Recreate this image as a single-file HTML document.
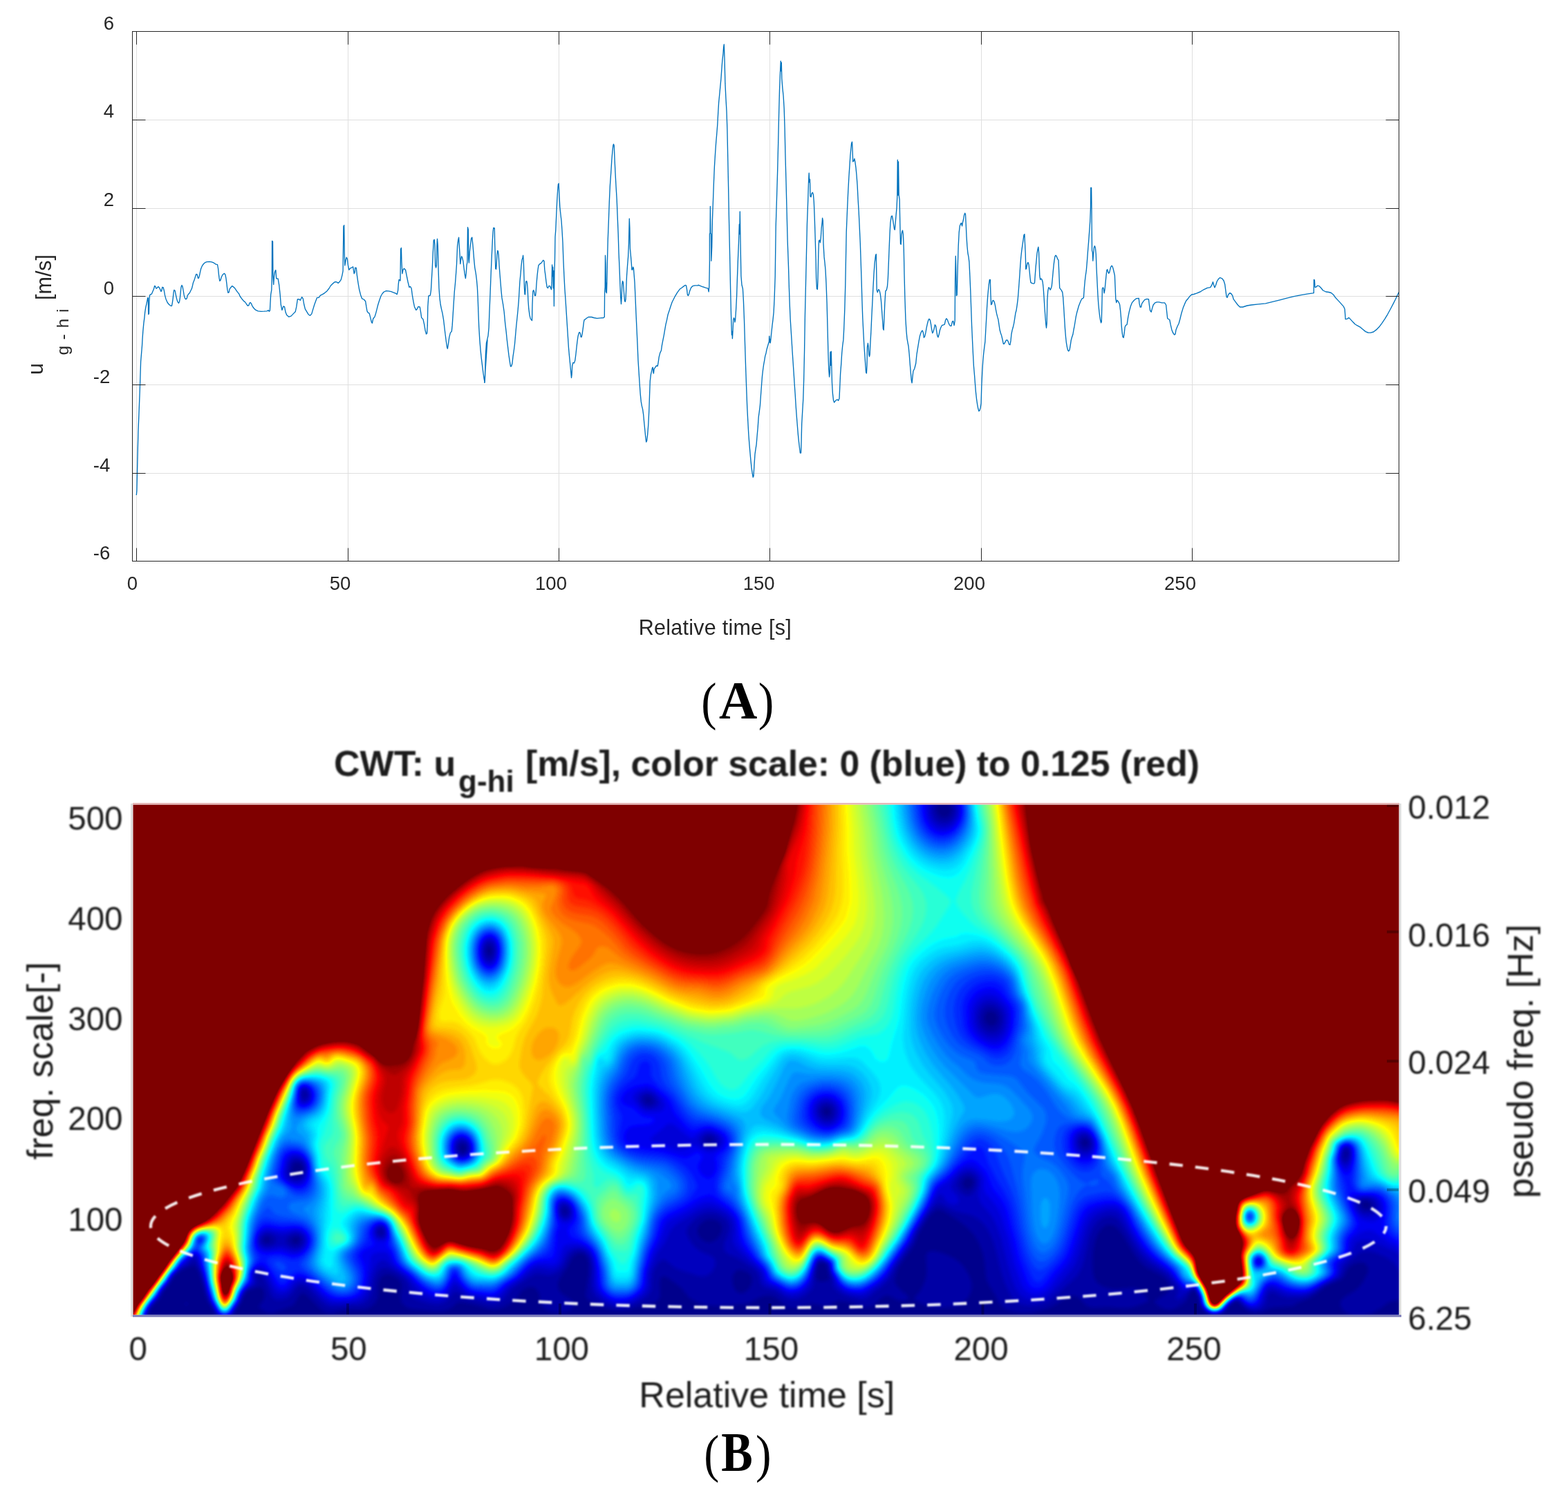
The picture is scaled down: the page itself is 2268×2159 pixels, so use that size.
<!DOCTYPE html>
<html lang="en"><head><meta charset="utf-8"><title>CWT figure</title>
<style>html,body{margin:0;padding:0;background:#fff;}svg{display:block;}</style></head>
<body>
<svg xmlns="http://www.w3.org/2000/svg" width="2268" height="2159" viewBox="0 0 2268 2159">
<g id="chartA">
<path d="M197.5 45.5V811.5M503.5 45.5V811.5M808.5 45.5V811.5M1113.5 45.5V811.5M1419.5 45.5V811.5M1724.5 45.5V811.5M191.5 684.5H2023.5M191.5 556.5H2023.5M191.5 428.5H2023.5M191.5 301.5H2023.5M191.5 173.5H2023.5" stroke="#dfdfdf" stroke-width="1" fill="none"/>
<path d="M197.3,716.0 197.9,709.6 198.9,665.0 199.9,624.4 200.9,600.0 202.3,563.8 203.6,523.0 205.5,500.0 206.0,490.8 206.8,479.1 207.9,467.4 209.0,458.8 209.7,451.4 210.8,444.4 211.9,439.6 212.9,434.8 213.7,430.6 214.3,430.6 214.7,454.6 215.4,453.5 215.8,436.4 216.6,426.9 217.9,425.6 219.3,425.3 220.9,421.5 222.5,417.8 223.6,413.5 224.6,413.8 226.0,417.3 227.3,416.2 228.9,414.6 230.3,415.7 231.8,418.9 232.9,421.5 233.7,420.5 234.8,415.3 236.1,415.7 237.4,420.5 238.5,426.9 239.9,432.2 242.2,437.5 244.4,440.2 247.0,442.3 248.4,442.3 249.2,438.6 250.2,431.6 251.0,423.7 251.8,419.4 253.1,420.2 254.2,425.8 255.6,432.2 256.9,436.4 258.4,438.4 259.5,436.4 260.4,430.6 261.2,422.6 262.0,415.1 263.0,412.5 264.1,414.6 265.2,420.5 266.2,426.9 267.6,431.6 268.9,432.7 270.2,431.6 271.2,427.4 272.6,425.3 274.2,423.7 275.8,420.5 277.4,417.3 278.5,413.0 279.3,409.3 280.6,406.1 281.9,402.3 283.0,398.6 283.8,396.5 285.1,397.0 286.5,402.3 287.5,402.1 288.6,398.1 289.7,392.7 290.7,388.5 292.3,384.7 294.5,381.5 296.6,379.7 299.3,378.7 303.0,378.3 306.2,378.9 309.4,380.2 312.1,382.1 314.5,382.6 315.6,388.5 316.3,395.9 317.1,402.3 317.9,406.4 319.0,405.0 320.3,400.7 322.0,397.2 324.5,395.4 325.9,397.2 327.0,402.9 328.0,410.9 328.8,418.3 329.9,423.4 331.2,422.6 332.0,418.3 333.4,416.2 335.8,413.5 337.6,414.9 339.2,416.2 341.4,419.4 343.5,422.4 345.6,424.7 347.2,428.5 349.9,432.2 352.6,435.4 354.7,437.0 356.8,440.2 358.6,442.3 360.0,441.2 361.1,438.0 362.2,437.5 363.5,439.1 364.8,442.3 367.0,445.5 369.6,448.2 373.3,449.8 377.6,450.3 381.9,450.1 386.1,449.8 388.3,448.7 389.3,450.3 390.4,449.2 390.9,439.6 391.7,425.8 392.8,419.4 393.4,395.9 393.6,348.5 394.5,349.0 394.9,398.1 395.7,411.4 396.6,398.1 397.7,392.7 398.7,390.6 398.9,391.0 399.7,402.8 402.1,402.8 403.7,412.2 405.2,426.4 406.3,440.5 407.9,448.4 409.9,442.9 411.5,443.7 413.1,451.6 414.7,455.5 417.8,458.2 421.0,457.1 424.1,453.9 427.2,450.8 428.8,443.7 430.4,432.7 432.7,432.7 434.3,434.3 436.7,429.5 438.3,431.9 439.8,440.5 441.4,446.8 443.8,450.8 446.1,454.7 448.5,456.3 450.8,453.9 452.4,448.4 454.8,440.5 457.1,434.3 458.7,430.3 461.1,430.3 463.4,427.2 466.6,425.6 469.7,423.6 472.9,420.9 476.0,417.0 478.4,413.0 481.5,409.9 484.7,407.5 487.0,407.8 489.1,409.4 490.9,407.8 493.3,404.4 494.9,398.1 496.1,391.8 496.9,327.3 497.7,325.7 498.2,365.0 498.8,383.9 500.1,376.1 501.2,372.1 502.4,374.5 503.5,383.9 504.8,390.2 506.7,387.9 509.0,386.8 510.6,385.8 512.2,395.7 513.3,393.4 513.7,387.1 515.3,387.4 516.4,398.1 518.0,409.1 519.6,418.5 521.6,426.4 523.7,431.9 526.3,433.0 528.7,435.8 529.9,443.7 531.0,450.0 532.6,452.3 534.2,453.1 535.8,459.4 537.3,465.7 538.4,467.3 539.7,461.0 542.1,457.8 543.6,453.1 545.2,446.8 546.8,440.5 548.8,434.3 551.0,428.0 553.1,424.5 555.4,422.0 558.6,420.6 561.7,420.9 565.7,421.7 568.8,422.9 571.9,424.0 574.3,425.6 575.6,420.1 576.3,410.7 577.1,404.4 579.0,405.9 579.6,360.3 580.4,358.4 580.9,377.6 581.9,395.7 583.0,390.2 584.5,388.2 586.6,390.5 588.1,398.1 590.0,407.5 591.9,415.4 593.5,414.3 595.1,417.0 596.3,426.4 597.9,435.8 599.5,443.7 601.8,448.4 603.4,446.8 605.0,443.4 607.3,444.0 608.6,451.6 609.7,459.4 612.0,461.8 613.6,468.9 615.2,478.3 616.5,483.0 617.6,482.2 618.3,470.4 618.8,443.7 619.9,428.0 622.3,427.2 623.4,420.1 624.3,404.4 625.4,385.5 626.2,366.6 627.3,347.7 628.2,346.5 628.9,354.0 629.7,383.9 630.6,387.1 631.4,383.9 632.0,355.6 632.5,345.4 633.3,355.6 634.1,390.2 635.0,417.0 636.0,431.1 637.2,440.5 638.5,446.8 640.0,453.1 641.6,462.6 642.7,472.0 644.0,483.0 645.4,494.0 646.7,502.7 647.4,504.2 648.5,497.2 649.8,487.7 651.4,481.4 653.3,479.1 654.2,470.4 655.3,453.1 656.4,435.8 657.3,421.7 658.4,410.7 659.5,396.5 660.5,382.3 661.6,355.6 662.9,346.2 663.6,343.3 664.4,357.2 665.2,369.8 665.8,381.6 666.8,374.5 667.6,370.6 668.7,372.9 669.9,377.6 671.0,387.1 672.1,395.7 673.4,402.5 674.3,394.9 675.0,383.9 675.9,379.2 676.5,328.6 677.3,332.0 677.8,374.5 678.4,380.0 679.4,363.5 680.5,354.0 681.7,344.6 682.8,343.3 683.9,354.0 684.7,363.5 685.7,376.1 686.8,387.1 688.3,395.7 689.4,404.4 690.4,415.4 691.2,431.1 691.9,451.6 692.7,472.0 693.8,490.9 695.1,506.6 696.4,519.2 697.8,530.2 699.0,539.6 700.1,547.5 701.2,553.0 701.7,542.8 702.5,512.9 703.6,497.2 705.0,491.7 700.8,553.4 701.6,543.1 702.4,512.5 703.5,495.9 704.7,491.2 706.0,485.7 707.1,473.9 707.9,451.9 709.1,423.1 710.2,394.7 711.3,369.6 712.3,348.4 713.1,335.0 713.8,329.5 715.3,329.9 715.7,352.3 716.2,365.7 716.8,388.5 717.6,389.2 718.2,382.2 718.9,368.8 719.7,362.5 720.4,363.0 721.2,368.8 722.0,383.0 723.0,396.3 723.9,407.3 724.9,419.9 726.0,430.9 727.5,439.3 729.1,450.3 730.7,467.6 732.2,480.2 733.3,491.2 734.6,502.2 735.9,513.2 737.3,522.7 738.5,529.8 739.6,529.8 740.9,525.8 742.0,515.6 743.3,507.0 744.5,497.5 745.6,484.9 746.7,472.3 748.0,459.8 749.1,448.8 750.3,434.6 751.9,407.3 753.0,396.3 753.9,385.3 755.0,375.9 756.0,372.7 756.6,369.3 757.3,377.4 757.9,397.9 758.5,416.8 759.0,425.4 759.6,425.9 760.1,415.2 760.7,407.3 761.7,406.5 762.4,408.9 763.2,418.3 763.9,434.1 764.8,446.7 766.1,456.1 767.3,460.8 769.5,463.6 770.0,440.4 770.8,421.5 771.7,419.6 772.7,422.3 773.6,427.5 774.6,427.5 775.2,422.3 776.0,410.5 777.1,397.9 778.0,390.0 779.0,383.7 780.5,381.9 782.6,380.6 784.1,378.7 785.7,376.3 787.0,377.4 787.8,390.0 788.9,397.9 790.0,407.3 791.2,415.2 792.5,416.5 794.1,413.3 795.6,413.9 796.7,416.8 797.5,418.7 798.1,408.9 798.6,383.0 799.2,399.5 799.7,386.1 800.3,416.8 800.8,391.6 801.4,442.7 801.9,394.7 802.5,375.9 803.0,342.8 803.8,332.6 804.7,312.2 805.7,290.9 806.6,276.0 807.4,266.6 808.2,265.3 808.8,279.9 809.8,298.8 810.9,309.8 812.0,319.3 812.9,331.8 814.0,350.7 814.8,374.3 815.9,398.7 816.9,417.6 818.0,433.3 819.2,451.9 820.3,469.2 821.4,486.5 822.4,502.2 823.5,514.8 824.6,525.8 825.5,535.3 826.5,546.3 827.1,541.6 827.7,529.0 829.0,524.3 830.5,525.0 831.8,521.1 832.9,512.5 834.0,502.2 834.9,494.4 836.0,486.5 837.2,481.8 838.1,480.5 839.2,481.8 840.3,487.3 841.2,487.3 842.3,481.8 843.4,473.9 844.4,466.1 845.0,462.9 847.1,461.3 849.4,459.5 851.0,458.5 855.7,458.5 858.9,459.5 863.6,460.4 868.3,459.8 873.0,459.5 874.3,458.2 874.6,422.0 875.2,415.2 875.5,369.3 876.0,381.4 876.5,422.3 876.9,408.9 877.4,423.8 877.9,408.1 878.5,376.7 879.3,346.0 880.4,317.7 881.3,292.5 882.4,268.1 883.7,250.0 884.8,232.0 885.9,218.6 886.9,209.9 887.5,208.4 888.3,210.7 889.1,231.2 890.0,250.0 891.1,270.5 892.2,288.6 893.1,311.4 894.2,338.1 895.0,364.9 896.1,390.0 896.9,411.3 897.7,429.4 898.5,439.6 899.1,430.9 899.7,412.0 900.5,406.5 901.3,408.1 902.0,416.0 902.7,426.2 903.5,434.9 904.3,436.4 905.1,432.5 905.7,418.3 906.5,399.5 907.6,383.7 908.6,371.2 909.5,351.5 910.3,316.1 910.9,330.3 911.4,359.4 912.3,368.8 913.3,380.6 913.9,390.0 914.8,390.0 915.6,386.1 916.4,387.7 917.0,395.5 918.0,408.1 918.9,427.8 919.9,451.9 921.0,475.5 922.1,499.1 923.0,521.1 924.1,538.4 925.2,555.7 926.2,569.9 927.3,580.9 928.4,587.2 929.6,591.9 930.7,599.7 931.7,610.8 932.8,621.8 933.7,631.2 934.7,639.1 935.6,637.5 936.7,628.1 937.8,613.9 938.8,593.5 939.5,573.0 940.3,551.0 941.4,541.6 942.5,536.8 943.5,532.1 944.3,531.3 944.9,538.4 945.4,540.0 946.1,533.7 947.7,531.3 949.3,529.0 951.2,529.3 952.1,524.3 953.2,516.4 954.8,510.1 956.4,507.0 957.5,499.1 958.7,492.8 960.3,484.9 961.6,477.1 963.0,469.2 964.5,462.9 966.1,455.0 968.2,448.8 970.2,442.5 972.1,437.0 974.5,432.2 976.5,428.3 979.6,423.1 983.1,418.3 986.3,416.0 989.4,413.6 991.3,412.4 992.5,412.8 993.5,418.3 994.4,426.2 995.4,427.5 996.5,425.4 997.7,420.7 999.6,416.0 1002.0,413.6 1005.1,412.8 1010.0,412.8 1010.0,412.2 1015.3,414.3 1020.6,416.1 1024.1,417.1 1025.1,421.9 1025.8,414.0 1026.4,380.6 1026.4,338.5 1027.1,336.7 1027.4,298.4 1027.8,336.7 1028.5,338.5 1028.8,377.2 1029.7,356.9 1030.4,319.1 1031.5,289.2 1032.5,262.0 1033.4,240.9 1034.6,221.5 1035.7,205.7 1036.7,194.2 1037.8,180.2 1038.7,163.5 1039.6,148.5 1040.8,136.2 1041.8,125.6 1042.9,114.2 1043.8,101.0 1044.8,87.8 1045.9,78.1 1046.6,68.5 1047.3,64.1 1048.0,84.3 1048.9,120.4 1049.9,141.5 1051.0,160.8 1051.9,187.2 1052.7,225.9 1053.6,269.9 1054.5,318.2 1055.6,368.4 1056.6,417.5 1057.5,455.3 1058.4,484.3 1058.9,479.1 1059.4,489.6 1060.0,479.1 1060.7,462.3 1061.5,459.7 1062.4,461.5 1062.9,465.9 1063.6,462.3 1064.5,449.2 1065.6,428.0 1066.5,399.9 1067.5,373.5 1068.4,352.6 1069.3,324.4 1069.8,338.5 1070.3,305.9 1070.9,342.0 1071.9,399.0 1073.0,412.2 1074.4,417.5 1075.4,435.1 1076.5,463.2 1077.5,496.6 1078.6,530.9 1079.7,561.7 1080.7,588.1 1081.8,609.2 1082.8,627.7 1083.9,642.6 1084.9,654.1 1086.0,666.4 1087.0,676.1 1088.1,684.0 1089.2,690.1 1090.0,688.4 1090.9,673.4 1092.0,656.7 1093.0,649.7 1094.1,642.6 1095.1,630.3 1096.2,618.0 1097.2,603.1 1098.3,595.2 1099.4,586.4 1100.4,572.3 1101.5,557.3 1102.5,544.1 1103.6,534.5 1104.6,527.4 1105.7,521.3 1106.7,515.1 1108.0,510.7 1109.0,505.4 1110.3,501.0 1111.3,497.5 1112.4,494.0 1112.7,486.1 1113.3,494.9 1113.8,490.5 1114.3,495.8 1115.0,489.6 1115.9,480.8 1116.9,471.1 1118.0,462.3 1119.1,451.8 1120.1,431.6 1121.2,399.9 1122.2,327.9 1123.5,286.6 1124.7,246.1 1125.7,205.7 1126.6,166.1 1127.5,130.9 1128.6,102.8 1129.3,88.3 1129.8,102.8 1130.3,90.5 1130.8,113.3 1131.9,127.4 1133.1,138.8 1134.2,157.3 1135.1,185.4 1135.9,222.4 1137.0,262.8 1138.1,306.8 1139.1,347.3 1140.5,385.8 1141.4,416.6 1142.3,442.1 1143.2,462.3 1144.2,478.2 1145.1,492.3 1146.0,507.2 1147.0,522.2 1148.1,538.9 1149.1,554.7 1150.2,570.5 1151.2,587.2 1152.3,602.2 1153.4,616.3 1154.4,628.6 1155.5,639.1 1156.5,647.9 1157.4,655.0 1158.5,655.0 1159.0,641.8 1159.7,612.7 1160.7,595.2 1161.8,576.7 1162.7,547.7 1163.6,506.3 1164.4,457.1 1165.5,409.6 1167.4,324.4 1168.7,290.1 1169.5,263.7 1170.2,250.2 1170.8,263.7 1171.5,259.3 1172.0,283.9 1173.1,284.8 1173.9,280.1 1175.3,278.3 1176.4,281.3 1177.3,291.9 1178.2,313.9 1179.2,345.5 1180.1,375.4 1180.6,402.5 1181.5,417.5 1182.4,418.4 1182.9,406.9 1183.8,366.6 1184.5,348.2 1185.4,347.3 1186.4,350.8 1187.3,343.8 1188.2,329.7 1189.1,321.8 1189.6,315.3 1190.3,319.1 1191.0,352.6 1192.1,371.9 1192.9,378.8 1194.0,390.2 1195.0,409.6 1196.1,438.6 1197.0,473.8 1197.9,509.8 1198.7,533.6 1199.6,545.0 1200.3,538.9 1201.0,509.0 1201.7,528.3 1202.3,508.1 1202.8,528.3 1203.5,553.8 1204.4,568.8 1205.6,579.3 1206.7,582.0 1207.9,580.2 1209.6,578.4 1211.4,577.9 1212.6,579.3 1214.0,576.2 1214.7,560.9 1215.6,540.6 1216.7,526.6 1217.7,510.7 1218.8,499.3 1219.9,491.4 1220.7,475.5 1221.8,447.4 1222.8,411.3 1224.2,335.8 1225.5,304.2 1226.7,277.8 1227.9,255.8 1229.0,239.1 1229.9,225.0 1230.9,214.5 1231.6,207.4 1232.5,205.1 1233.0,214.5 1233.7,233.8 1234.8,232.9 1235.9,229.4 1236.9,234.7 1238.0,242.6 1239.0,253.2 1240.1,268.1 1241.1,288.3 1242.2,306.8 1243.2,327.9 1244.3,351.7 1245.2,378.8 1246.1,406.1 1246.9,434.2 1247.8,459.7 1248.9,481.7 1249.9,500.2 1251.0,516.0 1251.9,529.2 1252.7,538.9 1253.4,539.7 1254.0,528.3 1254.5,501.9 1255.4,496.3 1256.1,501.0 1256.8,512.5 1257.5,515.6 1258.2,512.5 1258.7,500.2 1259.8,480.8 1260.8,458.8 1261.9,436.8 1262.9,416.6 1264.0,396.4 1265.1,380.6 1265.9,374.4 1266.5,369.3 1267.3,367.5 1267.5,377.0 1268.2,419.3 1269.3,422.8 1270.7,418.4 1272.1,420.1 1273.3,425.4 1274.4,434.2 1275.4,447.4 1276.5,462.3 1277.4,475.5 1278.2,477.3 1279.0,458.0 1279.8,438.6 1280.9,421.0 1282.3,419.3 1283.5,414.0 1284.4,402.5 1285.3,380.6 1286.2,357.8 1287.0,338.5 1287.9,322.3 1289.2,313.0 1290.4,312.1 1291.4,317.4 1292.5,324.4 1293.6,331.4 1294.3,332.3 1295.0,324.4 1296.0,312.1 1297.1,299.8 1297.8,283.9 1298.3,231.2 1299.0,282.2 1299.5,233.8 1300.2,282.2 1301.1,288.3 1301.8,322.6 1302.5,352.6 1303.2,353.4 1303.9,340.2 1304.8,335.0 1305.5,333.2 1306.4,338.5 1307.3,361.3 1308.0,396.4 1308.9,431.6 1309.9,461.5 1311.0,479.1 1312.0,489.6 1313.1,495.8 1314.1,501.0 1315.2,512.5 1316.2,525.7 1317.3,538.9 1318.2,549.4 1319.1,553.8 1319.9,545.9 1320.9,536.7 1322.8,533.0 1324.7,525.5 1326.0,512.5 1327.5,503.1 1329.0,493.8 1330.4,486.3 1331.8,481.7 1333.1,478.9 1334.2,477.9 1335.3,480.7 1336.4,488.2 1337.7,486.3 1339.0,480.7 1340.1,474.2 1341.5,467.7 1342.8,463.0 1343.9,461.2 1345.2,462.5 1346.5,468.6 1347.6,476.1 1348.7,481.7 1349.9,479.8 1351.2,475.1 1352.3,469.6 1353.6,471.4 1354.7,478.9 1355.8,485.4 1356.9,487.8 1358.2,483.5 1359.6,477.0 1361.0,473.3 1362.5,470.5 1364.4,469.9 1366.3,469.2 1367.6,463.0 1368.9,460.6 1370.4,462.5 1371.9,466.8 1373.2,469.6 1374.5,471.4 1376.0,471.4 1377.5,464.9 1378.8,464.3 1380.1,470.5 1381.2,464.0 1381.6,402.4 1382.3,370.3 1382.9,398.7 1383.4,427.6 1384.2,426.6 1384.7,408.0 1385.5,378.1 1386.2,355.7 1387.2,336.2 1388.3,326.8 1389.4,324.0 1390.5,322.5 1391.6,326.8 1392.4,322.2 1393.5,317.5 1394.6,311.0 1395.7,308.2 1396.5,310.0 1397.2,324.0 1398.0,341.8 1398.9,355.7 1399.9,366.0 1401.0,371.6 1401.9,379.1 1402.8,397.7 1403.8,421.0 1404.7,446.2 1405.6,471.4 1406.6,493.8 1407.5,512.5 1408.4,529.3 1409.6,543.2 1410.5,555.4 1411.4,566.6 1412.5,576.8 1413.7,585.2 1414.8,590.8 1415.9,594.6 1417.0,593.6 1418.1,589.9 1419.1,583.4 1419.8,559.1 1420.7,539.5 1421.7,522.7 1422.6,512.5 1423.7,503.1 1424.9,493.8 1425.8,477.0 1426.7,461.2 1427.6,444.4 1428.6,429.4 1429.5,419.2 1430.4,410.8 1431.4,404.3 1432.3,404.3 1432.9,424.8 1433.6,440.6 1434.6,439.7 1435.7,435.0 1437.0,434.5 1438.3,436.9 1439.4,441.6 1440.5,448.1 1441.6,453.7 1442.8,458.4 1443.9,462.1 1445.0,469.6 1446.1,477.0 1447.4,481.7 1448.7,485.4 1450.0,491.0 1451.3,497.2 1452.5,497.2 1454.0,494.7 1455.4,491.9 1456.9,491.6 1458.2,493.8 1459.6,498.1 1461.0,498.5 1462.0,492.9 1462.9,483.5 1464.0,477.9 1465.3,473.3 1466.6,467.7 1467.8,460.2 1468.9,452.8 1470.0,449.0 1471.1,441.6 1472.2,433.2 1473.0,423.8 1473.9,411.7 1474.9,397.7 1475.8,383.7 1476.7,372.5 1477.8,362.3 1479.0,353.9 1480.1,346.4 1481.0,339.9 1481.9,338.6 1482.5,352.0 1483.2,366.0 1483.8,389.3 1484.6,388.4 1485.3,383.7 1486.2,380.4 1487.2,379.6 1488.1,382.8 1489.0,391.2 1490.0,401.5 1490.9,408.4 1492.4,409.5 1493.9,409.9 1495.4,410.2 1496.5,408.9 1497.2,398.7 1498.2,385.6 1499.1,376.3 1500.0,366.6 1501.0,360.4 1501.9,357.2 1502.6,365.1 1503.2,381.9 1503.8,398.7 1504.7,404.3 1505.8,402.9 1507.1,404.3 1508.2,408.0 1509.2,417.3 1510.1,430.4 1511.0,445.3 1512.0,459.3 1512.9,469.6 1513.5,474.2 1514.2,467.7 1514.8,435.0 1515.7,421.0 1516.8,415.8 1517.9,416.4 1519.1,419.2 1520.2,417.3 1521.3,413.6 1522.2,404.3 1523.2,393.1 1524.1,383.7 1525.0,376.3 1526.0,370.7 1527.1,369.2 1528.4,371.0 1529.7,374.4 1531.0,376.3 1531.8,394.9 1532.7,416.4 1534.0,418.2 1535.5,420.1 1536.8,422.9 1537.7,430.4 1538.7,445.3 1539.6,460.2 1540.5,475.1 1541.5,487.3 1542.4,495.7 1543.5,502.2 1544.6,506.5 1545.7,507.8 1547.1,505.9 1548.2,499.4 1549.3,491.9 1550.6,487.3 1551.9,483.5 1553.0,477.0 1554.1,471.4 1555.3,464.0 1556.4,457.4 1557.7,451.8 1559.0,447.2 1560.3,442.5 1561.8,438.8 1563.3,435.0 1564.8,432.2 1566.3,431.3 1567.4,430.4 1568.3,417.3 1569.3,406.1 1570.2,398.7 1571.3,391.2 1572.4,378.1 1573.5,363.2 1574.7,348.3 1575.8,333.4 1576.7,320.3 1577.5,299.8 1577.8,271.4 1578.6,271.4 1579.0,299.8 1579.5,362.3 1580.3,365.1 1580.8,377.2 1581.6,366.9 1582.5,357.6 1583.4,355.7 1584.4,358.5 1585.3,367.9 1586.0,387.5 1587.0,408.0 1587.9,425.7 1588.8,439.7 1589.8,450.0 1590.7,457.4 1591.6,463.0 1592.6,466.8 1593.3,464.9 1593.9,439.7 1594.4,417.3 1595.4,415.8 1596.3,417.3 1597.1,423.8 1598.0,419.2 1598.9,409.9 1599.9,399.6 1600.8,391.2 1601.7,389.7 1602.6,393.1 1603.6,395.3 1604.7,394.0 1605.8,389.3 1606.9,385.6 1608.1,384.3 1609.2,385.6 1610.3,389.3 1611.4,394.0 1612.4,398.7 1613.1,415.4 1613.8,432.2 1614.8,437.5 1615.9,434.1 1617.2,435.6 1618.5,437.8 1619.6,440.6 1620.6,449.0 1621.5,459.3 1622.2,471.4 1623.2,481.7 1624.1,487.3 1625.2,488.2 1626.2,481.7 1627.1,473.3 1628.2,470.5 1629.7,469.6 1630.1,469.3 1631.6,459.4 1633.2,451.2 1635.3,443.0 1637.3,437.9 1640.4,434.2 1643.5,431.7 1647.2,431.3 1648.0,438.9 1649.2,444.0 1650.5,444.0 1651.7,438.9 1653.8,435.8 1655.8,433.3 1658.9,432.3 1661.4,432.7 1662.4,441.0 1663.6,449.2 1665.1,451.2 1666.5,446.1 1668.1,441.0 1670.6,437.9 1673.3,436.8 1676.4,436.8 1680.5,437.9 1684.6,437.9 1686.6,441.0 1687.7,451.2 1688.7,460.5 1691.8,462.5 1693.2,469.7 1694.9,476.9 1696.5,481.0 1698.6,484.1 1700.0,483.1 1701.0,476.9 1703.1,471.8 1705.1,467.7 1706.8,461.5 1708.8,453.3 1711.3,445.1 1713.8,438.9 1715.8,434.8 1718.5,431.7 1721.2,428.2 1723.6,426.0 1726.7,425.5 1730.8,424.1 1736.0,422.0 1741.1,418.8 1746.2,416.3 1750.7,415.7 1752.8,412.2 1754.4,407.7 1755.7,412.2 1756.9,415.9 1758.6,412.2 1760.2,407.0 1762.3,403.6 1764.7,401.5 1767.8,402.9 1770.1,406.0 1771.7,411.2 1772.9,420.4 1774.0,428.6 1775.0,430.3 1776.6,426.2 1778.7,423.7 1780.7,424.5 1782.8,427.6 1784.2,432.7 1787.3,436.8 1790.4,441.0 1793.5,444.0 1797.6,444.0 1803.8,442.0 1809.9,441.0 1820.2,439.9 1830.5,438.9 1840.7,436.4 1851.0,433.8 1861.3,431.1 1871.6,428.6 1881.8,426.6 1892.1,424.9 1899.3,423.9 1900.3,423.5 1900.5,404.4 1901.4,405.0 1902.0,415.3 1903.4,415.3 1905.5,413.2 1908.1,413.6 1910.6,416.3 1913.7,420.0 1917.8,422.0 1921.9,422.5 1925.4,423.5 1928.7,426.2 1931.1,429.7 1934.2,433.1 1937.3,436.4 1940.4,439.9 1943.5,443.4 1945.1,447.1 1946.1,461.5 1948.6,461.1 1951.1,459.4 1953.7,462.1 1956.8,465.6 1959.9,468.7 1963.0,470.7 1967.1,472.8 1971.2,476.3 1975.3,479.6 1978.8,481.0 1982.5,481.2 1986.6,480.0 1990.7,476.9 1994.8,472.8 1998.9,467.3 2003.1,461.1 2007.2,454.3 2011.3,446.7 2015.4,438.9 2018.5,432.7 2021.1,427.0 2023.6,422.0" stroke="#0072bd" stroke-width="1.35" fill="none" stroke-linejoin="round"/>
<path d="M197.5 811.5v-19M197.5 45.5v19M503.5 811.5v-19M503.5 45.5v19M808.5 811.5v-19M808.5 45.5v19M1113.5 811.5v-19M1113.5 45.5v19M1419.5 811.5v-19M1419.5 45.5v19M1724.5 811.5v-19M1724.5 45.5v19M191.5 684.5h19M2023.5 684.5h-19M191.5 556.5h19M2023.5 556.5h-19M191.5 428.5h19M2023.5 428.5h-19M191.5 301.5h19M2023.5 301.5h-19M191.5 173.5h19M2023.5 173.5h-19" stroke="#262626" stroke-width="1" fill="none"/>
<rect x="191.5" y="45.5" width="1832.0" height="766.0" fill="none" stroke="#262626" stroke-width="1"/>
<g font-family="'Liberation Sans',Arial,sans-serif" font-size="27.5" fill="#262626">
<text x="149.8" y="43.0">6</text>
<text x="149.8" y="170.2">4</text>
<text x="149.8" y="298.0">2</text>
<text x="149.8" y="425.8">0</text>
<text x="134.8" y="553.8">-2</text>
<text x="134.8" y="681.5">-4</text>
<text x="134.8" y="809.3">-6</text>
<text x="191.4" y="853" text-anchor="middle">0</text>
<text x="492" y="853" text-anchor="middle">50</text>
<text x="797" y="853" text-anchor="middle">100</text>
<text x="1097.6" y="853" text-anchor="middle">150</text>
<text x="1402" y="853" text-anchor="middle">200</text>
<text x="1707" y="853" text-anchor="middle">250</text>
</g>
<g font-family="'Liberation Sans',Arial,sans-serif" font-size="30.5" fill="#262626">
<text x="1034.4" y="917.6" text-anchor="middle" letter-spacing="0.25">Relative time [s]</text>
<text transform="translate(61.9,542) rotate(-90)">u</text>
<text transform="translate(98.8,513.5) rotate(-90)" font-size="24.5" letter-spacing="8.7">g-hi</text>
<text transform="translate(73.8,434) rotate(-90)">[m/s]</text>
</g>
</g>
<g font-family="'Liberation Serif','Times New Roman',serif" fill="#000">
<text transform="translate(1014.2,1039.6) scale(0.887,1)" font-size="75.4">(</text>
<text transform="translate(1039.9,1038.7) scale(0.975,1)" font-size="78.6" font-weight="bold">A</text>
<text transform="translate(1096.8,1039.6) scale(0.9,1)" font-size="75.4">)</text>
<text transform="translate(1018.2,2127.6) scale(0.877,1)" font-size="75.4">(</text>
<text transform="translate(1043.3,2126.7) scale(0.858,1)" font-size="79.5" font-weight="bold">B</text>
<text transform="translate(1093.1,2127.6) scale(0.9,1)" font-size="75.4">)</text>
</g>
<defs>
<clipPath id="hc"><rect x="192.5" y="1163.5" width="1831" height="738"/></clipPath>
<filter id="jet" x="0" y="0" width="100%" height="100%" filterUnits="objectBoundingBox" color-interpolation-filters="sRGB"><feComponentTransfer><feFuncR type="table" tableValues="0 0 0 0 2.22e-16 0.5 1 1 1 0.5 0.5"/><feFuncG type="table" tableValues="0 0 0 0.5 1 1 1 0.5 0 0 0"/><feFuncB type="table" tableValues="0.5 0.5 1 1 1 0.5 0 0 0 0 0"/></feComponentTransfer></filter>
<filter id="b2" x="-50%" y="-50%" width="200%" height="200%" color-interpolation-filters="sRGB"><feGaussianBlur stdDeviation="2"/></filter>
<filter id="b4" x="-50%" y="-50%" width="200%" height="200%" color-interpolation-filters="sRGB"><feGaussianBlur stdDeviation="4"/></filter>
<filter id="b6" x="-50%" y="-50%" width="200%" height="200%" color-interpolation-filters="sRGB"><feGaussianBlur stdDeviation="6"/></filter>
<filter id="b8" x="-50%" y="-50%" width="200%" height="200%" color-interpolation-filters="sRGB"><feGaussianBlur stdDeviation="8"/></filter>
<filter id="b10" x="-50%" y="-50%" width="200%" height="200%" color-interpolation-filters="sRGB"><feGaussianBlur stdDeviation="10"/></filter>
<filter id="b12" x="-50%" y="-50%" width="200%" height="200%" color-interpolation-filters="sRGB"><feGaussianBlur stdDeviation="12"/></filter>
<filter id="b16" x="-50%" y="-50%" width="200%" height="200%" color-interpolation-filters="sRGB"><feGaussianBlur stdDeviation="16"/></filter>
<filter id="b20" x="-50%" y="-50%" width="200%" height="200%" color-interpolation-filters="sRGB"><feGaussianBlur stdDeviation="20"/></filter>
<filter id="b25" x="-50%" y="-50%" width="200%" height="200%" color-interpolation-filters="sRGB"><feGaussianBlur stdDeviation="25"/></filter>
<filter id="b30" x="-50%" y="-50%" width="200%" height="200%" color-interpolation-filters="sRGB"><feGaussianBlur stdDeviation="30"/></filter>
<filter id="b40" x="-50%" y="-50%" width="200%" height="200%" color-interpolation-filters="sRGB"><feGaussianBlur stdDeviation="40"/></filter>
<filter id="hb" x="0" y="0" width="100%" height="100%" color-interpolation-filters="sRGB"><feGaussianBlur stdDeviation="2.5"/></filter>
<filter id="eb" x="-2%" y="-10%" width="104%" height="120%"><feGaussianBlur stdDeviation="0.8"/></filter>
<filter id="tb" x="-10%" y="-10%" width="120%" height="120%"><feGaussianBlur stdDeviation="0.9"/></filter>
</defs>
<g clip-path="url(#hc)"><g filter="url(#jet)">
<rect x="132.5" y="1103.5" width="1951.0" height="858.0" fill="#fff"/>
<g filter="url(#hb)"><path fill="#ededed" fill-rule="evenodd" d="M2032.4 1910l-0.4-319.1-16-3.7-8-1.1-12-0.6-13.9 0.3-14 1.4-12 2.2-10 3.1-8 3.7-8 5.5-8 7.4-10 11.9-5.3 7.7-15.7 30-7.7 19.9-4 14-1.9 4-3.3 4.3-18 14-4 2.1-6 1-14-0.4-6 1-27.9 12.1-6 3.9-2.7 3.9-1.1 3.9-2.8 16-0.4 10 1.5 8 5.4 11.9 2.1 8-0.1 6-2.1 13.9 3.4 24 0.2 6-0.5 4-0.9 2.4-2.5 3.5-21.5 18.5-8 8.3-4 2.5-2 0.1-2-0.9-2-2.4-0.9-2.1-4.9-16-8.2-13.9-4.7-10-1.3-6-0.9-12-1.9-6-3.8-5.9-9.4-10.7-4-7.7-18.1-47.5-40.9-115.7-9.9-25.9-7.8-17.9-27.1-57.5-12-26.8-10-24.7-17.5-46.6-4.6-10-12.2-23.9-7.7-24.2-17.4-41.7-9.6-33.9-6.5-13.9-2.8-8-12.2-47.9-2.1-12-1.1-9.9-2.1-49.9-126-0.4-217.9 0.4-0.8 12-2.7 17.9-12.2 49.9-4.1 9.2-15.6 26.7-5.2 10-5 11.9-5.1 16-3.1 6-6.7 10-7.9 9.9-7.6 8-9.7 8.4-10 6.9-8 4.2-10 3.9-10 2.4-14 0.9-8-0.6-8-1.3-14-4.4-8-3.8-5.9-3.6-12.2-9-13.4-12-9.4-9.9-21-24.6-12-11.7-15.5-11.6-18.4-10.7-10-7.4-6-2.8-26-3.6-18-5.1-4 0-12 2-7.9 0.2-10-0.8-12-2.5-4-0.3-30 3.2-18 3.1-13.9 4.7-12 6.7-10 6.9-15.8 12.4-13.5 11.9-7.3 8-6.3 8-5 8-2.8 6-4 13.9-2.3 12-0.7 19.9-2.4 24-1.4 19.9-4.5 49.2-2.7 22.6-3.3 12-1.9 3.7-5.9 8.3-4.1 9.8-2 3.4-4 3.5-6 2.5-14 3.4-6-0.5-4-2.3-22-18.5-6-3.9-6-2.6-6-1.7-5.9-1-8-0.5-8 0.4-10 1.2-8 1.6-8 2.4-8 3.2-8 4-5.3 3.5-4.6 4-7.9 8-2.2 3-4.7 9-18.9 29.9-5.3 10-9.8 21.9-33.2 83.8-10 22.1-3.2 5.8-20.7 25.5-17.5 18.4-7.4 6-17.1 9.1-5.2 4.8-2.5 4-4.3 11.3-2 3.5-20 26.2-8 12.6-6.5 8.3-7.4 11-9.4 10.9-6.3 10-7.9 10-13.3 23.9 48.8 0.4 1798.1 0 0.4-0.4zM713.4 1802.4l-6 0-23.9-3.4-12-2.7-14-4.6-4-0.8-4-0.1-4 0.8-10 4.2-4 1-2.8-0.5-3.2-1.8-4-4.4-4-6.5-4.2-9.2-2.3-8-0.3-8 2.1-18 0.7-3.9 1.9-4 4.1-3.5 4-1.5 10-1.8 12-1.1 8 0.3 12 2.5 6 0.5 33.9-4.7 8-0.4 6 1.2 6 3.4 5.7 5.1 3 6 1.1 5.9 0.7 10-0.7 12-1.8 8-2 5.9-5.9 12-2.8 4-3.3 3.3-2 1.4-4 1.4zM1210.9 1776.6l-4 0.3-4-1-4-2.1-9.3-7.4-4.7-2.8-14.4-5.2-3.8-2-1.9-2-1.4-4 0.7-4 1.1-2 6.9-5.9 14.8-9.4 8-4 8-2.2 10 0.1 14 2.5 10 3 7.5 4 2.4 2.4 2 3.2 1.6 6.3 0 4-0.9 4-2.7 5.3-3.9 3.5-12 5.2-16 8.9-4 1.3zM1870.2 1783.3l-2 0.7-2-0.5-3.2-3.2-2.8-6-1.9-7.9 0.1-4 1.5-4 2.3-2.6 4-2.1 2-0.1 2 0.6 2 1.3 3.2 4.9 1.1 4-0.1 6-1.5 6-2.7 5.1-2 1.8zM327.8 1869.1l-2 0.5-2-2.1-0.4-1.4-2.3-17.9 0.8-4.4 1.9-4 2-2.1 2-0.9 2 0.6 2 2 2.4 4.8 0.6 4-0.7 4-2.5 5.9-1.8 7.6-2 3.4z"/>
<path fill="#e3e3e3" fill-rule="evenodd" d="M2032.4 1910l-0.4-315.1-22-4.8-12-0.6-15.9 0.3-14 1.4-12 2.3-10 3-8 3.8-8 5.8-6 5.4-8 9-6.3 8.2-4.5 8-12 24-7.2 19.9-3.6 14-2.3 5.2-4 5.6-4 3.7-7.2 5.4-4.8 6.3-2 1.8-4 1.2-4-0.2-16-2.9-4 0-4 0.7-25.9 10.2-4 2-3.5 2.9-1.5 2-1.4 3.9-3 16-0.4 10 1.7 8 6.7 13.9 1.6 6-0.2 6-2.3 10-0.4 3.9 3.1 24-0.3 10-1.6 3.9-1.6 2-22.9 19.4-8 8.4-4 2.4-2 0.1-2-0.8-2-2-1.8-3.5-4.8-16-9.3-15.9-3.6-8-1.4-6-1.1-10-2-6.4-4-6.2-10-11.2-4-7.7-20.3-52.3-21.6-58.7-19.4-55-9.2-23.9-10.6-23.9-24.7-50.6-12-26.1-10-24.8-20.9-56.1-11.6-25.9-7.5-20.8-17.2-39.1-8.7-23.1-5.3-10.8-1.7-8-3.5-9.9-3.2-12-10.6-45.9-4.3-29.9-3.2-29.9-0.8-12-119.3-0.4-211.9 0.4-1 10-3.7 19.9-12.4 43.9-3.3 10-17.7 41.9-4.8 13.9-2.6 14-2.3 6-9.6 13.9-10.4 13.4-8 8.8-8 7.2-8.8 6.5-9.1 5.3-12 4.9-10 2.6-10 1.1-8 0.1-8-0.7-10-1.7-14-4.3-8-3.7-7.9-4.4-14-10.3-16-14-10-10.6-22.4-26.1-12.4-12-12.3-9.9-28.8-19.1-4-1-28-3.1-12-2.8-12 0.5-9.9-0.2-14-1-12-2.2-4-0.1-8 0.9-14 0.3-18 2.8-8 2.1-8 2.9-11.9 6.5-12 8.3-11.7 9.2-8.3 6.9-8 7.7-8 9-6.2 8.3-3.8 6.3-3.2 7.6-4.8 15.8-1.5 8.2-4.5 59.8-8 73.1-3.5 14.7-4.4 10-2 10.3-2 5-2 3.2-4 4-6 2.7-18 2.3-6-0.7-6-3.3-8-8.1-20.7-15.4-5.3-2.5-6-1.9-11.9-1.7-16 0.8-16 3.2-8 2.8-8 3.9-6 3.6-4 3.3-11.6 12.4-10.1 14-6.5 9.9-10.5 18-12.6 27.9-32.6 82.5-10 22.3-3.8 6.9-20.1 25.2-16.3 16.7-7.7 6.2-18 9.1-6 5.1-3.4 5.5-3.7 10-2.3 4-20.1 25.9-6.5 10.2-8.9 11.8-5.3 7.9-9.9 12-6.4 10-7.8 10-12 21.9-0.5 2 46.8 0.4 1798.1 0 0.4-0.4zM575.6 1708.7l-2 0.3-4-0.6-3.2-1.9-3.1-4-1.2-3.9 0.7-6 2.5-4 2.3-1.6 2-0.6 4 0.8 4 3.3 2.3 4.1 1.4 6-0.8 3.9-1.3 2-3.6 2.2zM717.4 1807.1l-4 0.9-4-0.3-12-3.4-17.9-2.9-12-3.1-12-4.1-4-0.5-4 0.5-4 1.5-12 6.9-4 0-2-1-4-4.1-4.5-7.2-5.5-11.7-3.5-10.2-1-8 0.9-14-0.8-11.9 0.4-4 0.9-2 1.6-2 3.3-2 8.2-1.7 28-1.6 6 0.4 12 2.1 6 0.2 19.9-2.6 22-4.4 4 0.1 4 1.1 7.4 4.4 6.4 6 2.4 6 0.3 21.9-0.8 10-3.7 13.9-6 13.4-6 8.8-2 2-4 2.6zM1212.9 1780.7l-6 0.5-4-1-6-3.4-10-7.8-6-2.5-8-0.6-10 1.5-2-0.4-2-1.2-2-2.6-1.2-2.8-1.7-8 0.4-8 2.5-5.5 3.1-2.4 12.9-4.7 20-10.2 6-2 6-1.1 10 0.3 16 2.8 10 3.1 7.9 4 2.2 1.8 3.1 4 1.6 4 1 5.9-1.1 10-2 6-2.2 4-2.6 2.9-2 1.3-3.9 1.2-10 1.6-20 9.3zM1870.2 1789.1l-2 0.6-2-0.4-2-1.3-2-2.4-3.1-7.3-3.1-13.9 0.3-4 1.9-4.8 4-4.5 4-2.1 2 0 2 0.7 4 3.7 2.6 5 1.5 6-0.1 6-2 9.6-2 4.7-2 2.8-2 1.6zM325.8 1872.3l-2-1.5-1.8-4.7-2.1-18 0.4-3.9 1.6-4.7 3.9-6.3 2-1.2 2 0.5 2 2.1 3.4 7.6 1 6-0.8 4-2.4 5.9-3.2 11.1-2 2.6-2 0.5z"/>
<path fill="#dedede" fill-rule="evenodd" d="M2032.4 1910l-0.4-313.2-22-4.7-12-0.6-13.9 0.2-14 1.2-12 2.1-10 2.7-8 3.4-8 5.5-7.1 6.2-8.9 9.8-6 8.1-15.3 30-7.2 19.9-3.4 14-2 5.2-6 9.1-8.7 7.6-5.8 10-1.5 1.3-4 0.5-18-5.4-6-0.9-4 0.3-4 1.1-22 8.3-5.9 2.8-2.5 2-1.6 2-1.7 3.9-3 16-0.5 8 0.6 6 1.3 4 7 13.9 1.7 6-0.3 6-2.2 8-0.8 5.9 3 24-0.3 10-1.6 3.9-3.1 3.7-20 16.4-10 10.1-4 2.4-2 0.1-2-0.6-2.2-2.1-1.8-3.6-5-16.4-9.3-15.9-3.7-8-1.4-6-1.2-10-2.1-6-3.9-5.9-9.4-10.3-4.4-7.7-19.7-49.9-17.8-47.2-25.1-70.5-10-25.9-10.8-23.9-23.8-47.9-12.1-25.9-10.4-26-20.4-55.8-11-25.9-4.3-12-21.4-47.9-8-19.9-6.6-12-2.6-12-3.3-11.6-4.9-20.3-6.9-31.9-8.2-53.9-2-19.9-115.9-0.4-208.8 0.4-1.8 14-4.7 21.9-13.9 43.9-7 17.9-8 24-5.9 19.9-2.6 14-2.5 6-8.5 12.8-14 18.7-7.1 8.4-6.9 6.4-10 7.3-9.9 5.5-12 4.8-10 2.4-8 0.9-10 0.2-10-0.9-10-1.8-8-2.2-8-3.1-15.9-8.4-14-10.5-16.7-14.6-9.4-10-23.9-27.6-14.8-14.3-14.7-11.9-18.4-12.9-4-1.9-4-0.8-26-2.3-10-1.6-37.9-2.6-12-1.7-22 0.3-14 1.6-14 3.2-12 4.5-9.9 5.7-10 6.9-9.8 7.6-10.2 8.5-8 7.8-6.8 7.6-6.1 8-4.9 8-3.4 7.9-5 16-1.8 9.1-1.9 20.8-2.5 35.9-8.3 73.8-2.8 14-3 10-1.7 9.9-2.2 6-3.5 6.1-6 5.9-6 2.9-10 1.5-6 0-4-0.6-4-1.4-4-2.3-4-3.7-6-6.8-22-15.8-10-3.9-11.9-1.9-16 0.7-16 3.1-6 2-8 3.8-6 3.4-4 3.1-12 12.5-10 12.5-7.3 10.8-10.3 18-12.6 27.9-33.2 83.8-9.7 21.9-3.3 6-20.4 25.9-15.6 16-9.4 7.2-18 8.8-6 5.3-2.8 4.6-3.7 10-2.3 4-20.2 25.9-7 10.9-8.4 11.1-5.5 8.3-9.6 11.6-6.4 10-9.2 12-10.4 19.9-0.5 2 46 0.4 1798.1 0 0.4-0.4zM579.6 1712.5l-6 0.3-6-1.9-5.8-4.4-2.6-4-1.5-5.9 0-4 0.8-4 3.1-5.9 4-3.2 2-0.8 4-0.1 4 1.6 4 3.8 4 6.8 2.4 7.8 0.4 3.9-0.3 4-0.8 2-1.5 2-4.2 2zM715.4 1810.3l-6-0.3-12-3.9-15.9-2.8-14-3.5-12-4.2-4-0.5-4 0.5-4 1.7-12 7.9-4 0.5-2.7-1.4-5.3-6-4-7.1-5.8-12.9-3.4-9.9-1.1-8 0.5-16-3.1-13.9 0.7-4 1.4-2 4.8-2.6 8-1.3 32-1 20 2.3 8-0.3 17.9-2.4 22-5.4 4 0.1 4 0.9 8 4.3 6 5.9 1.9 3.5 1 4-0.5 25.9-1.2 10-2 8-2.8 7.9-6.4 13.1-4 5.9-2.7 3-3.3 2.5-4 1.5zM1212.9 1782.8l-6 0.4-4-1-6-3.3-10-7.6-6-2.3-4-0.3-4 0.5-12 5-2-0.2-2-1.3-2-3.1-1.9-5-1.6-6.2-0.7-6 0.6-10 1.7-5 1.9-2.8 4-2.5 10-2 4-1.3 22-10.3 6-1.7 6-0.8 10 0.5 16 3.1 13.5 4.9 6.4 4 3.3 4 1.8 4 1 3.9 0.4 6-0.6 6-1.4 6-2.2 6-2.3 4-2 2.5-4 2.7-3.9 0.7-10 0.6-20 7.9zM1870.2 1792.4l-2 0.7-2-0.4-2-1.4-3.6-5-2.4-6.4-3.4-15.5 0.4-6 1.7-4 5.3-7 2-1.6 2-0.6 2 0.4 2 1 4 4.2 3.8 7.6 1.3 6-0.4 8-2.1 9.9-2.6 5.8-4 4.3zM327.8 1873l-2 0.6-2-1.3-1.9-4.1-2.6-20 0.6-5.1 2-5.9 3.9-6.9 2-1.2 2 0.3 0.9 0.8 2.5 4 2.9 8 0.7 6-0.7 4-3.1 7.9-2.1 8-1.1 2.5-2 2.4z"/>
<path fill="#d9d9d9" fill-rule="evenodd" d="M2032.4 1910l-0.4-311.2-18-4.2-12-1-23.9 0.4-10 1.1-10 1.8-12 3.3-8.8 4.6-11.2 9-10 11-7 9.9-12.9 26-7.7 21.9-2.7 12-2.3 6-7.3 12.3-6 6.7-2 4.9-1.5 8 0.2 4 2 3.9 5.3 7 2.7 5 2.7 8 0.7 6-1 10-1.7 7.9-3.4 7.5-4 4.9-2 1-2-0.4-2-1.8-4.6-7.2-2.7-8-3.6-17.9 0.9-6.4 5.6-13.6-0.1-3.9-2.9-4-5.5-4-7.7-4-7.4-2.5-6-0.6-6 1.3-20 7-5.9 2.6-4 2.7-2.4 3.4-1.2 4-2.6 14-0.5 8 0.7 6 1.2 4 7.5 13.9 1.8 6-0.1 4-3.2 12-0.5 3.9 2.8 24-0.3 10-1.4 3.9-3.5 4-20.3 16.5-10 10.2-4 2.3-2 0.1-2-0.6-2-1.7-2-3.5-5.4-17.3-8.2-13.9-4-8-1.9-6-1.8-12-2.2-6-4.2-5.9-9.2-10-4.6-8-36.4-92.9-26.7-74.7-10.1-25.9-10.8-23.9-24.2-47.9-11.3-23.9-9.7-24-23.1-63.6-12.9-32.1-21.9-47.9-9.1-21.5-7-12.4-2.3-12-7.4-29.9-6.5-29.9-10.4-61.8-1.7-16-112.6-0.4-205.7 0.4-1.8 14-4.6 21.9-21.6 61.8-13.4 55.9-3.8 10-6.8 11-20 28.9-8 9.1-9.1 6.8-12.8 7.2-12 4.9-10 2.6-10 1.1-10 0-10-0.8-10-1.7-10-2.8-8-3.1-9.9-5-8-4.8-12-8.9-18-15.9-10-10.5-24.4-28.1-22.9-21.9-14.4-12-8.2-5.7-4-2-6-1.2-83.9-8-22-0.1-14 1.8-14 3.3-10 3.7-11.9 6.7-10 6.9-8.5 6.6-11.5 9.9-7.9 8-6.1 7-5.1 7-4.7 7.9-3.5 8-5 16-2 10-4.6 55.8-8 67.8-5.1 33.9-0.9 4-2.2 6-3 6-3.8 5.7-6 6.1-10 7.6-4 2-4-0.4-6-3.8-10-7.7-12-13.5-8-5-10-7.6-4-2.4-6-2.5-11.9-2.4-8-0.3-8 0.5-10 1.4-8 1.8-6 2-8 3.9-6 3.5-3.8 3.1-12.2 12.7-10 11.9-6.3 9.3-10.4 18-12.5 27.9-32.7 82.7-10.1 23-3.9 7.1-19.3 24.8-15.5 16-4.8 4-6 4-12.3 5.4-6 3.3-5.8 5.2-2.4 4-3.7 10-2.3 4-20.3 25.9-7.5 11.5-13.9 19.4-9.1 11-6.9 10.7-8.7 11.3-10.3 19.9-0.4 2 45.3 0.4 1798.1 0 0.4-0.4zM715.4 1812.6l-6-0.4-12-4.4-15.9-3-16-4.2-10-3.5-4-0.6-4 0.6-4 1.8-12 8.7-4 0.7-4-1.9-4-4.7-4-6.7-9-20.6-1.9-6-1.1-6 0.2-14-0.5-4-1.7-4.8-5.2-9.1-4.2-10-2.5-1.3-14-2.7-6-2-8-4.6-3.5-3.4-1.3-2-1.7-3.9-0.9-4-0.2-8 1.6-6.6 4-6.7 4-3.5 4-1.6 2-0.1 4 1 2 1.2 4 3.6 4 5.7 4 8.8 3 10.2 2.5 13.9 0.7 2 1.8 1.5 35.9 0.7 20-0.6 16 1.8 8 0 19.9-2.5 8-2 12-4 6-0.8 4 0.4 5.7 1.5 6.8 4 4.7 6 1.6 4 0.8 4-1.4 29.9-1.6 10-5.2 15.9-7.1 14-6.3 8-4 2.8-4 1.5zM1214.9 1784.4l-6 0.8-6-1.2-6-3.2-10-7.1-4-1.8-4-0.5-4 0.5-4 1.6-10 7.7-2 1.1-2 0-2-2-3.2-7.9-2.5-10-1.1-8-0.2-8 0.7-6 2-5.9 2.4-3.5 3.9-2.8 10-1.1 6-1.4 22-9.7 8-2 6-0.7 10 0.5 14 3.3 14.4 5.4 7.5 4.3 3.2 3.7 2 4 1.4 5.9 0.3 6-0.9 8-2 7.4-2.5 6.6-3.5 5.8-2 2.2-4 2.7-3.9 0.5-8-0.9-4 0.3-16 5.4zM327.8 1874.3l-2 0.7-2-1.3-1.9-3.7-1.1-3.9-2.1-17.9 0.7-6 2.5-7.6 1.9-4.5 2-2.7 2-1.1 2 0.2 2 1.7 2 3.6 2.6 8.4 1.1 6-0.8 6-3.1 7.9-2.1 8-1.7 3.8-2 2.4z"/>
<path fill="#d4d4d4" fill-rule="evenodd" d="M2032.4 1910l-0.4-309.3-18-4-14-1.2-23.9 0.6-10 1.2-10 1.9-11.7 3.6-8.3 4.8-10 8.3-10 10.8-6 8.7-11.6 23.3-8.5 23.9-4 16-5.8 11.9-7.7 14-1.1 6 0.5 6 7.8 19.9 1.4 6 0.2 6-1.4 11.9-1.7 7.2-6 13.1-2 2.6-1.7 1.1-2.3 0.1-2-1.6-7.9-18.5-4.2-19.9-0.4-4 0.5-4.3 2.7-9.7 0.1-4-1.2-3.9-1.2-2-3.6-4-5.7-4-5.1-2.3-6-1.4-4 0.2-26 8.3-3.9 1.8-4 2.9-1.7 2.4-1.3 4-2.7 14-0.4 8 0.7 6 1.3 4 7.8 13.9 1.9 6-0.2 4-3 10-1 5.9 2.7 24 0 8-0.8 4-1.3 2.6-3 3.3-21 16.9-10 10.2-4 2.3-2 0.1-2-0.6-2-1.6-2-3.2-5.8-18.1-8.2-13.9-4.1-8-1.8-6-2.1-12-2-5.1-4-5.8-10.1-11-4.4-8-37.4-94-25.5-71.6-10.1-25.9-11.7-25.9-25.6-49.9-10.4-21.9-13.5-33.9-23.4-65.9-9.7-22.7-19.5-41.1-10.5-23.9-7.3-14-15.6-69.8-12.1-65.8-1.5-14-109.3-0.4-202.3 0.4-2.5 18-4 19.9-3.9 12-11 27.4-5.8 16.5-1.7 7.9-2.8 20-3 13.9-4.8 18-4.8 12-7.1 12.3-12.7 19.6-7.2 13.9-4.9 6-9.2 6.7-17.9 9.4-12 4.9-10 2.4-8 0.9-10 0.1-14-1-10-1.7-10-2.9-8-3.2-9.9-5.1-10-6.1-14-10.6-17.1-15.7-8.9-9.4-24-27.5-19.9-19.3-13-13.6-7.1-6-7.9-4.5-6.6-1.5-63.3-6.4-22-1.9-20 0-12 1.6-16 3.6-10 3.8-11.9 6.7-10 6.9-9.6 7.6-10.4 9.4-8 8.4-5.1 6.2-5.4 8-4.4 7.9-3.1 8-4.4 14-2.3 11.9-4.2 47.9-10.8 87.8-1.4 19.9-2.1 6-4.7 10.1-4 6.7-8 11.1-2.9 6-1.1 6-0.3 12-0.9 6-4.8 16.6-2 4.8-1.7 2.5-2.3 1.8-2 0.6-2 0.1-4-0.9-2-1.1-2.7-2.5-3.3-6.2-1.5-7.8 0.2-5.9 1.1-6 3.4-12 0.6-6-0.5-4-2.6-6-11.3-15.9-3.4-3.9-8-5-10-7.5-8-4.2-7.9-2.4-10-1.3-10 0.1-14 2-10 2.6-10 4.7-7.5 4.9-14.5 14.5-8.4 9.5-7 9.9-10.3 18-13.4 29.9-32.2 81.8-10.5 23.9-3.4 6-8.1 10-10.6 14.3-15.1 15.6-10.9 8-17.9 8.1-4 2.7-3.1 3.1-2.5 4-3.8 10-2.6 4.6-19.9 25.3-7.9 12-14.1 19.6-8.5 10.3-7.5 11.3-8.2 10.7-10.1 19.9-0.4 2 44.6 0.4 1798.1 0 0.4-0.4zM715.4 1814.6l-6-0.4-14-5.3-13.9-2.7-16-4.2-10-3.6-4-0.5-4 0.6-3.8 1.8-10.2 8.2-4 1.9-4-0.2-4-2.9-4-5.4-4-7.3-9.3-22.2-2.6-10-0.3-14-2-6-3.7-4.2-6-4.8-6-6.9-4.4-4-20.9-12-3.5-4-2-4-1.8-5.9-0.8-6 0.9-10 2-6 2.5-5.2 6-8.2 4-2.4 4 0.1 4 2.4 6 6.3 4 5.7 4 7.9 8 22.2 2 4.2 3.9 4.4 4 1.8 6 1.3 16 1.8 24-0.3 14 1.4 10 0.2 19.9-2.4 8-2.2 12-4.7 4-0.9 6-0.4 10 1.4 3.6 1.5 2.7 2 2.9 4 1.7 4 1.1 4.8 0.4 5.2-1.7 15.9-0.8 16-1.9 10-5.6 15.9-3.9 8-3.6 6-2.9 4-4 4.2-4 2.7-4 1.4zM1158.9 1788.7l-2 0.9-2-0.3-1.9-2.1-1.4-2.9-4.1-15.9-1.9-14-0.1-10 1.5-8.3 4-8.1 3.9-3.7 4-0.8 8 0.1 4-0.6 6-1.9 12-5.5 8-2.9 10-2.1 8-0.5 10 1.8 16 5.5 13.9 6.2 3.5 2.9 1.5 2 2.7 6 1.2 5.9 0.1 8-1.2 8-2.2 8-3.6 9.1-6 9.4-4 3.3-1.9 0.4-2-0.4-8-3-4-0.4-4 0.5-12 3.2-8 0.3-7.2-2.5-14.8-9.3-6-1-4 0.8-4 2.1-4 3.4-8 8.4zM325.8 1876.5l-2-1.2-1.9-3.6-1.2-3.6-2.5-17.9-0.1-4 1.1-6 3.1-10 2.2-4 1.3-1.6 2-1 2 0.2 2 1.5 2 2.9 3.5 12 0.8 8-0.8 4-3.2 7.9-2.8 10-1.5 3.1-2 2.4-2 0.9z"/>
<path fill="#cfcfcf" fill-rule="evenodd" d="M2032.4 1910l-0.4-307.3-18-4-14-1.1-23.9 0.4-10 1.2-10 1.9-10 2.9-10 5.5-10 8.4-10 10.8-6 9.3-11.1 22.7-7.5 21.9-4 16-12.2 27.9-0.6 4 0.3 6 6 19.9 1.1 6 0.2 6-1.1 11.9-1.7 8-5.3 15.8-1.6 2.2-2.4 1.8-2 0.6-4-0.5-2-1.5-1.5-2.4-1.8-8-4.3-12-4.4-21.9-0.1-6 1.6-10-0.3-4-2.6-5.9-3.5-4-5.1-3.6-4-1.7-4-0.9-4 0.1-24 6.9-5.9 2.6-3.5 2.6-1.4 1.9-1.5 4-2.8 14-0.4 8 0.8 6 1.4 4 8.3 13.9 1.9 6-0.3 4-3.3 10-1.1 5.9 2.5 24 0 8-0.8 4-1.8 3.5-2.3 2.4-21.7 17.3-10 10.2-4 2.3-2 0.1-2-0.6-2-1.4-2-3-6.1-18.9-12.4-21.9-1.8-6-1.8-10-2.1-6-3.8-5.6-11.2-12.3-4.4-8-20.4-49.9-17.9-45.3-25.1-70.4-10.1-25.9-10.9-23.9-26.9-51.9-9.6-19.9-14.3-35.9-23.1-65.9-7.9-18.3-25-51.5-8.7-19.9-5.2-10-9.6-39.9-6-27.9-13.7-69.8-1.6-14-106-0.3-198.8 0.3-4.1 29.9-2.9 14-4.7 13.9-9.2 20.1-4.9 13.9-1.1 6-0.3 13.9-0.7 8-2.5 12-3.2 11.9-4.4 12-5.4 12-8.5 15.9-10.8 18-4.3 13.9-4.3 6-4.9 4-4.7 2.8-29.9 14.4-6 2.2-8 2-8 1.2-8 0.2-20-1.4-10-1.5-10-2.9-10-3.9-7.9-4.3-12-7.4-12.7-9.4-17.3-15.9-8-8.4-26-29.7-23.3-21.8-12.4-15.9-4.5-4-5.7-3-4-1.1-42-5.6-41.9-3.7-22-0.2-10 1.1-20 4.3-10 3.8-11.9 6.8-11 7.6-9.5 7.9-9.5 9-9.9 11-5.5 8-5.6 9.9-6.9 20-2.9 13.9-4.7 47.9-10.2 81.8-0.4 8 0.5 13.9-2.5 8-7.6 16-6.8 11.9-2.9 8-1 6-0.7 12-4.2 23.9-0.2 20-1.1 3.9-4.7 10-0.5 4 0.2 4 2.7 10 9 18 11.6 29.8 4.3 5.7 6 3.3 10 2.5 10 1.4 22-0.1 20 1.3 12-0.8 11.9-1.6 8-2.4 12-5.2 10-2.2 8-0.3 6 0.6 4 1.2 3.3 2.6 1.3 2 1.4 4.3 1.2 13.7-0.4 6-2 11.9-1.6 20-2.6 10-4.4 11.9-5 10-5.3 8-3.9 4.4-4 3.1-4 2-4 0.7-4-0.6-14-5.5-11.9-2.4-16-4.2-14-4.5-4 0-4 1.4-4 2.7-7.9 6.9-4.1 1.9-4 0.1-2-1-3.4-3-4.2-6-3.3-6-10.1-23.9-2.4-8-1.4-14-1.3-4-1.8-2.2-8-3.8-2-1.6-8.8-12.3-4.1-4-5.5-4-9.6-5.4-3.1-2.6-2.9-4.4-3.5-9.5-1.5-10 1-10.5 13.9-45.4-0.3-2-1.5-2-4.1-3.1-4.1-4.8-3.3-8-2.3-10-0.7-8 0.4-7.9 5-18 0.9-6-0.5-6-3.1-7.9-5.6-10-3.2-4-17.5-12.3-8-4.3-9.9-2.9-10-1.1-10 0.3-14 2.2-6 1.4-6 2.3-12 7-20 19.5-6.5 7.8-12.1 20-5.9 12-9.6 21.9-32.2 81.8-10.5 23.9-3.1 5.8-19.7 26.1-13.6 14-11 8-17.6 7.6-4 2.4-4.4 3.9-2.7 4-3.8 10-3.1 5.4-19.4 24.5-22.4 31.9-8 10-8.1 12-7.7 10-9.9 19.9-0.5 2 44 0.4 1798.1 0 0.4-0.4zM1246.8 1795.9l-1.9 0-8-6.8-6-2.5-6 0-14 2.2-6-0.7-6-2.5-12-7.5-6-1.7-6 1.1-4 2.4-4 3.9-6 7.4-4 3.3-2 0.2-1.9-1-2-2.4-1.4-3-2.3-8-2.9-15.9-1.3-14 0.3-8 1.6-7.9 2-4.9 4-6.9 2-2 1.9-1.1 4-0.3 8 0.7 4-0.5 26-9.6 10-2.3 8-0.8 6 0.6 8 2.5 25.4 10.6 3.6 2 3.7 4 3.2 8 1.2 7.9-0.6 10-2.6 11.6-4 11.3-8 16.1-2 2.9-2 1.6zM327.8 1876.9l-2 1-2-1.1-2.4-4.7-1.6-6-2.3-17.9 0.9-8 3.5-12.2 1.9-3.9 2-2.2 2-1 2 0.3 2 1.4 3.5 5.6 1.7 6 1.9 12-1 6-3.2 7.9-2.9 10.3-2 4-2 2.5z"/>
<path fill="#c9c9c9" fill-rule="evenodd" d="M2032.3 1910l-0.3-305.3-18-3.9-14-1.1-23.9 0.2-10 1.1-10 1.9-10 2.9-10 5.7-10 8.4-9.9 10.8-5.1 8-10.7 22-8.1 23.9-3.4 14-5.9 13.9-5 14-0.7 4 0.2 6 5.6 23.9 0.3 10-1.4 13.9-4 18-1.7 4-4.1 3.8-4 1.2-4-0.4-4-2.3-1.6-2.3-2.5-12-3.2-10-2-11.9-2.6-10-0.3-6 0.8-10-0.5-4-2.6-5.9-3.6-4-2.7-2-4.2-2-3-0.7-4 0-22 5.7-5.9 2.1-4.5 2.9-1.7 1.9-1.8 5-2.7 13-0.3 8 0.8 6 1.4 4 8.8 13.9 1.9 6-0.3 4-3.7 10-1.2 5.9 2.4 24 0 8-0.7 4-2.1 3.9-1.9 2-22.4 17.8-10 10.1-4 2.2-4-0.4-2-1.4-2-2.7-6.5-19.6-9.4-15.9-3-6-1.8-6-1.9-10-2.4-6-4.3-5.9-9.5-10-2.8-4-3-6-20.7-49.9-17.6-43.8-25-69.9-10.8-27.9-11.2-24.2-27.3-51.6-9.6-19.9-13.6-33.9-23.5-67.9-9.9-22-24.9-49.8-12.5-27.9-7.5-29.9-5.8-26-16.6-81.7-1.6-14-102.9-0.3-195 0.3-5.1 43.9-5.7 22.8-5.5 19.1-1.6 8-1.7 13.9-2.3 10-7.6 23.9-3.9 10-17.3 34.8-9.5 17.1-2.3 11.9-1.5 4-2.7 4-3.9 4-9.2 6-36 15.9-12.8 3.6-8 1-8 0-24-2-10-1.8-10-3.2-8.4-3.5-7.5-4.1-14-8.8-14-10.5-15.6-14.5-34.4-38.9-8-7.3-12.6-9.7-4.3-4-4.3-6-6.7-11.7-2.3-2.2-3.7-2-10-0.9-14-4.1-20-4.2-41.9-3.4-22-0.3-10 1-22 4.6-10 3.8-11.9 6.8-10 6.9-9.1 7.7-10.3 10-8.8 10-5.4 8-5.5 9.9-7.5 22-2.3 11.9-4.7 43.9-10.1 77.8-0.5 12 1.7 12 0 3.9-1.6 6-14.9 31.9-2.5 8-5 37.9 1 24-4.3 15.9-0.5 8 1 6 1.9 6 14.6 37.9 2.8 4.5 3.4 3.4 3.1 2 5.5 2.3 10 2.4 8 1 18-0.2 14 1.1 10-0.1 14-1.4 7.9-1.4 6-2.1 12-5.8 10-2.7 18-2.3 4 0.3 4 1.7 2 2.9 0.5 2.3-0.2 16-0.8 10-2.8 15.9-1.7 18-2.6 10-4.5 11.9-5 10-5.2 8-3.7 4.2-4.3 3.8-5.7 3.1-4 0.8-6-1.4-12-5-29.9-7.4-12-3.8-4 0-4 1.4-4 2.9-6 5.5-6 3.4-4 0.2-3.5-1.7-2.5-2.3-6-8.8-6.1-12.9-7.9-19.9-3.9-16-1-2-2.3-2-4.7-2-4-2.9-3.9-5-6.4-10-5.3-6-4.4-3.3-8-4.2-2.8-2.5-3.6-6-4.6-11.9-1.4-8 0-8 4.1-23.9 0.8-12-1.2-8-3.3-11.5-1.5-8.4-1.7-14-0.3-10 1.3-9.9 5-16 0.8-8-0.9-6-4-9.9-2.7-4.6-3.5-3.4-16.5-11.6-10-4.5-9.9-2.2-10-0.7-8 0.6-14 2.4-10 3.1-6 3.2-5.6 3.7-20.4 19.4-7 8.5-12.8 22-12.5 27.9-7.6 20.1-18.8 45.7-6.7 18-10.3 23.9-3.1 6-19.1 25.8-13.9 14.5-10.7 7.6-21.3 9.3-6 5-2.5 3.6-3.9 10-3.4 6-19.2 23.9-22.3 31.9-8 10-8.2 12-7.6 10-3.3 5.9-6.5 14-0.4 2 1841.7 0zM1246.8 1802.5l-1.9-0.1-2-1.2-8-8.8-4-2.2-6-0.9-14 1.2-6-0.7-6-2.6-12-7.2-6-1.5-6 1.4-4 2.6-3.6 3.8-6.4 8.3-4 3.5-3 0.2-2.9-1.9-3.5-6.1-2.5-8.7-2.9-17.2-1.1-16 0.5-8 1.5-6.8 4-9.1 4-6.6 2-1.6 3.9-1.1 8 0.9 6-0.4 28-9.2 10-2.3 8-0.6 6 1 6 2.1 17.9 8.2 10 3.9 4 2.5 3.5 5.2 3 10 0.7 7.9-0.9 10-4 16-6.3 16.3-6 12.8-2 2.1-2 0.9zM327.8 1878.2l-2 1-2-0.9-2.3-4.2-1.9-6-2.7-19.9 1-8.9 3.4-13.1 2.5-4.8 2-2.2 2-1 2 0.3 2 1.5 4.1 6.2 1.9 6.7 1.8 13.3-1 6-3.4 7.9-3.4 11.7-2 3.9-2 2.5z"/>
<path fill="#c4c4c4" fill-rule="evenodd" d="M2032.3 1910l-0.3-303.2-18-3.9-14-1.1-25.9 0.2-18 2.8-10 2.9-10 5.7-10 8.4-9.8 10.9-5.9 10-9.4 20-7.2 21.9-3.5 14-5.7 13.9-3.9 12-1.1 6 0 4 4.9 25.9 0.3 10-1.3 13.9-3.2 20-2.3 4-3.8 3.1-4 1.6-6-0.1-2.1-0.6-3.2-2-2.8-4-1.6-10-3.6-12-2-11.9-2.6-10-0.5-6 0.3-10-0.5-4-2.7-5.9-2.7-3-6-3.6-6-0.6-22 4.9-5.9 2.2-4 2.5-2.5 3.5-1.2 4-2.5 12-0.3 8 0.8 6 1.6 4 9.4 13.9 1.6 4 0.2 2-0.4 4-4 10-1.3 5.9 2.2 24 0 8-0.7 4-2 3.9-1.8 2-21.1 16.4-12 11.9-4 2.2-2 0.1-2.3-0.6-1.7-1.2-2.2-2.8-6.6-20-9.5-15.9-3-6-3.9-16-1.6-4-3.8-6-11.4-12-5.6-9.9-22.7-53.9-16.1-39.8-25.5-70.9-10-25.6-12-25.8-27.6-51.3-9.8-19.9-12.7-31.9-24.2-69.9-11.6-25.3-25-48.5-10.4-23.9-7.6-27.9-5.8-26-17.5-85.7-1.6-14-99.9-0.3-190.8 0.3-1.5 14-2.4 31.9-6.2 43.9-4.5 19.9-4.4 13.1-9.4 24.8-28.6 55.9-4 13.9-1.7 4-2.4 4-3.8 4.6-4 3.6-6 3.9-41.9 17.6-12 3.4-6 0.7-8 0-28-2.6-8-1.3-8-2.2-8-3-7.9-3.9-8-4.7-18.8-12.1-16.9-14-10.3-10.3-22-26.2-12-11.9-9.9-7.4-18-10.8-6-2-8-1-4-1.6-2-1.6-2-2.7-3-10.2-2.3-4-4.7-3.4-6.1-2.6-7.9-2.3-8-1.1-39.9-2.3-24 0-20 3.4-10 2.5-10 4.2-9.9 5.9-8.2 5.6-9.5 8-12 12-6.9 8-6.5 9.9-4.1 8-3.8 10-3.7 12-1.9 9.9-5.5 45.9-9.9 72-0.3 13.8 2.7 14-0.1 5.9-1.9 6-14.2 31.9-2.9 10-4 31.9 0.9 26-3.5 15.9-0.5 10 1 6 1.7 6 8.9 25.9 4.7 10 3.5 4.6 4 3.1 4.4 2.2 7.6 2.5 10 1.7 18 0.1 14 1 10-0.3 16-1.6 9.9-2.6 12-6.2 6-2.5 26-7.3 8-1.4 4 0.6 2 1.3 1.4 2.8 0.3 4-3.4 15.9-2.3 16-2.8 13.9-1.6 16-1.6 8-3.2 9.9-5 12-4.4 8-5.4 7.6-4 4.4-6 4.6-4 2-4 0.7-6-1.3-12-5.1-27.9-7.1-14-4.3-4 0-4 1.5-10 8.5-6 3.5-4 0.3-2-0.6-4-2.9-4.6-5.8-5.5-10-10.1-23.9-5-14-2-4-10.7-8.4-16-21.6-4-3.2-6-3.1-4-3.1-3.8-6.5-6.2-13.9-1.7-8-0.4-8 2.8-23.9 0.3-10-0.8-6-4.1-19.9-1.9-24 1-11.9 5.7-18 1.1-6-0.3-8-1.7-5.9-2-4.7-2-3.2-2-2-12-9.3-8-4.6-8-3-9.9-2.1-8-0.5-8 0.6-16 2.8-4 1-6 2.6-10 6.4-22 20.6-4.1 5.3-5.1 8-8.7 16-12 27.1-7 18.8-18.9 45.8-6.6 18-11.2 25.9-4.3 7.3-6.8 8.7-9.6 13.9-15.4 16-5.6 4-7.3 4-17.2 6.8-4 2.4-4 3.8-2.9 4.9-3.1 8.3-3.2 5.7-19.3 23.9-22.4 31.9-7.9 10-15.8 22-4.3 7.9-5.3 12-0.5 2 1841.1 0zM1250.8 1804.4l-2 1.3-2 0.5-3.9-1.2-10-10.2-4-2.2-6-0.9-12 0.4-6-0.8-6-2.5-12-7-6-1.4-6 1.6-4 2.8-3.2 3.5-6.8 9.2-4 3.5-2 0.5-1.9-0.3-2-1.2-2-2.1-2.3-3.6-3.4-10-3.1-17.9-1.3-16 0.5-10 1.6-7.1 6-13.7 3.3-5.1 2.7-2 1.9-0.7 16-0.3 32-9 8-1.5 6-0.4 6 0.9 6 2.1 19 8.9 10.9 4.1 4 2.8 3.1 5.1 2.9 10.1 1.1 7.8-0.6 10-2.4 12-4.1 13.3-8 20.5-2 3.8-2 2.4zM325.8 1880.4l-2-0.7-1.1-1.6-2.8-6.9-3.2-19-0.4-6 1.6-10.8 2.2-9.2 3.7-7.5 2-2.2 2-0.9 2 0.3 2 1.5 2.3 2.8 3 6 2 8 1.2 12-1.1 6-3.5 7.9-3.9 13-4 6.2-2 1.1z"/>
<path fill="#bfbfbf" fill-rule="evenodd" d="M2032.3 1910l-0.3-301-16-3.5-16-1.5-23.9-0.2-8 0.7-10 1.8-12 3.3-8 4.3-10 8-10.2 10.8-5.8 9.2-9.7 20.8-7.1 21.9-3.6 14-6.3 15.9-2.3 8-1.2 6-0.2 6 4.3 25.9 0.2 10-2.5 23.9-0.4 10-2.1 4-5 4.2-6 2.2-6-0.2-5.6-2.2-3.7-4-1.5-4-1.5-10-3.2-10-2-11.9-2.5-10-0.6-6 0-10-0.6-4-1.6-3.9-3-4-2.7-2-3.5-1.4-6 0-20 3.9-5.9 2.1-4 2.7-1.9 2.6-1.3 4-2.5 12-0.3 8 0.9 6 1.6 4 3.5 5.5 6.6 8.4 1.5 4-0.3 6-4.4 10-1.4 5.9 2.1 24 0 8-0.6 4-1.5 3.4-2.2 2.5-21.8 16.8-12 11.9-4 2.1-2 0.1-2.9-0.9-2.3-2-2.2-4-3.5-12-2.3-6-11.6-19.9-2.2-6-2.8-12-1.7-4-4.2-6-11.3-11.9-5.7-10-22.2-51.9-16.2-39.9-26.8-73.7-10-25.4-10.5-22.5-29.5-53.9-10.8-21.9-11.9-29.9-24-69.9-11.2-24.3-25.5-47.5-10.3-23.9-8-27.9-4.6-20-18.9-93.7-1.5-14-97-0.3-186.2 0.3-1.5 16-1.3 27.9-3.6 33.9-3 19.9-3.8 16-6.7 19.9-7.2 18-27.5 51.9-8.3 19.9-2.6 4.4-4.3 5.6-4.1 4-5.6 4-8 3.6-20 7.3-17.9 8-10 3.1-6 0.9-8 0-18-2.3-16-1.2-8-1.4-8-2.4-8.6-3.7-24.3-13.9-15.1-10-15.9-12.9-6.7-7.1-12.7-15.9-8.6-9.7-8-8.1-7.9-6.6-6-3.8-8-3.8-8-2.4-16-2.8-4-1.5-4-2.6-2.2-2.6-1.6-4-1-12-2.2-5.9-4.3-4-6.7-3.3-4-1.1-6-0.8-17.9-0.1-36-1.5-10 0.2-20 3.2-8 1.8-10 4-11.9 6.9-8 5.6-8.3 7-12 12-6.7 8-5.4 7.9-4.2 8-4.7 12-3.6 12-1.5 7.9-16.1 117.7 0.1 12 3.7 14 0.1 7.9-2.4 8-13.7 31.9-3.6 12-3.1 27.9 0.5 26-3.3 17.9-0.2 8 1.8 10 5.6 17.9 3.5 10 3.9 8 4.9 5.9 4.7 3.4 6.1 2.6 7.9 2.2 8 0.9 14 0 16 1 25.9-2.5 8-2.4 14-7.7 18-6.6 20-8.8 8-1.8 4 0.7 2 1.5 1.6 3.6-0.2 6-1.7 6-4.8 11.9-2.2 8-5.2 25.9-2 16-1.6 8-3.3 9.9-4.2 10-4.2 8-5.3 8-5.3 6-5.6 4.6-6 3.4-4 0.7-6-1.3-14-5.8-27.9-7.2-12-3.8-4 0.1-4 1.6-10 8.6-6 3.5-4 0.4-2-0.5-3.7-2.3-2-2-4.5-6-4.5-8-17.4-39.9-1.8-2.4-10.8-9.6-15.8-19.9-3.4-2.8-6-3.6-3.7-3.6-9.7-17.9-2.2-6-1.5-8-0.4-8 2.1-21.9 0.1-10-4.5-25.9-1.6-24 0.3-7.9 1-6 5.5-16 1.6-8-0.5-7.9-2.6-8-3-4-11.6-10-9.3-4.9-7.9-2.5-10-2-8-0.4-24 3.7-8 3.1-10 6.7-20.3 18.3-5 5.9-5.1 8-8.6 16-12.4 27.9-6.6 18-19.7 47.8-6.2 17-10.6 24.9-4.6 8-6.2 8-10.6 15.5-13.9 14.6-5.3 3.8-7.5 4-19.2 7.3-4.1 2.6-3.9 3.9-2.4 4.1-3.8 10-2.4 4-9.4 11-10 12.9-22.5 31.9-23.6 32-4.3 7.9-5.2 12-0.4 2 1840.4 0zM1248.8 1808.7l-3.9-0.1-2-0.8-4-3.2-6-6.5-4-2.7-6-1.6-12-0.1-6-0.9-6-2.4-10-6-6-2.1-6 0.7-4 2.2-5 5.1-7 9.8-4 3.4-2 0.6-1.9-0.2-4-2.6-4.6-7-3.8-12-2.8-17.9-0.9-16 0.5-8 1.8-7.9 7.1-16 2.7-4.4 4-3.1 3.9-1.2 16-0.9 32-7.8 6-1 6-0.2 6 0.8 8 2.6 17.9 8.5 10 3.8 4.8 2.9 1.8 2 2 4 3.2 12 1.1 9.9-0.8 10-4.2 18-9.5 25.9-2.4 5-2 2.8-4 2.6zM327.8 1880.4l-2 1.1-2-0.6-1.9-2.6-1.7-4.2-1.9-8-2.6-19.9 1.9-14 2.3-8.4 3.9-7.8 2-2.2 2-0.9 2 0.4 2 1.5 3.9 5.4 1.9 4 2.2 8 1.2 12-0.3 4-0.9 4-4 9.1-3.1 10.8-2.9 5.9-2 2.4z"/>
<path fill="#bababa" fill-rule="evenodd" d="M2032.3 1910l-0.3-298.6-14-3.3-16-1.7-25.9-0.6-16 1.9-12 3-4 1.6-6 3.4-10 8.1-10 10.7-6 10-8.3 18.2-7 21.9-3.7 14-5.5 13.9-2.4 8-1.3 8-0.1 6 4.3 29.9-2.3 27.9 0.6 12-1.8 4-4.5 4-3.4 2-6.5 2-6-0.3-4-1.2-4-2.4-3.5-4.1-1.4-4-1.8-10-4.1-12-3.7-21.9-0.3-12-0.9-6-1.7-3.9-2.6-3.2-2-1.4-4-1.2-4 0-12 1.5-6 1-6 1.8-3.1 1.5-2.5 1.9-2.4 4-2.8 12-0.6 8 0.5 6 1.2 4 2.1 3.9 9.7 12 1 2 0.5 4-1.3 6-4.2 8.6-1.4 5.3 0 4 2 20 0 8-0.6 4-1.8 3.9-1.7 2-22.5 17.2-12 11.9-4 2-2 0.2-3.6-1.3-2.4-2.5-1.8-3.5-3.4-12-2.3-6-11.7-19.9-2.2-6-2.6-10.8-2-4.7-4-5.6-11.9-12.6-5.8-10.2-23.4-53.9-15.6-37.9-8.4-21.9-18.8-52.7-10-25.2-10.4-21.8-29-51.9-11.2-21.9-10.5-26-18.8-55.6-5.7-16.2-4.3-10.2-10-20.7-25.2-44.9-9.6-21.9-7.8-25.9-4.3-18-19.2-99.7-1.5-14-94.2-0.3-181.2 0.3-1.3 16-1.4 33.9-3.4 31.9-3 19.9-3.7 16-6.6 21.9-4.7 12-6.6 14-23.8 41.3-10.6 20.5-5.4 7.8-5.7 6.2-4.3 3.2-6 3-24 8.8-21.9 10-8 2.5-6 0.8-6 0-18-3-20-1.5-10-1.9-8-2.7-7.9-3.7-34.1-19.5-15-10-9.9-8-5-5.2-10-12.8-8-9.1-9.9-9.8-8.7-7-5.3-3.1-6-2.3-20-3.1-6-1.5-6-2.6-4-3.1-3.2-4.2-2-6-0.1-4 1.2-10-0.5-3.9-2-4-1.9-2-5.5-3.2-4-1.1-4-0.4-19.9 0.6-36-1.4-10 0.3-18 2.6-8 1.9-10 4-11.9 6.9-8 5.7-8 6.9-12 12-5.7 7.1-5.3 7.9-4.1 8-4 10-3.5 12-1.6 7.9-16.8 117.7 0.5 10 4.5 12 0.9 4-0.1 7.9-1.9 8-15.5 35.9-3.5 12-2.3 23.9 0.1 26-2.9 17.9 0 10 1.9 10 5.4 17.9 3.9 10 3.3 6 3.4 4 5.4 3.9 7.9 3.5 8 1.8 34 1.7 27.9-3.2 8-3.2 12-7.3 17.3-7.2 18.7-11.2 8-4.1 8-2.6 4 0.4 2 1.4 2 3.5 0.7 2.6 0.4 4-0.6 6-2.1 6-8 15.9-2.9 8-5.6 25.9-2.7 18-2 8-3.6 9.9-4.5 10-4.5 8-4.2 6-5.2 6-7.2 5.9-6 3.4-4 0.7-6-1.3-14-5.9-27.9-7.4-12-3.6-4 0.1-4 1.7-10 8.5-6 3.6-4 0.5-2-0.4-3.3-1.9-2.7-2.3-4.4-5.6-5.6-9.5-13.9-31.9-3.6-6.5-3.4-4-8.6-8-16.4-18.7-12-10.1-6-10.8-5.4-8.2-2.7-6-1.8-8-0.8-10 1.8-21.9-0.1-10-4.2-25.9-1.5-22 0.3-9.9 1-6 6.3-18 1.2-6-0.2-7.9-0.9-4-1.8-4-7.1-8-6.1-5.1-8-4-7.9-2.5-10-2.2-8-0.5-6 0.7-10 2.4-8 0.6-8 3-10 6.9-7.1 6.7-12.9 10.7-4.4 5.2-5.2 8-8.6 16-12.3 27.9-7.3 19.9-6.3 14-5.8 16-6.9 15.9-5.7 16-11 25.9-4.4 8-7.4 10-7.7 11.9-12.8 14.3-6 5.1-10 5.1-18 6.4-6 3.6-3.5 3.4-2.4 4-3.8 10-2.4 4-9.9 11.6-9.5 12.3-22.6 31.9-23.6 32-5.1 9.9-4.3 10-0.4 2 1839.9 0zM1250.8 1810.5l-4 0.8-3.9-1.2-4-2.9-8-7.9-4-2.3-6-1.4-10-0.4-6-0.9-6-2.4-10-6-6-2-6 0.8-4 2.3-4.9 5.3-7.1 10.2-4 3.4-2 0.5-1.9-0.1-4-2.2-3.4-3.8-2.3-4-4.3-12-2.8-15.9-1.3-18 0.5-10 1.8-7.9 7.8-18 4-6.3 4-2.8 3.9-1.2 20-1.8 28-6.2 12-0.9 8 1.2 10 3.3 23.9 10.7 6 3.8 2 2.3 2.1 3.9 3.5 14 1.1 9.9-0.7 10-3.5 16-6.5 19.2-6.1 14.7-2.9 4-3 2.2zM325.8 1882.5l-2-0.4-1.7-2-2.5-6-1.8-8-2.7-19.9 2-16 2.2-8 4.5-8.9 2-2.1 2-0.9 2 0.4 2 1.5 4 5.7 2.2 4.3 2.5 8 1.2 14-1.3 8-4.3 9.9-3.6 12-2.7 4.9-2 2.4-2 1.1z"/>
<path fill="#b5b5b5" fill-rule="evenodd" d="M2032.3 1910l-0.3-295.8-12-3.3-14-1.7-23.9-1.4-10 0.2-12 1.6-12 2.9-8 3.8-8 5.8-10 9.7-6 7.9-4 7.6-6.9 15.4-6.9 21.9-3.8 14-5.5 13.9-2.2 8-1.1 8 0 6 4.4 29.9-2.3 25.9 0.1 4 1.6 10-1.4 4-5.9 4.9-8 3.8-4 0.7-4-0.1-4-0.7-4-1.6-4-2.6-2.3-2.4-2.1-4-2.9-12-5.3-12-2.8-35.9-1.7-6-2.9-3.7-2-1.3-4-1-16 0.9-10 2.4-4.7 2.7-2.7 4-2.9 12-0.6 8 0.6 6 1.3 4 2.1 3.9 3 3.9 7.6 8.1 1.2 4-0.9 6-5.8 12-0.9 3.9 0 4 2 22-0.3 8-0.9 3.9-2.8 4-23.2 17.5-12.7 12.5-3.3 1.5-2 0.1-4-1.5-2-2.1-2.1-4-3.4-12-2.4-6-9.6-15.9-3-6-3.5-13-2-5.1-4-5.9-11.9-12.3-3.8-5.6-3.1-6-23.7-53.9-16.6-39.8-26.9-73.9-11.4-27.9-12.4-24.7-26.1-45.1-11.3-21.9-10.6-26-18-54.1-6-16.9-5.2-12.7-10.7-21.3-25-42.6-9.3-19.9-5.9-18-5.8-23.9-18.8-103.7-1.6-14-91.5-0.3-175.8 0.3-2.3 47.9-3.3 31.9-4.1 27.9-3 14-5.7 21.9-3.7 10-8.2 17.9-10.5 18-15.1 22.1-12 19.8-5.9 8-5.9 6-4.2 3.1-5.7 2.8-28.3 10.9-19.9 10.1-8 2.5-6 0.7-6-0.3-20-4.2-20-1.2-12-2.6-13.9-6.1-52-29-11.7-8.7-18.3-20.3-9.9-8.8-10-7.6-5.7-3.2-5.2-2-19.1-4.1-8-2.4-6-2.9-5.9-4.5-3.9-6-1.9-8 0.1-6 2.4-12-0.4-3.9-2.2-4-4.2-2.8-6-1.2-23.9 1.7-16-0.3-18-1.6-10 0.4-16 2.1-8 1.8-10 4.1-11.9 6.8-8 5.8-8 7-10.2 10.1-6.4 8-5.3 7.9-3 6-4.7 12-2.9 10-18.8 125.6 0.3 6 1 3.9 6.7 12.1 0.6 4-0.7 9.9-1.1 6-2.1 6-15.4 32.7-3.7 11.2-1.8 21.9-0.2 24-2.8 19.9 0 10 2.3 11.9 6.1 20 4.9 10 5.3 6 7.9 4.8 10 3 34 1.9 24-2.6 5.9-1.3 6-2.9 10-6.7 16-7.4 7.4-4.8 33.3-23.9 6.2-6 9-11.9 2-1.8 2 0.8 0 5.1-5.9 19.7-1.4 18-1.1 6-2.4 6-9.5 15.9-3.4 8-5.5 23.9-4 22-3.6 11.9-7.4 16-7.8 12-5.9 6.6-8 6.6-6 3.4-4 0.7-6-1.3-14-6-39.9-11.1-4 0.1-2.5 1-13.5 10.7-6 2.8-2 0.1-4-1.3-5.4-4.3-4.6-6-4.7-8-13.2-29.5-4.6-8.4-3.3-4-26.1-26.5-10-9.1-2-2.6-6-11-6.8-8.6-2.4-6-1.6-8-0.9-10 1.6-21.9-0.1-10-4.3-27.9-1.3-22 0.4-7.9 1-6 6.3-18 1.4-6 0-7.9-1.7-6-2.5-4-3.3-4-5.8-5.3-8-4-9.9-3.1-8-1.8-8-0.6-6 0.8-10 3-6-0.1-4 0.5-6 2.4-6 3.9-11.9 10.3-10.1 7.9-5.5 6-5.3 8-8.5 16-13.1 29.9-6.5 17.9-6.3 14-5.8 16-6.9 15.9-5.7 16-10.8 25.9-4.2 8-7.2 10-8.1 12.8-4 5.1-9.4 10-4.8 4-11.7 5.4-18 6-4.5 2.5-4.4 4-2.5 4-3.8 10-2.3 4-10.5 12.2-9.1 11.7-22.6 31.9-23.5 32-4.3 7.9-5 12-0.4 2 1839.3 0zM1250.8 1813l-4 0.5-3.9-1.2-4-2.7-8-7.8-4-2.6-6-1.7-12-1-6-1.4-14-7.8-6-1.9-4 0.2-2 0.7-4 2.4-4 4.3-8 11.7-4 3.4-3.9 0.5-2-0.7-4-3-3.6-4.6-2.2-4-4.2-12-2.8-15.9-1.3-20 0.8-9.9 2.2-8 9.1-21.1 4-5.2 4-2.5 5.9-1.5 20-1.6 28-5.5 12-0.2 10 1.8 14 5 15.9 7.5 4 2.4 4 3.4 2.4 3.5 1.7 4 3.7 16 0.8 9.9-1 10-2 10-2.9 10-9 23.9-4 8-1.7 2-4 2.7zM327.8 1882.3l-2 1.1-2-0.3-1.9-2.2-2-4.3-2.2-8.5-2.7-15.9-0.5-6 1.4-14 2.4-10 3.6-8.4 1.9-3.3 2-2 2-0.8 2 0.4 2 1.4 4 5.8 2.5 4.9 3.2 10 1 12-0.9 8-5 11.9-2.8 10-2 4.6-4 5.6z"/>
<path fill="#b0b0b0" fill-rule="evenodd" d="M2032.3 1910l-0.3-292.3-12-4-20-2.3-19.9-1.5-10 0.2-12 1.7-12 3.3-8 4.3-8 6.4-8 8-6 8.4-6 12.5-4.2 9.9-10 34-6.1 15.9-1.5 6-0.8 8 0.1 6 4.1 23.9 0.6 6-2.1 18-0.4 9.9 2.7 12-1 4-4.2 4-6.9 3.9-4.2 1.8-4 0.9-4 0.2-6-0.9-5.2-2-3.3-1.9-3.9-4-2.1-4-4-12-3.5-4.9-4.7-5.1-0.4-2 2.5-7.9 0.5-4-1-18-1.2-8-1.7-3.8-2-2.2-2-1.1-4-1-14-0.2-10 2.3-3.7 2-1.9 2-2.3 5.7-2.2 10.3-0.3 6 0.6 6 1.4 4 2.5 4.2 4 4.6 5.9 5.1 1.5 2 0.9 4-1.2 6-6.3 12-1 3.9-0.1 4 2 22-0.3 8-0.9 3.9-2.6 4-23.9 17.9-12.2 12.1-3.8 1.8-2 0.2-4-1.6-2-1.9-2.4-4.5-3.4-12-2.4-6-10.8-17.9-1.9-4-5.1-16.8-4-6-11.1-11.1-4.5-6-3.3-6-13.6-29.9-28.2-65.8-8.4-22-19.4-53.8-12.5-30-11.5-21.9-28.1-47.9-11.1-21.9-10.2-26-21.3-63.8-7.4-17.9-11.1-21.2-24.6-40.7-9.8-19.9-5.6-16.8-6-26.2-17.4-102.6-1.5-14-89-0.3-170.3 0.3-1.8 45.9-3.2 31.9-4.5 33.9-7.4 35.9-3 8-8.8 19.9-12.6 20-16.1 20.4-15.1 21.5-9 9.9-5.2 4-4.7 2.6-32 13.7-17.9 10.2-10 3.3-6 0.6-6-0.4-20-5.1-22-1.5-8-1.7-6-2-7.9-3.6-22-11.9-40.6-20.1-9.7-6-13.7-11.4-4-2.2-3.9-1-6 0.3-3.8 2.3-4.3 8-2.8 4-4.2 4-15.2 12-3.7 2.4-4 1.7-4.2-0.2-1.8-1.4-1-2.5 0-4 1-4 4-8 11.5-16 1.5-4 0-3.9-1.5-4-5-6-4.9-4-13.6-8.5-6-4.5-6.9-7-4.4-5.9-1.6-4 0-2 6.9-18.9 1.3-5.1 0-2-1.3-3.3-2-1.7-2-0.8-5.5-0.1-12.4 2-8 0.5-16-0.7-20-2.7-8 0.2-12 1.3-8 1.2-8 2.5-9.9 4.8-8 4.7-8 5.7-6 5.1-10 9.8-6.3 7.5-5.4 7.9-3.1 6-4.8 12-2.9 10-7.9 55.8-9.6 58.5-1.3 11.3 0.4 4 1.3 4 3.6 4.7 8.6 7.3 1.1 2 0.4 4-2.1 6.2-1.2 7.7-1.7 6-3.9 8-15.2 27.1-4.5 10.8-1.1 6-1.1 15.9-0.8 26-2.5 17.9 0.3 12 1.4 8 2.6 9.9 3.2 10 2.5 6 2.2 4 3.8 4.9 3.4 3.1 4.6 2.8 6 2.5 6 1.4 28 2 6-0.2 12-1.9 11.9-1.1 4-1.1 4-1.9 12-8.4 10-4.6 6-3.5 31-25.9 5.4-6 4.1-6 11.5-23.9 4.6-6 3.3-2.1 4-0.3 4 1.7 2 1.7 2.1 3 1.2 3.9 0.2 4-0.9 6-3.9 14-9 19.9-4.5 22-3 6-9.5 13.9-3 6-3.1 10-7.4 35.9-2.7 10-3.2 7.9-4.8 10-4.7 8-4.3 6-7.4 8-8 6.4-6 3.4-4 0.7-6-1.2-10-4.6-5.9-2.1-38-10.6-4 0.1-2 0.8-14 11-6 2.9-2 0.1-4-1.1-6-4.7-4.1-5.1-5-8-13.8-29.9-5.9-10-15.1-15.7-22-20.7-3.9-5.5-4.1-8-2-2.5-6.3-5.5-3-5.9-2.1-10-1-12 1.4-21.9-0.1-10-4.3-27.9-1.3-18 0.4-10 1.1-7.9 6.3-18 1.7-8-0.4-7.9-2.4-6-4.3-6-5.7-4.8-8-3.5-13.9-3.8-6-1.1-6 0-5.4 1.2-6.6 3.1-2 0.4-6-0.9-4 0.3-4 1.3-6 3.6-12.2 10.2-9.8 7.2-6 5.8-6 8.9-8.4 16-13.1 29.9-6.5 17.9-7.1 16-5.8 16-6.9 15.9-4.8 14-11.6 27.9-3.2 6-7 10-9.5 15.5-11.9 13.4-4 3.5-7.3 3.5-22.7 7.1-6 3.1-4.3 3.7-2.6 4-3.9 10-2.2 4-18.1 21.9-47.6 65.9-4.3 7.9-5.3 14 1838.7 0zM1252.8 1814.5l-4 1.2-3.9-0.5-6-3.4-8-7.7-4-2.7-6-2.1-12-1.3-6-1.5-14-7.7-6-1.9-4 0.2-2 0.6-4 2.6-4 4.6-8 12-4 3.4-2 0.7-3.9-0.7-5.3-4-3.1-4-3.3-6-4.3-12-2.9-15.9-1.3-20 0.8-9.9 1.5-6 6.3-14 4.2-12 3.4-4.9 4-2.8 5.9-1.9 20-1.3 28-5 12-0.5 14 2.3 15.9 5.1 12 6 8 6.2 2.4 2.8 2.1 4 3.9 14 1.9 11.9-0.5 12-2.7 14-6.6 19.9-8.5 19.8-3.1 4.2-2.9 2.2zM325.8 1884.3l-2-0.3-1.9-1.9-3.4-8-4.1-21.9-0.4-8 1.4-14 2.5-9.8 4-9.6 1.9-3.4 2-1.9 2-0.7 2 0.5 2 1.5 2 2.5 6 11.7 2.7 9.2 0.8 12-1.1 8-5.1 11.9-3.6 12-3.7 6.9-2 2.2-2 1.1z"/>
<path fill="#ababab" fill-rule="evenodd" d="M2032.3 1910l-0.3-287.4-7.1-3.8-6.9-2.2-35.9-4.4-12-0.1-10 1.2-12 2.9-8 3.7-8.9 6.8-9.9 10-5.2 8-4.6 10-4.8 11.9-9.3 32-6.1 15.9-1.8 8-0.3 6 0.6 8 4.8 25.9-0.1 4-2.3 13.9-0.6 8 0.6 6 3.1 10-0.8 4-1.5 2-4.8 3.6-6 3.4-6 2.3-4 0.7-6-0.1-6-1.4-5.9-2.6-2.9-1.9-2.1-2-2.8-4-4.1-10-2.8-4-3.4-2.8-8-3.3-3.1-1.9-0.2-2 7.8-7.9 2.6-6 0.5-6-0.7-12-1.3-6-1.8-4-1.8-2-4-1.9-8-1.4-10 0.3-7.9 2.6-2 1.5-2 2.6-1.6 4.3-2.1 10 0 10 1 4 2.7 5.1 4 4.6 8.2 6.2 1.4 2 0.3 2-0.5 4-1.2 4-6.3 11.1-1.4 4.8-0.1 6 1.8 20-0.3 8-0.8 3.9-3.1 4.7-22 15.9-14 13.6-3.5 1.8-2.5 0.3-4-1.5-2-1.8-2.7-5-3.3-11.7-2.5-6.3-11.9-19.9-5.8-18-3.8-5.7-11.9-11.9-4.8-6.3-4.2-8-12-25.9-16-35.9-14.3-33.9-27-73.8-12.7-30-10.9-20.6-29.4-49.2-11.2-21.9-10.3-26-21.1-63.4-8-19.2-9.9-18.6-26.2-42.4-9.9-19.9-5.9-17.7-5.6-26.2-16.3-101.7-1.5-14-86.5-0.3-164.6 0.3-1.4 45.9-7.5 71.8-3.4 21.9-2.2 10-4.3 12-7.4 15.9-6 10-8.6 12-18.3 21-16.9 20.9-7.9 7.9-9.2 6.6-34.3 17.4-15.6 9.6-6 2.7-6 1.7-8 0.9-8-0.6-20-5.3-18-1.9-12-2.8-11.9-4.8-24-12.9-20-9-24-8.9-8-2.3-6-1-4 0-4 0.8-7.9 3.7-14 9.1-18 13.5-8 4.8-4 1.6-4 0.7-6-0.7-4-2.2-4.2-4.7-2.5-6-0.9-6 0.1-6 1.5-9.7 7-26.2 0-7.9-2-6-2.3-4-16.7-21.4-4.8-8.5-1.1-4-0.2-6 0.9-4 3.5-8 0.2-2-0.5-0.4-2-0.9-27.9-4-18-3.6-12-0.5-16 1.4-8 1.8-12 5-9.9 5.7-8 5.6-6 5.2-10 9.8-5.6 6.8-4 6-3.3 6-4.8 12-2.8 10-7 53.8-10.5 61.5-0.8 8.3 0.3 4 1.8 4 2.7 2.7 4 2.1 17.9 7.2 8.1 4.8 4.4 5.2 1.5 3.9 0.3 4-1.2 4-3.6 4-5.4 2.9-12 4.9-6 4.6-6 7-8 10.8-6 8.7-3.9 7-2.2 8-1.8 17.9-1.1 22-2.6 19.9 0.4 12 3.2 15.9 5.5 16 3.3 6 3.2 3.9 4 3.5 4 2.5 6 2.5 6 1.2 26 2 6-0.2 12-2.1 11.9-1.1 6.3-2.3 11.7-8.6 10.7-5.3 6.1-4 27.5-25.9 5-6 3.8-6 3.8-8 9.1-23.5 2.6-4.4 3.4-3.7 3.9-2 4 0 4 1.5 6 4.6 2.9 3.6 2.3 4 1.3 4 0.5 3.9-0.7 8-3.7 14-2.6 6.8-8.2 17.1-1.8 6-2.2 12-1.3 4-2.3 4-10.6 13.9-4.9 10-2.8 10-6.6 31.9-4.4 13.9-7.9 16-8 12-7.4 8-9.5 7.6-6 3.4-4 0.8-6-1.2-15.9-6.9-38-10.6-4 0.2-2 0.7-14 11.1-6 3-2 0.1-4-1-4-2.6-2.9-2.7-4.8-5.9-5-8-13.2-28.8-7-11.1-13-13.5-20.9-18.4-4.8-6-4.3-8.6-2-2.8-4-2.6-4-1.3-2-2.2-0.9-2.5-2.4-9.9-1.3-10-0.4-12 1.2-17.9 0-8-1-10-3.6-21.9-1.1-16 0.5-10 1.2-7.9 6.7-20 1.3-6-0.3-7.9-2.3-6-4.2-6-5.4-4.1-8-3-13.9-3.8-6-0.9-6 0.5-4 1.4-6 3.7-2 0.4-6-1.7-4-0.1-4 1.3-4 2.3-12.5 10-11.5 8.2-6 5.9-5.3 7.8-8.6 16.9-12.8 29-6.3 17.9-7.2 16-4.9 14-7.1 15.9-5.5 16-11.4 27.9-3.1 6-7.9 12-9.4 15.9-12.3 13.9-4 2.9-4 1.5-26 7.3-6 3.1-3.7 3.2-2.7 4-3.9 10-2.1 4-18.3 21.9-47.6 65.9-4.3 7.9-4.8 12-0.3 2 1838.1 0zM1252.8 1816.9l-4 1.1-3.9-0.6-6-3.4-8.1-7.7-5.9-3.8-6-1.8-10-1.3-6-1.5-14-7.8-6-1.8-4 0.2-2 0.7-4 2.7-4 4.8-8 12.4-4 3.5-2 0.7-3.9-0.7-6-4.4-3.2-3.9-3.5-6-2.7-6-2.6-8-2.7-13.9-1.6-22 0.7-9.9 1.4-6 6.4-14 4-14 1.8-3.4 2-2.5 2.4-2 3.6-1.9 5.9-1.5 20-0.8 26-4.4 8-0.6 6 0.1 14 2 19.9 5.3 8 4.4 8 6.9 4.8 6.4 1.7 4 2.3 8 3.4 17.9-0.4 12-2.7 14-6.6 19.9-9.8 22-2.7 3.6-4 3zM325.8 1885.1l-2-0.3-1.9-1.7-3.3-7-4.7-23.9-0.5-8 1.2-14 2.3-10 5.6-13.9 1.3-2.4 2-1.8 2-0.6 2 0.5 2 1.6 2 2.6 6 12 3.3 10 1.1 12-1.3 10-5.3 11.9-3.8 12.5-4 7.3-2 2.1-2 1.1z"/>
<path fill="#a6a6a6" fill-rule="evenodd" d="M2032.3 1910l-0.3-278.3-2-1.4-5-5.5-3-2.1-4-1.7-20.9-4.2-17-2.4-10-0.3-10 1.1-12 2.8-8 3.7-8 6.2-10 10-4.5 6.8-5.6 12-3.9 9.9-9.2 32-6.1 15.9-1.7 8-0.1 6 0.8 8 4.5 19.9 0.8 6-0.1 4-2.5 11.9-0.9 8 0.8 8 3.5 10-0.7 4-1.4 2-4.9 4-6.7 4-6 2.5-4 0.8-6 0.1-6-1-6.8-2.5-5.2-3.1-4.5-4.8-5.5-10.2-3.1-3.8-4.9-3.3-11.8-4.7-1.4-2 0.9-2 1.8-2 6.5-5.3 2.4-2.6 2.6-6 0.6-6-0.4-8-1.4-6-2-4-1.8-2-2.8-2-5.2-1.7-4-0.7-8 0.2-7.3 2.2-2.6 2-1.5 2-2.5 7.7-1.5 10.3 0.8 8 1.5 4 3.2 4.6 3.9 3.6 9.9 5.7 0.7 2-3.2 10-7 12-1.2 3.9-0.1 6 1.7 20-0.2 8-0.8 3.9-1.7 3.3-2 2-12 8-10 7.7-14 13.6-2.6 1.4-3.4 0.6-2.5-0.6-3.5-2.6-3-5.4-3.4-12-2.5-6-12-19.9-4.3-14-1.7-4-3.1-4.6-11.9-11.8-5.9-7.5-4.3-8-16.8-35.9-26-59.8-7.7-20-19.3-53.4-6-15-6.9-15.4-11-20.5-30-49.3-11.4-21.9-10.3-26-20.3-61.1-8.4-20.6-9.7-18-27.5-43.9-5.4-9.9-4.6-10-5.8-18-5.4-25.9-15.1-99.7-1.9-16-84-0.3-158.8 0.3-0.8 45.9-5.1 67.8-2.1 19.9-1.9 12-2.6 10-3.9 10-5.9 11.9-8.8 14-10.9 14-33.6 35.9-8.4 7.9-8.9 6.8-15.8 9.2-14.2 9.7-16.7 10.2-11.2 5.7-8 2.4-10 1.2-10-0.6-44-9.8-13.9-5.1-28-14.6-18-7.6-18-5.3-8-1.4-8-0.3-6 0.7-6 1.7-5.9 2.5-8 4.4-14.1 10.2-27.9 25.3-6 4-4 1.3-2-0.2-2-1.2-2-2.4-6-12.1-3.3-8.7-1.9-10-0.4-6 0.5-8 6-39.9-0.1-5.9-0.7-4-3-8-14.2-25.9-5.4-16-2.1-4-4.3-4-9.4-4-17.6-5-12-1.3-14 0.8-10 1.5-12 4.5-11.9 6.4-12 9-10 9.5-4 4.6-8 11.9-6.5 16-3.1 13.9-5.6 53.9-8.7 45.9-1.8 13.9 0.6 6 1.1 2.3 2 2 4 1.8 16 3.7 6.8 2.2 7 4 4.2 4 3.9 6 2.8 7.9 1 10-1 10-1.7 4-3 2.7-4 1-8 0.2-6 0.9-6 1.9-6 3.1-6 4.3-6 5.4-6 6.5-4.3 5.9-2.1 4-1.6 4.6-3.1 19.3-1.8 22-2.3 17.9 0.4 12 3 15.9 3.2 10 2.5 6 3.5 6 2.6 3.1 3.2 2.9 4.8 3 4 1.8 6 1.5 26 2.3 6-0.3 12-2.4 11.9-1 6-2.3 10.9-8.6 11.1-5.8 4-2.7 3.8-3.5 10.2-11.7 14.2-14.2 4.2-6 4.1-8 3.7-10 7.7-25.9 3-6 3.1-3.7 4-2.2 1.9-0.2 4 0.6 6 3.5 8 7.6 6 8.9 2 5.1 1 4.4 0.3 3.9-0.5 6-2.8 11.3-4.3 12.7-9.3 19.9-3.9 18-2.2 4-11.9 13.9-5.4 10-2.9 10-6.8 31.9-4.6 13.9-8 16-8.2 12-7.4 8-11 8.8-6 3.4-4 0.8-6-1.2-10-4.7-7.9-2.9-36-10.1-4 0.3-2 0.8-14 11-6 3.2-2 0.2-4-1-4-2.4-4-3.5-3.9-4.7-5.2-8-14.1-29.9-3.4-6-4.3-6-11-11.6-15.6-12.3-6.6-6-4.7-6-5.1-10-2-1.8-2-0.7-6 1.6-2-1.1-0.8-2-3.1-15.9-1.2-10-0.4-12 1.1-19.9-0.1-10-4.8-31.9-0.9-12 0.4-10 1.6-9.9 6.5-20 1.3-6-0.2-7.9-2.1-6-4.5-6-4.8-3.1-8-2.8-13.9-3.8-6-0.6-4 0.6-3.8 1.7-5.2 4-3 0.8-6-2.3-4-0.5-4 1.2-4 2.4-13.5 10.4-10.5 7.2-6 6-4.5 6.7-9.1 18-12.3 28.3-6.2 17.5-7.2 16-5.7 16-6.9 15.6-4.8 14.3-11.3 27.9-2.9 6-7.6 12-10 17.9-11.4 13.5-3.9 2.9-30 7-6 2.6-5 3.9-3 4.2-3.8 9.8-2.2 4.1-16.7 19.8-49.1 67.9-5.2 9.9-4.2 12 1837.6 0zM779.4 1533.2l-4-0.7-2.4-1.5-2.8-4-1.1-4-0.4-4 0.5-5.9 1.6-6 2.6-5.7 6-7.9 4-3.5 3.9-2.4 4-1.4 4-0.4 4 0.4 4 1.5 2 1.6 2 2.9 1.1 2.9 0.4 4-1.4 8-3.6 7.9-4.5 6.8-6 5.3-8 4.6-5.9 1.5zM1248.8 1820.3l-3.9-0.6-4-2-12-10.8-4-2.5-6-2-12-1.9-4-1.2-14-7.8-6-1.9-4 0.3-2 0.7-4 2.9-3.8 4.8-8.2 13.1-4 3.5-2 0.7-3.9-0.6-4-2.4-4.4-4.3-3.6-5.1-3.7-6.9-4.9-14-2.2-11.9-1.9-22 0.5-8 1.4-7.9 7.3-16 3.5-15.6 2-3.6 2.4-2.7 5.6-3.4 5.9-1.5 20-0.3 30-4.4 12-0.4 10 1.3 25.9 4.8 6 2.9 4 3.6 4 4.5 4 5.1 3.2 5.7 4.4 16 2.1 10 0.6 5.9-1 14-2.1 10-4.5 13.9-11 26-2.2 4-3.5 4.2-4 2.8-4 1zM327.8 1884.8l-2 1-2-0.1-1.9-1.6-2.4-4-2.9-10-3.3-17.9-0.5-6 1-16 2.1-9.7 6-17.7 1.9-3.7 2-1.7 2-0.4 2 0.7 2 1.8 2 3 7.2 15.7 3.1 10 0.9 10-0.6 8-1.6 6-5 10.6-4.1 13.3-3.4 6-2.5 2.7z"/>
<path fill="#a1a1a1" fill-rule="evenodd" d="M2032.3 1910l-0.3-257.2-2-1.8-4.6-12.3-2.9-6-2.5-3.2-3.4-2.8-6.6-3-10-2.9-14-3.1-9.9-1.3-10-0.1-12 1.9-8 2.3-7.8 4.3-12.2 10.8-4.5 5.1-3.7 6-6.1 14-2.8 7.9-8.6 30-6.1 15.9-1.5 8 0 6 1 8 5.1 19.9 0.8 6-0.3 4-3.1 13.9-0.7 6 0.5 6.1 4.2 11.9-0.7 4-1.3 2-8.1 6.3-10 5.4-8 1.2-8-0.9-8-2.4-8-4.5-4.6-5.1-6.4-10-5-4.4-4-2-6-2-4-0.6-2 0.5-2 1.9-5.5 10.6-4.5 6.4-2.2 5.5-0.2 6 1.7 22-0.4 8-1.3 3.9-3.6 4-11.9 7.7-10.8 8.3-13.2 12.9-2 1.2-4 0.7-3.2-0.8-2.8-2.1-2.6-3.9-4.1-14-2.5-6-12.1-19.9-4.4-14-1.9-4-4.4-5.7-11.9-11.5-5-6.7-4.3-8-18.1-37.9-25.5-57.8-7.7-20-19.4-53.7-6-14.9-6.8-15.2-11.1-20.3-30.6-49.5-11.5-21.9-10.4-26-19.9-59.8-9.5-23-10-18.1-27.1-42.7-5.5-9.9-4.5-10-3-8-2.8-10-5.6-27.9-15.9-113.7-81.5-0.3-152.9 0.3 0.2 41.9-2 35.9-1.6 51.9-0.9 9.9-1.8 10-2.8 10-3.2 8-7.7 13.9-9.7 14-11.5 13.9-13.4 14-19.4 18-9.5 7.9-11 8-15.9 10-14.6 13.5-10.1 6.4-16.7 8-9.1 3.1-6 1.1-10 0.8-12-0.8-24-5.2-20-6.1-9.9-3.9-28-14.3-14-6.1-14-4.2-14-1.8-12 0.9-6 1.5-7.9 3-12 6.8-6 4.6-6 5.7-6 6.9-4.2 6-7.3 14-3.9 12-4.2 23.9-3.3 8-4.2 6-6.9 7.2-18.8 22.7-7.9 11.9-4.4 10-0.2 4 2 4 13.3 13.1 10 11.6 6 8.3 4 7.7 2.3 7.2 0.8 7.9-0.9 8-2.8 10-5.4 15.5-8.5 18.4-1.5 6-0.9 8-1.3 4-3.1 4-11.5 11.9-3.1 4.5-2.8 5.5-3.1 10-4 19.9-3.5 14-3.3 10-3.6 7.9-8 14-7.5 10-8 7.9-12.2 9.5-6 2.6-6-0.3-18.1-7.8-37.8-10.6-4 0.3-2 0.8-18 13.6-4 1-2-0.3-4-1.7-4.3-3.1-3.7-3.5-6.2-8.4-5.5-10-11.1-23.9-5-8-4.7-6-9.4-9.5-14.3-10.5-7-5.9-5-6-3.7-7-2-2.7-2-0.7-6 1.8-2-0.6-2-2.1-2.2-6.7-3.3-19.9-0.5-14 1-21.9-0.1-10-1.1-10-3.8-21.9-0.9-12 0.5-10 1.7-9.9 7.3-24 0.6-6-0.4-3.9-1.1-4-2.1-4-1.6-2-4-2.9-6-2.5-13.9-4.1-6-1.1-4 0.2-4 1.4-6 5.1-2 0.9-4-0.4-6-2.7-2-0.2-4 1.2-28 19.2-6 6.1-3.8 5.7-3.2 6-18.7 41.9-5.4 15.9-7.2 16-5.7 16-7.1 15.9-4.7 14-5.9 13.9-5.1 14-4 8-7.2 12-9.9 18.9-10 13.4-3.9 3-14 0.7-16 3.2-6.9 2.6-5.5 4-3 4-3.9 10-2.7 4.9-16.3 19-49.1 67.9-5.1 9.9-4.1 12 1837 0zM675.6 1704.5l5.9-1.3 11.9-1 4-1.3 3.7-2.3 8.3-7.4 12.1-6.6 4.6-4 9.3-12.1 14.5-15.8 6-10 5-14 9.6-53.8 0.2-4-1.6-4-11.7-12.6-4-6-1.7-5.3 0.1-8 3.3-20 3.2-11.9 3.5-8 13.3-23.9 3.9-10 3.4-12 2.2-11.9 2.1-26 4.4-35.9 0.5-8-0.4-7.9-1.6-8-3.4-10-12.8-28.6-4-6.9-4.5-4.4-6.9-4-10.6-4.1-10-2.5-8-0.5-10 0.3-8 0.8-6 1.4-8 2.7-7.9 3.7-6 3.5-8 5.5-14.1 13.2-8.8 11.9-3.2 6-3.9 10-1.8 6-1.5 7.9-4.1 57.9-1.9 12-6.7 29-1.4 10.9 0.1 5.9 1.3 3.6 3.1 2.4 4.9 1.4 14 1.4 6 1.4 8 4 6.5 5.8 4.5 6 3.7 8 8.2 23.9 1.1 8-0.8 4-2.3 3.9-2.9 2.9-4 2.5-4 1.7-6 1.5-20 1.4-10 2.2-6 2.7-6 4-4 3.5-4 4.7-4 8-4.4 16.8-4.3 35.9 0.3 14 2.4 13.9 4.4 14 2.9 6 2.7 4 6.3 6 5.7 3.1 8 2.1 24 2.4 6-0.4 6.1-1.3zM1250.8 1822.3l-4 0.3-3.9-1.2-2-1.2-4-3.2-8-7.9-4.3-2.8-5.7-2.1-16-3.5-14-7.9-6-1.9-4 0.4-2 0.8-4 3-3.8 5.2-8.2 13.3-4 3.6-3.9 0.8-4-1.4-4-3.1-4-4.2-3.5-5-4.2-8-5-14-2.3-11.9-2.2-22 0.5-9.9 1.5-8 6.8-14 0.9-4 0.8-10 1.1-3.9 2.1-4 3.5-3.8 6-3.4 6-1.3 21.9 0.1 30-4.1 10-0.6 24 3.1 15.9 1.1 6 2.2 4 3.7 9.2 14.9 2.3 6 6.3 26 0.7 5.9-0.3 8-1.8 12-2.9 10-4.2 11.9-9.8 22-2 4-3.5 4.7-4 3.5-4 1.8zM1814.6 1784.3l1.6-0.6 8-6 5-5.3 2.4-6 0.3-10-0.8-4-1.5-4-2.6-4-2.2-2-3.6-2-5-1.4-8-0.1-4 0.9-3.9 1.8-2 1.7-1.9 3.1-2.9 12 0.2 10 2.6 6.8 2 2.8 3.9 3.5 4 2.1 4 1.1 2 0.2 2.4-0.6zM325.8 1886.6l-2-0.2-1.9-1.5-2-3-2.3-5.8-4.9-23.9-0.5-10 0.6-10 1.1-7.6 7-26.3 1-2.9 1.9-3.4 2-1.3 2 0 2 0.9 2 1.9 2 3.5 8.3 21.2 2.9 10 0.9 10-0.5 6-1.3 6-6.3 13.9-3.6 12-4.4 7.4-2 2-2 1.1z"/>
<path fill="#9c9c9c" fill-rule="evenodd" d="M2032.3 1910l-0.3-245.9-3.9-1.4-2.1-2.1-2.1-3.9-5.9-16.8-3.1-5.2-3.9-4-6.3-4-10.2-3.9-10.4-2.8-10-1.5-10 0-10 1.6-8.8 2.7-7 3.9-12.2 11-4 4.6-3.7 6.4-5.9 14-9.9 33.9-6.6 17.9-1.5 8 0.1 6 1.2 8 5.2 17.9 1.2 6-0.2 6-3.5 13.9-0.8 6 0.6 6 4.2 12-0.6 4-1.3 2-4.5 4-13.9 9-6 1.4-10-0.7-10-2.8-6-2.8-3.3-2.2-3.8-3.9-7.1-10-5.8-5.1-8-3.1-4-0.2-2 0.9-2 2.1-10 15.1-1.6 4.2-0.2 6 1.4 16 0.1 10-0.7 5.9-2 4-2.1 2-10.8 6.8-10 7.3-6 5.1-8 8.4-3.1 2.4-4.9 1.1-3.9-1.1-2.4-2-2.6-4-5.7-18-4.3-8-7.8-11.9-1.8-4-3.5-11.3-2-4.2-4-5.2-11.9-11.2-4.8-6-4.7-8-11.9-23.9-17.8-37.9-15.6-35.9-7.7-20-19.4-53.8-10.1-24-11.9-22.7-31-49.1-12.1-21.9-10.2-24-20.7-61.6-9.6-24.1-10.3-19.1-28.7-44.8-9.2-17.9-3-8-2.9-10-5.6-27.9-3.6-23.9-11.9-91.8-79-0.2-146.8 0.2 1.2 41.9-1 35.9 1.3 35.9-0.2 21.9-0.5 8-1.4 8-2.8 10-3 8-7.1 11.9-10.2 14-13.5 15.9-15.8 16.4-8.6 7.6-15.7 11.9-34.5 22-3.7 4-6.3 10-3.1 2.7-5.2 3.2-8.3 4-20.4 8-6 1.8-18 2-12-0.3-19.1-3.5-8.9-2.4-25.9-9.6-24-12.2-16-7.1-14-4.2-12-1.4-12 1-14 4.1-5.9 2.7-6 3.6-9.1 7.6-5.1 5.9-4 6-6.5 14-4 12-4.5 21.9-4.8 12.3-4 5.9-10 6.2-4 3.6-3.2 3.9-7.3 12-2.5 6-1.5 5.9-0.7 6 0.2 4 1.9 8 4.7 10 10.4 17.1 4 7.8 3.2 9 1.4 10-0.2 5.9-1.6 8-8.1 24-8.1 17.9-1 4-0.5 8-0.9 4-3.1 4-7.1 5.7-5.9 6-3.3 4.2-3.3 6-2.8 8-4.6 23.1-4.7 16.8-3.8 9.9-6.4 12-6.6 10-6.6 8-6.2 5.9-13.7 10.8-6 2.5-6-0.2-21.6-9.1-16.3-4.9-18-4.6-4 0.4-2 0.9-18 13.6-4 1.1-2-0.3-4-1.6-8-6.2-6.5-8.3-5.8-10-12.1-25.9-5.1-8-6.5-8-7.9-7.5-15.4-10.5-4.9-3.9-3.9-4-6-8-1.8-1.3-6-0.1-2-0.6-2.4-2-1.6-2.3-2-5.7-2.8-11.9-1.2-8-0.6-12 1-35.9-1.1-10-4.3-23.9-0.7-10 0.4-8 1.7-9.9 7.5-26 0.7-6-0.4-3.9-2.2-6-2-2.6-4-2.9-6.1-2.5-13.2-4-4.6-0.8-4 0.2-4 1.9-5.2 4.7-2.8 1.2-4-0.4-6-2.9-2-0.3-4 1.1-26 16.9-5.1 4.3-4.7 6-3.4 6-6.7 14.4-12.8 29.5-6.2 17.9-6.5 14-5.7 16-6.8 15.4-4.9 14.5-5.8 13.9-5.9 16-9.9 18-7.5 16.4-7.8 13.5-2.4 6-0.7 5.9 5.2 10 4.7 18 5.8 15.9 1.7 8 0.4 8-0.5 6-2.2 8-5.6 11.9-3.7 12-4.9 8.1-2 2.1-2 1-2-0.1-1.9-1.4-2.5-3.7-3.3-10-4.4-23.9 0.1-12 0.9-10 4.1-15.9 2.3-16 3.3-12 0-2-0.9-2-1.9-1.9-5.7-2.5-6-0.3-12 1.7-6 1.5-4 1.6-4 2.4-3.6 3.5-2.3 4-3.8 10-2.3 3.7-15.9 18.2-49.1 67.9-5.1 9.9-4 12 1836.5 0zM718.6 1539l4.8-1.2 6-3.4 4-3.3 4-4.8 4.5-9.3 4.7-17.9 3.3-6 10.6-16 6-11.9 6.5-18 5.3-19.9 4.9-29.9 2-24-0.6-13.9-3.4-16-7.9-19.9-6.4-12-5.5-6.1-4-2.9-6-3.3-10-3.9-6-1.3-6-0.4-12 0.2-10 1.3-10 3.1-9.9 4.5-10 6.4-9.7 8.4-8.3 8.8-6.1 9.1-6 14-3 12-1.5 21.9-0.1 51.9-1.7 7.9-5.6 17.6-1.1 8.4 1.1 5.6 2.7 2.3 3.3 0.8 12-0.6 4 0.6 6 2.7 8 5.8 7.6 6.7 5.3 6 2.3 4 6.7 16.3 4 6.2 4 4.8 6 5.3 4 2.2 4 1.1 3.2 0zM670.6 1704.5l10.9-2.6 10-0.6 3.9-0.9 4-2.2 10-8.9 8-4.1 3.8-2.6 5.3-6 7.9-12 11.9-13.9 3.7-6 4-10 2.7-11.9 1-16-0.9-14-1.9-7.9-4.1-8-5.4-5.8-8-5-6-2.4-6-1.7-6-0.8-4 0-6 1-16 4.7-11.9 2.8-30 3.8-8 1.5-8 2.8-8 5.2-6 6.4-4 6.9-2.5 6.5-1.5 6-4 29.9-0.4 6 0.7 12 1.6 9.9 2.6 10 3.1 8 3.5 6 3.4 4 5 4 4.5 2.2 6 1.6 22 2.6 9.1-0.5zM1250.8 1824.6l-4 0.6-1.9-0.3-4-1.7-4-3.3-8-8.3-6-4.1-4-1.5-16-4-14-7.9-6-1.8-4 0.4-2 0.8-4 3.3-3.9 5.5-8.1 13.6-4 3.6-3.9 1.1-4-1.1-4-3-4.2-4.2-3.8-5.2-3.8-6.8-3.6-8-2.8-8-2.8-11.9-3.3-26 0.1-9.9 0.8-6 1.6-4 3.8-6.1 2-4.5 0.6-3.4-0.1-10 0.7-3.9 2.7-6 4.1-4.8 6-3.7 8-1.9 25.9 0.7 38-4.6 6 0.3 18 2.6 21.9-1.1 4 1.1 4 3.2 3.3 6.2 6.2 17.9 7.1 31.9 0.4 6-0.7 8-2 12-3.2 10-4.6 11.9-10.2 22-2.3 4.1-4 5.1-4 3.2-4 1.9zM1813.7 1782.3l6.5-3.6 4-3.2 2.8-3.1 2.7-6 0.7-6-0.3-4-0.9-4-1.8-4-3.1-4-2.1-1.7-6-2.7-4-0.5-4 0.1-4 0.9-3.9 1.8-2 2-1.2 2.1-2.8 10-0.3 10 0.8 4 1.5 3.6 4 5 5.9 3.3 4 0.7 3.5-0.7z"/>
<path fill="#969696" fill-rule="evenodd" d="M2032.2 1910l-0.2-240.4-6-1.5-4-3.3-2.1-4.1-4.1-12-2.7-6-4.1-6-3.9-4-5.8-4-8.9-3.9-8.3-2.5-10-1.7-10 0.1-10 1.8-8 2.8-5.6 3.4-12.4 11.1-4 4.9-3.2 6-5.6 13.9-9.1 32-6.5 17.9-1.4 8 0.2 6 1 6 6.1 19.9 1.2 6-0.3 6-3.8 13.9-0.8 6 0.5 6 4.2 12-0.6 4-1.2 2-4.3 4-12.3 9.1-4 2.3-6 1-8-0.9-10-2.6-10-4.4-4-3-9-11.5-5-4.7-6-3.1-4-0.7-2 0.4-2 1-2 2.1-9.3 13-1.6 3.9-0.4 6 1.5 18 0 8-0.6 5.9-1.8 4-3.7 3.2-10 6-10 7.2-6 5.1-7.9 8.5-2.6 2-3.5 1.3-2 0.1-4-1.2-2.7-2.2-2.5-4-3.4-12-2.3-6-4.3-8-8-11.9-6.8-18.3-4-5.3-11.3-10.3-6.6-8-4.7-8-14.1-27.9-16.2-33.9-15.8-35.9-7.8-20-19.4-53.8-10.1-24-11.8-22.2-30.6-47.6-12.6-21.9-5.6-12-6.4-16-18.8-56.1-10-25.6-5.9-11.8-6-10.1-28.6-44-9.1-17.9-3-8-2.8-10-5.3-27.9-14.8-115.7-76.3-0.2-140.5 0.2 0.3 12 2 31.9 0.2 33.9 3.1 33.9 1.3 29.9-0.3 6-1 6-5.3 19.9-4.7 8-12.5 16-18 19.9-18.4 18.7-8 6.4-14.5 8.8-24.1 12-9.6 6-3.7 3.2-2 2.8-1.8 9.9-1 2-3.2 2.7-18.8 7.3-27.1 9.3-8 1.5-20 1.6-10-1-16-2.7-8-2.1-27.4-10.6-20.5-10.4-16-7.1-10-3.3-8-1.7-8-0.6-6 0.2-6 0.9-8 2.1-8 2.9-5.9 3.1-5.8 4-4.5 3.9-3.7 4.3-4 5.7-6.6 14-4.1 11.9-5.1 22-8.7 23.9-1.5 2.4-8-0.8-4 1.2-2 1.3-3.6 3.9-2.4 4-3.6 10-1 5.9-0.3 6 0.5 6 1.2 6 4.1 12 7.7 15.9 4 10 2.6 10 0.8 8-0.4 7.9-2.4 10-7.4 21.9-7.8 18.7-1.4 13.3-2.8 4-9.8 6.8-5.5 5.1-3.3 4-3.6 6-3.5 10-3.7 19.9-4.4 16-4.5 11.9-6.5 12-8.3 12-7.1 8-19.5 16-6 2.5-6-0.2-21.9-9.3-16-5-18-4.4-4 0.4-4 2.2-16 12.5-4 1.1-2-0.2-4-1.6-8.2-6.1-6.7-7.9-5.9-10-9.1-20-4-7.7-5.3-8.2-6.4-8-8.3-7.4-19.2-12.5-10.8-10.5-8-2.8-4-3.2-2-3.5-3.4-10-1.8-6-1.4-7.9-0.6-12 1.1-29.9-0.1-10-1.3-10-3.9-19.9-1-10 0.2-8 1.2-7.9 8.2-30 0.6-6-0.4-3.9-1.4-3.9-1.3-2.1-4.9-4-15.7-5.6-4-1-4-0.2-4 1.2-6 5.2-4 1.6-4-0.4-6-2.7-2-0.4-4 0.9-26 16-6 5.3-4 5.5-3.5 6.5-6.2 14-12.1 27.9-6.1 17.9-6.5 14-6.5 18-6.2 13.9-4.7 14-5.8 13.9-4.8 14-12.2 23.9-11.8 28-0.8 4 0.2 4 3.1 11.9 1 10 1.5 8 6.3 19.9 1 12-0.7 6-2.2 8-5.8 11.9-4.7 14-4.4 6.8-2 2-2 1.1-2-0.1-1.9-1.3-2-2.7-2-4.1-1.9-5.7-4.7-23.9-0.3-8 0.4-12 0.8-6 3.7-15.9 0.7-12 1.9-12-0.4-4-1-2-2.2-1.9-5-1.7-6 0.2-10 1.4-8 2.6-4 2.5-3 2.9-2.4 4-3.8 10-2.4 4-15.9 17.9-49 67.9-5.1 9.9-4 12 1835.9 0zM717.8 1515l3.6-0.9 1.7-1 1.3-2 0.1-2-1.1-2.3-3.9-3.7-1.3-2 0.1-2 1.7-2 3.1-2 14.3-6.3 8-5.7 4-4.1 4.5-5.8 6.6-12 6.3-16 7.2-23.9 4.5-23.9 1.6-20-0.3-14-3-17.9-4.6-14-6.8-14-6.5-7.9-4.9-4-4.6-2.8-10-4.2-6-1.3-6-0.5-16 0.6-6 1-8 2.4-7.9 3.4-6 3.3-6 4.1-6 4.9-10.7 11-7.6 12-5.7 16-1.1 6-0.9 9.9-0.2 12 0.7 19.9 2.1 18 4.9 21.9 3.3 8 9.6 16 8.1 9.9 9.5 8 14.3 8 5.2 4 1.4 2 0.4 2-0.1 6 0.5 2 1.5 2 4.7 2.9 4 1 2.4 0zM674 1702.5l7.5-1.8 10-0.6 3.9-1.1 4-2.5 8-7.8 10.9-6.1 5.6-6 7.5-13.4 9.6-12.5 3.7-6 3.2-8 2.4-10 0.6-9.9-0.9-10-1.8-8-3.5-8-4.9-5.9-4.4-2.9-4-1.6-6-1.2-24-1.5-29.9 1.6-20 2.4-10 2.6-8 3.9-8 6-3.9 4.6-2.1 3.4-2 4.6-1.5 6-4 25.9-0.3 8 0.9 12 1.6 9.9 2.8 10 3.5 8 3 4.5 4 4.2 4.9 3.3 5.1 1.9 26 3.6 4-0.1 6.5-1.5zM1250.8 1826.9l-5.9 0.8-4-1.2-4-2.9-10-11.2-4-2.8-6-2.4-14-3.9-14-7.9-6-1.8-4 0.4-2 0.9-3.8 3.4-4.1 6-8.1 13.8-2 2.1-4 2.5-3.9 0.4-4-1.6-8-8-3.7-5.2-4.3-8-6.4-16-2.2-7.9-2.7-16-6.3-27.9 0.3-6 1.3-4.7 6.7-7.3 0.7-2 0.8-10 1.7-5.9 4.1-8 4-4.4 6-3.6 8-2.1 7.9-0.2 14 1.4 8 0.1 40-5 6 0.5 10 2 6 0.4 7.9-0.9 14-3.4 6-0.3 4.8 1.5 4.7 4 2.5 4 1.6 4 2.1 10 0.1 19.9 5 20 0.9 5.9 0 6-1.3 10-2.2 10-5.1 13.9-14 30-3.1 4.9-4 4.6-4 3.1-4 2zM1814.5 1780.3l6.5-3.9 3.2-3.1 2.1-2.9 2.1-6 0.1-8-1.1-4-2-4-3.2-3.8-2-1.6-6-2.4-4-0.4-4 0.5-4 1.3-1.9 1.2-2 2.2-1.5 3-2.3 10-0.2 6 0.5 4 2.5 6 3 3.5 1.9 1.6 6 2 4-0.3 2.3-0.9z"/>
<path fill="#919191" fill-rule="evenodd" d="M2032.2 1910l-0.2-236.4-4-0.5-4-1.3-4.2-3.2-2.5-4-5.3-13.9-3-6-4.3-6-4.7-4.6-6-4-7.1-3.4-8.8-2.6-8-1.3-8 0-10 1.8-8 2.8-5.1 3.3-10.9 9.4-4.3 4.6-3.7 6.5-5.9 15.4-7.8 28-6.9 19.9-1.3 6 0 6 1.4 8 6.7 19.9 1.2 6-0.3 6-4.2 13.9-0.9 6 0.5 6 4 12-0.6 4-1.2 2-4.1 4-16.5 13.1-4 1.5-4 0-14-3.2-14.3-5.5-5.3-4-8.4-10.5-4-3.9-6-3.4-4-0.7-2 0.5-4 3.2-7 8.9-3.3 5.9-0.5 6 1.6 18 0 8-0.5 5.9-1.7 4-2.5 2.5-12 7.1-10 7.2-6 5.1-10 10.1-2 1-4 0.7-4-1.1-3.1-2.6-2.5-4-3.3-12-2.3-6-4.3-8-8.1-11.9-6.4-17.1-4-5.4-12.6-11.4-6.5-8-5.8-10-16.4-31.9-15.4-31.9-15.8-35.9-6.9-18-18.5-51.4-10.3-24.4-5.6-11.1-8-13.7-29.6-45-12.9-21.9-6.5-14-5.6-14-19.3-57.8-10-24.8-5.8-11.1-6.1-10-26.7-39.9-5.7-10-4.9-9.9-3.7-10-2.2-8-4.5-23.9-3.5-26-8.9-78.9-2.4-16.8-73.5-0.2-133.9 0.2 0.6 14 2.9 29.9 1.3 33.9 4.5 35.9 2.5 27.9-0.1 10-1.2 10-1.9 9.9-2.5 8.4-2.6 5.6-3.4 5.7-9.5 12.3-20.5 21.8-18.3 18.1-7.7 6.1-10 5.8-15.9 6.8-16 5.5-7.5 3.7-2.6 2-3.1 4-2.1 7.9-1.7 4-1.6 2-3.4 2.6-4 1.8-32 9-17.9 5.9-8 1.3-22 1.6-22-3-10-2.3-28.4-10.9-19.5-9.7-14-6.1-10-3.5-10-2-12-0.2-6 0.8-8 2.1-11.9 5.1-5.5 3.5-4.6 4-3.9 4.5-3.8 5.5-6.6 14-3.4 9.9-5.8 22-6.9 17.9-1.9 10-1.5 4-2.1 1.8-2 0.4-2-0.7-4-2.9-2-0.7-2 0.1-2 1.1-2 2.2-2.5 6.7-1.2 11.9 1.1 14 3 12 7.6 20.2 3.1 9.7 1.9 10 0.4 7.9-0.7 8-1.3 6-8.1 25.9-5.9 16-2.5 14-2.9 4-12 7.7-4 3.2-4.5 5-3.9 6-3 8-4.7 23.9-4.6 16-4.9 11.9-7 12-7.2 10-7 8-21.1 17.3-6 2.4-6-0.1-4-1.3-10-4.9-8.5-3.5-17.4-5.4-16-3.7-4 0.5-4 2.1-16 12.8-4 1.1-2-0.2-4-1.5-5.5-3.7-4.5-3.8-6.6-8.1-5.3-9.2-12.7-26.7-6.3-10-6.3-8-8.7-7.3-17.8-10.7-10.2-8.6-10-5.1-2.6-2.2-2.6-4-5.7-14-2.4-9.9-0.7-14 1.4-31.9-0.1-8-1.3-10-4.2-19.9-1.1-10 0.8-12 2.3-9.9 6.1-22 0.9-6-0.2-3.9-2.2-6-4.5-4-4.1-2-9.7-3.4-4-0.9-4-0.1-4 1.7-6 4.7-4 1.2-4-0.3-8-2.9-2 0.1-4 1.5-26 15.4-6 6.5-4.7 8.4-18.1 41.9-6.1 17.9-7 15.4-5.2 14.6-7 15.9-5.4 16-5.7 13.9-3.8 12-11.8 23.9-9.8 26-0.8 4-0.2 4 2 11.9 0.8 16 1.2 6 5.4 17.9 0.9 8-0.2 6-2.2 10-6.6 13.9-3.8 12-1.9 4-3.9 5.6-2 1.9-2 1-2 0-1.9-1.3-2.5-3.2-1.9-4-1.9-6-4.6-21.9-0.7-8 0.3-14 0.7-6 3.1-13.9 0.3-14 1.6-12-0.7-4-1.7-2.3-4-2-6-0.3-10 1.1-8 2.6-4 2.5-2.4 2.4-2.5 4-3.8 10-2.4 4-15.9 17.9-49.1 67.9-5.1 9.9-3.8 12 1835.3 0zM717.6 1485.1l13.8-3.1 8-3.8 4-3 4-4.1 6.7-9.9 7.9-18 7.3-21.9 4.9-23.9 1.6-20-0.5-14-3-17.9-4.6-14-6.1-11.9-7-8-9.2-6.4-10-3.8-12-1.5-14 0.6-6 1.2-8 2.4-11.9 5.8-6 4.1-6.6 5.6-9.4 10-4 5.9-3.1 6-3 8-2.3 8-1.4 13.9 0 12 1.3 17.9 3.5 20 2.3 8 4.5 11.9 8.7 16 5.2 8 4.3 5.3 4.8 4.7 5.2 3.6 7.9 3.6 8 2.2 8 0.9 6.2-0.4zM669.4 1702.5l10.1-2.8 12-0.9 3.9-1.3 4-2.9 6-6.2 12.6-7.8 4.6-6 6.8-14.4 7.3-11.5 3.1-6 2.5-8 1.2-8-0.5-9.9-2.9-10-4.7-7.5-6-4.9-6-2.6-6-1.6-20-3.5-17.9-0.9-18 0.9-14 2.5-10 3.8-6 3.6-4 3.2-2.9 3-2.6 4-1.8 4-1.6 6-3.5 19.9-0.7 8 0.7 12 1.2 9.9 2.4 10 3.1 8 2.4 4 3.3 4 4 3.4 5 2.6 5 1.2 20 3.1 7.9-0.4zM1246.8 1830.3l-5.9-0.2-4.2-1.9-3.8-3.8-7.4-10.1-4.6-3.4-6-2.5-12-3.7-14-8-6-1.8-4 0.5-4.3 2.9-4.5 6-9.2 15.9-2 2.1-4 2.7-3.9 1-4-0.8-4-3-4-4.6-4-5.5-3.3-5.8-7.2-16-4-12-3.2-15.9-1.7-6-2.6-6.5-5.2-9.5-1.2-3.9-0.5-4 0.1-12 1.7-6 7.1-10.5 8.2-17.4 2.7-4 2.1-2 3-2 4.7-2 5.3-1.4 6-0.7 7.9 0.1 16 2.1 8 0.1 18-1.8 18-3.7 4-0.3 4 0.4 10 2.4 8 0.1 5.9-1.3 14-4.7 6-1.1 6 0.4 4 1.4 4 2.5 4 3.9 2.6 3.6 1.9 4 1.4 8-0.6 11.9-2.5 10-0.3 4 4.8 23.9-0.3 8-2.5 14-3.1 10-5.7 13.9-15.2 29.9-4.5 5.9-4 3.5-4 2.5-6 2.2zM1815.5 1778.3l5.8-3.9 1.9-2 2.4-4 1.5-6 0.1-4-0.8-4-2.7-6-3.5-3.8-2-1.4-6-2.1-4 0-4 0.8-4.3 2.5-1.6 2.2-2 5.3-1.3 6.5-0.2 4 1.2 8 2 4 1.7 2 4.5 3 6 0.7 5.3-1.8z"/>
<path fill="#8c8c8c" fill-rule="evenodd" d="M2032.2 1910l-0.2-232.9-6-0.8-4-1.4-3.4-2.3-1.8-2-2.8-4.6-5.2-13.3-2.8-5.4-4.8-6.6-5.2-5-6-3.9-6.2-3.1-7.7-2.4-8-1.3-10 0.5-12 3.3-6 3.6-10 8.2-4 3.6-3.2 4.5-2.7 6-5.1 13.9-7 26-6.8 19.9-1.1 6 0.1 6 1 6 2.4 7.9 5.3 14 1.3 6-0.4 6-4.5 13.9-1.1 6 0.5 6 2.8 8 0.9 4-0.7 4-1.7 2.6-3.3 3.4-10.2 7.9-6.4 7.2-4 2.3-4 0.1-18-5.3-14-5.6-4-3-8-10.1-6-5.5-6-2.6-4 0.4-4 3-6 7-2 2.6-1.6 3.5-0.6 6 1.5 18 0.1 8-0.4 5.9-1.6 4-3.3 3.3-12 6.7-10 7.1-5.7 4.9-7.4 8-2.9 2.3-4 1.6-4-0.2-3.4-1.7-2.1-2-2.4-4-3.3-12-2.3-6-4.5-8.2-8.1-11.7-6-16-3.9-5.4-13.9-12.5-6.5-8-6.9-12-15.8-29.9-17.5-35.9-14.2-31.9-7.7-20-17.4-48.4-11.7-27.4-12.2-21.8-31-46-13.1-21.9-5.8-12-5.6-14-18.6-55.8-5.8-15.5-6-13.7-5.8-10.7-6.2-9.9-27.7-40-5.8-10-3.9-7.9-3.1-8-2.4-8-4-21.9-3.7-30-6.4-65.8-4.5-31.9-70.4-0.2-127.2 0.2 0.9 14 4.1 31.9 2.4 33.9 6.6 43.9 2.2 17.9 0.4 18-2.1 17.9-2.6 10-4 10-5.8 10-6.7 9.4-16 19.1-14 15.1-10 8.9-10 6.9-6 3.1-8 3.2-21.9 5.8-6.4 2.3-5.6 3.4-6.9 6.5-5.3 4-7.8 3.6-36 8.8-21.9 6.6-22 2.5-8 0.4-6-0.4-18-2.7-8-1.8-29.9-11.4-20-9.7-12-5-10-3.3-10-1.9-12 0-6 1-8 2.3-10.6 5-5.3 3.9-4 3.8-6.2 8.3-5.8 12-9.3 29.9-8.4 19.9-2.5 10-1.8 4.9-2 2.7-2 1.6-8 3.1-2 2.1-1.7 5.5-0.8 10 0.9 10 2.1 10 8.2 27.9 1.7 10 0.3 7.9-0.6 8-1.5 8-9.8 33.9-4.5 18-2.3 4-4.3 3.9-9.7 5.3-6.5 4.7-3.8 4-4.1 6-3.7 10-4 21.9-4.7 16-5 11.9-7 12-7.3 10-7.1 8-22.7 18.7-6 2.4-6-0.1-4-1.2-11.9-5.9-10-4-14-4.5-16-3.4-4 0.6-4 2-6 4.4-10 8.8-4 1.1-2-0.2-4-1.5-10.1-7.3-7-7.9-5.9-10-12.1-26-7.3-11.9-6.4-8-7.1-5.9-18.2-10.1-9.8-7.4-10-5.6-4-3.2-2.6-3.7-6.7-14-1.5-4-1.4-5.9-0.9-16 1.8-39.9-0.9-8-4.6-19.9-1.4-10 0-8 1.2-8 8.3-31.9 0.2-6-0.9-3.9-2.6-4-3.9-2.9-7.3-3.1-6.7-1.7-4 0.1-2 0.8-7.2 4.8-4.8 1.3-4-0.4-6-2.1-4-0.4-6 2.3-22 11.8-5.9 5.4-4.1 6-19.9 46.3-5.9 17.5-7.3 16-5.8 16-6.9 15.9-4.6 14-5.6 13.9-3.6 12-9.6 20-4.1 9.9-6.6 20-0.9 8 1.2 11.9 0.5 18 5.9 21.9 0.7 8-0.2 6-1.1 6-2 6-6 11.9-4.7 14-3.4 5.6-4 4.6-2 1-2 0-1.9-1.2-2-2.4-2-3.6-2.3-6-4.9-22-1-9.9 0.1-14 3.4-19.9-0.4-12 1.6-12-0.1-4-0.8-2-1.6-1.8-4-1.6-6-0.3-8 0.8-6 1.6-4 2.1-3.9 3.2-1.4 2-4.9 12-2.3 4-16.1 17.9-49 67.9-5.2 9.9-3.7 12 1834.8 0zM716.1 1479.1l11.3-2.1 6-2.3 4-2.4 4-3.2 3.7-3.9 6.3-9.7 7.2-16.3 7.3-21.9 4.5-21.9 1.4-20-0.8-13.9-2.9-16-4.8-14-5.9-10.5-4-4.8-4-3.6-4.4-3-5.6-2.9-10-2.8-12-0.8-8 0.4-6 1-8 2.2-5.9 2.4-10.7 6.5-11.3 10.1-4 4.5-3.6 5.3-4.9 10-4 14-1 13.9 0.3 10 1.5 16 3.9 19.9 2.6 8 4.1 10 7.7 13.9 9.4 13.1 4.9 4.9 5.1 3.6 5.9 3 6 1.9 8 1.4 6.7 0zM672.4 1700.6l7.1-2.2 12-0.9 2.8-0.9 3.2-2 7.9-8.2 8-4.5 4-3.2 3.7-6.1 12.5-31.9 1.3-8-0.3-7.9-2.4-8-3.6-6-5.2-5.2-6-3.8-8-3.7-10-3.1-13.9-2.5-14-0.6-14 0.9-12 2.7-8 3.5-8.1 5.8-4.6 6-3.3 8.9-3.8 19-0.2 12 1.1 13.9 1.4 8 2.4 8 3 6 3 4 3.1 3 4 2.7 4 1.5 22 4 6-0.1 4.9-1.1zM1246.8 1832.7l-3.9 0.6-4-0.1-6-2-3.2-3-4.5-10-4.3-4.7-5.9-3.2-12.1-4.3-14-8.1-6-1.7-4 0.7-4.6 3.4-4.3 6-7.1 13.2-2 2.8-4 3.8-5.9 2.8-4 0-4-1.8-3-2.9-7.9-11.9-8.3-18-5.2-14-5.1-19.9-2.5-6-6.7-12-1.4-3.9-1.1-6-0.2-12 1.5-8 1.9-4.4 9-15.5 4.3-12 2.7-3.3 4.7-2.7 5.3-1.7 14-2.2 8 0.2 15.9 2.6 8 0.5 10-0.5 12-1.4 20-5.1 4 0.3 10 2.5 6 0.3 7.9-1.8 18-6.6 8-1.1 6 0.9 4 1.8 6 4.5 6.5 6.8 3.8 6 0.8 4-2.7 14-0.1 7.9 1.2 4 4.5 7.4 0.6 2.6-0.7 4-3.9 8.5-2.9 15.4-4 16-2.9 8-7.2 15.9-16 29.9-5 6-4 3.4-4 2.6-6 2.5zM1812.4 1778.3l5.8-3 4.9-4.9 2.3-6 0.4-4-0.3-4-2.1-6-2.9-4-2.3-2-6-2.4-6 0.1-5.3 2.3-2.9 4-2.6 10 0.2 8 1.1 4 1.6 3 3.9 4 4 1.5 4 0 2.2-0.6z"/>
<path fill="#878787" fill-rule="evenodd" d="M2032.2 1910l-0.2-229.4-10-1.6-4-2.1-2.5-2.3-3.9-6-4.8-11.9-3-6-4.1-6-5.7-6-5.5-4-6.4-3.4-7.4-2.6-6.6-1.2-10 0.4-10 2.6-6 3.1-12 9.1-4 3.8-2.8 4.2-7.3 19.9-5.6 22-7.2 21.9-1.1 6 0.2 6 1.2 6 8.3 21.9 1.2 6-0.4 6-4.8 13.9-1.2 6 0.4 6 2.6 8 0.7 4-0.7 4-2.7 4-12.1 9.9-3.3 4-3.3 5.6-2 2.2-2 0.9-4 0.3-4-1.1-30.6-11.9-3.4-2.3-8-10.1-6-5.7-6-2.7-4 0.4-4 2.9-4 4.2-2.8 3.4-2.2 3.9-0.7 6 1.6 18-0.1 12-0.6 3.9-2.5 4-2.7 2-9.9 5.2-10 6.7-7.3 6.1-7.4 8-3.3 2.7-4 1.5-4-0.2-3.9-2-2-2-2.3-4-3.3-12-2.4-6-4.3-8-8.4-11.9-6.2-16-5.2-6.3-13.3-11.6-6.4-8-15.7-27.9-15.6-30-11.7-23.9-12.5-27.9-7.8-20-18.8-52.1-7.6-17.7-6-12-12.4-20.6-32.5-47.2-7.2-11.9-5.3-10-4.6-10-5.4-14-18.9-56.9-6-15.1-5.6-11.7-10.4-17-28.4-38.9-6.2-10-4.9-9.9-4.7-14-2.7-16-3.5-33.9-4.9-63.8-2.7-21.4-2.7-16.5-67.2-0.2-120.3 0.2 1.2 14 5 31.9 3.5 35.9 8.8 47.9 2.3 15.9 0.9 12 0.1 10-1.7 17.9-3.4 14-5.9 13.9-8.4 14.4-17.9 27.8-8 11.1-7.6 8.6-8.4 7.4-10 6.8-10 5.5-8 3.4-8.1 2.8-9.9 2.4-9.9 1.1-22-0.4-20 1.4-26 5.3-21.9 6.5-30 3.3-10-0.7-18-2.6-8-1.9-29.9-11.3-26-12-12-4-10-2.2-6-0.4-6 0.2-7.7 1.3-6.3 1.9-10 4.8-4.5 3.3-4.2 4-5.2 6.6-4.1 7.4-4 9.9-8.5 26-9.8 19.9-3.6 12.5-2 3.9-7.2 9.5-2.3 6-0.8 8 0.7 10 1.9 10 6.3 25.9 1.2 10 0.2 7.9-0.6 8-1.4 8-11.6 47.9-2.2 4-3.7 4-6.1 3.9-12.4 6.5-4.2 3.5-5 6-3.2 6-1.9 6-3.5 19.9-3.2 12-4.2 12-4.8 9.9-7.8 12-9.9 12-6.2 6-20 16.2-6 2.3-4 0.2-4-0.7-4-1.5-13.2-6.6-15.8-6-8.9-2.4-12-2.2-4 0.6-6 3.2-14 12.3-4 1-2-0.1-4-1.4-6-3.9-6-4.9-7-8.1-4.9-8.8-12-25.7-8-13.4-6-7.6-8-6.2-16.1-8.2-11.9-7.9-10-5.7-4.9-4.3-10.4-18-2.2-7.9-0.7-8-0.1-10 2.3-33.9-0.1-8-1.2-8-5-19.9-1.1-8 0-8 0.9-6 8.2-31.9 0.4-6-0.8-3.9-2.5-4-2.3-2-4.4-2.4-6-1.9-4-0.3-2 0.5-7.9 4.1-4.1 1.2-4 0.1-8-2.1-4-0.4-6 1.8-22 10.8-6 5.7-4 6.1-13.2 32.6-6.3 14-5.2 15.9-7.3 16-5.8 16-6.1 14-5.4 15.9-4.8 11.9-4 14-12.6 27.9-6.5 20-1.2 6-0.1 4 0.8 11.9 0 18 5.5 21.9 0.5 8-0.3 6-1.1 6-2.1 6-6.1 11.9-4.7 14-3.9 6.4-4 4.5-2 1-2 0-1.9-1.2-2-2.3-2.5-4.4-2.3-6-5-22-0.9-7.9-0.2-16 3-19.9-0.8-12 1.7-12-0.4-4-1.1-2-1.5-1.3-4-1.3-6-0.3-8 0.9-4 1.2-4 2.1-4.8 4.7-2 4-2.9 8-2.3 4-16.2 17.9-49 67.9-5.1 9.9-3.7 12 1834.3 0zM722 1473.2l9.4-3.5 4-2.4 4-3.4 6.7-8.7 6.1-12 7.6-19.9 5.1-20 2.7-19.9 0-16-1.9-13.9-3.8-14-5.3-12-5.9-7.9-7.3-6.1-4-2.3-6-2.4-10-2-12-0.4-12 1.8-6 1.9-5.9 2.7-10.2 6.8-6.5 5.9-5.3 5.8-6.3 10.2-4.4 12-2.1 11.9-0.1 14 2.5 21.9 4.7 20 8 17.9 9.7 15.3 5.6 6.7 4.4 3.8 4 2.8 5.9 3 6 1.9 6 1.1 6 0.2 6.6-0.8zM667.5 1700.6l12-3.4 10-0.8 3.9-1 4-2.8 6-6.6 11.4-7.4 3-4 1.6-4 6.1-23.9 0.6-8-0.9-8-3-7.9-3.9-6-5.8-6-8.7-6-8.4-3.7-9.9-2.4-14-1.5-12 0.4-10 1.9-10 4-7.3 5.3-4.5 6-3.2 8-3.4 13.9-0.8 12 1.8 21.9 2.7 10 4.6 8 4.1 4.1 6 3.3 21.6 4.6 6.4 0zM1238.9 1836.3l-4-0.3-4-1-4.3-2.8-2.1-4-1.7-8-2.4-4-2.1-1.9-5.4-3.1-10-3.9-14-8.2-6-1.5-4 0.7-4 2.9-4 5.4-8 14.9-4 5-4 3.3-5.9 2.4-4-0.1-4.4-1.9-3.6-3.6-6.9-12.3-6.1-14-8-20-5.2-17.9-9-18-3.1-9.9-0.9-12 1.3-12 2.5-8 6.1-13.9 1.6-12 1.2-2 2.1-2 4.4-1.8 4-0.9 20-2.7 12 0.3 17.9 3.4 8 0.5 10-0.5 10-1.3 20-6.2 4 0 10 2.3 6 0.3 4-0.7 5.9-2 20-8.7 4-1.1 4-0.2 6 1.5 6 3.6 19.5 18.2 2.5 4 0.2 4-0.8 2-5.5 8-1.5 4-0.3 3.9 0.9 4 5 8 1.8 4 0.3 6-2 6-6.8 13.9-9.4 26-8.5 17.9-8.2 14-6 12-5.4 7.9-5.8 5.8-6 4.2-6 2.8-7.9 1.3zM1814.4 1776.4l5.5-4 2.9-4 1.6-6 0-4-0.7-4-3-6-4.5-4-6-1.8-6 0.7-2.2 1.1-2.2 2-2.7 6-1.3 8 0.8 8 1.7 3.8 1.6 2.2 4.3 3 4 0.6 6.2-1.6z"/>
<path fill="#828282" fill-rule="evenodd" d="M2032.2 1910l-0.2-225.7-10-0.8-4-1.2-2-1.3-3.9-4.4-2.4-4-5.9-13.9-3.1-6-6.7-8.8-5.8-5.2-6.3-4-7.8-3.2-8-1.5-4 0-6 0.8-6 1.6-6 2.6-16 11.4-3.3 4.3-1.8 4-6.7 19.9-4.1 18-7.1 21.9-0.9 6 0.3 6 1.4 6 7.9 19.9 2 8-0.1 4-0.9 4-4.5 11.9-1.4 6 0.3 6 2.7 10 0 4-1.7 4-1.5 2-9.7 7.9-3.9 4-2.3 4-2.2 6-1.2 2-3.2 2-6.2 0-3.8-1.3-13.9-6.7-16.1-6.1-3.3-1.9-2.2-2-6.5-8.7-6-5.8-6-2.7-4 0.4-4 2.7-6 6.1-2 3.3-0.8 2.7-0.3 6 1.6 16 0 12-0.5 3.9-2.2 4-2.5 2-11.2 5.6-10 6.7-6.9 5.7-7.4 8-3.7 3-4 1.5-4-0.2-4-2-2-2-2.6-4.3-3.2-12-2.4-6-4.4-8-8.6-11.9-4.3-12-2-4-4.5-5.1-13.9-12.1-7.1-8.7-16.1-27.9-18-34-13.7-27.9-9.8-21.9-27.2-72.7-6-14-6.6-13.1-13.4-21.8-32.3-46-7.4-11.9-5.4-10-5.5-12-4.7-12-20.6-60.9-5.4-12.9-4.8-9.9-4.7-8-7.1-10.3-23.4-29.6-7.2-10-6.2-10-3.9-7.9-3.5-10-2.1-12-2.4-33.9-3.3-67.8-2-16.8-4-25.1-63.9-0.2-113.4 0.2 1.6 14 5.5 29.9 4.5 37.9 11.3 49.9 2.8 15.9 1.7 20-0.8 17.9-2.5 14-4.6 14-30.4 59.8-5.5 8.9-5.8 7-6.8 6-8.9 6-14.5 7.9-12 5-17.5 5.1-14.5 2.7-5.9 0.4-6-0.9-20-8.3-8-1.8-6-0.4-6 0.5-21.9 3.8-22 6.3-30 3.2-10-0.7-18-2.6-8-1.6-31.9-11.8-24-10.9-12-3.8-10-2.1-6-0.3-6 0.4-12 2.8-10 5-7.9 6.8-4.3 5.3-4.5 8-14.3 37.9-3 5.9-5.9 8.7-1.5 3.3-3.1 12-5.4 11.9-1.9 6-1 8 0.4 10 1.5 10 5.4 25.9 0.7 8 0.1 9.9-2 18-9.2 43.9-2.1 4-4 4-6.9 3.9-15 6.9-4 3.1-5.3 6-3.3 6-2 6-3.2 19.9-3.9 14-4.5 11.9-5.1 10-8.3 12-10.4 12-5.9 5.4-8.6 6.5-11.4 9.8-6 2.2-4 0.2-4-0.6-6-2.3-14.5-7.3-13.4-5.2-10-2.6-10-1.4-4 0.6-6 3-4.5 3.6-7.5 7.8-2 1.3-4 1-6-1.5-6-3.7-6.2-4.9-4.1-4-3.3-4-4.6-7.9-11.9-26-9.2-15.9-4.6-6.1-4-3.7-4-2.8-19.6-9.4-10.4-6.5-9.8-5.4-5.1-4-12-16-1.8-6-0.9-7.9-0.1-24 2.6-25.9 0.1-8-1.2-8-5.5-19.9-1.2-12 1.4-12 5.2-17.9 2.2-10 0.4-6-0.8-4-2.4-3.9-2.4-2-6.6-2.7-6 0.3-8 3-4 0.8-6-0.4-8-1.8-4 0.1-6 1.9-14 6-6 3.2-5.8 5.5-3.8 6-11.8 29.9-7 16-5.2 15.9-8.1 18-5 14-6.8 15.9-9.9 27.9-3.2 12-8.3 18-4 9.9-6.3 20-1.3 10 0.4 11.9-0.3 18 1 6 4.1 15.9 0.4 8-0.6 8-2.3 8-6.9 13.9-4 12-5.2 9.1-4 4.5-2 0.9-2 0-1.1-0.5-2.8-2.7-3-5.3-2.3-6-5.1-22-0.9-7.9-0.3-16 2.4-17.9-1.2-12 2-14-0.7-4-2.9-2.8-4-1.1-6-0.3-6 0.7-4 1.2-4 2.1-4 3.8-2 3.5-3.2 8.9-2.2 4-3.1 4-9.5 9.4-3.7 4.5-46.3 63.9-4 6-3.1 5.9-2.9 8-1.5 6 1833.8 0zM725 1467.2l4.4-2.1 4-2.6 4-3.6 4-5 6-10.7 7.2-17.9 4.8-16.6 2.9-15.3 1.5-16-0.9-15.9-3-14-4.2-12-4.3-8-6-7.1-8-5.5-8.6-3.3-11.4-1.9-12 0.3-12 3-9.9 5.1-6 4.6-5.3 4.8-4.7 5.3-3.3 4.7-4.8 10-1.9 6-1.7 8-0.8 13.9 1.3 14 3.2 18 2.5 9.9 2.2 6 9.1 17.9 5.4 8 4.8 5.9 4.2 4.1 5.6 4 10.1 4.4 6 1.2 6 0.3 4-0.4 5.6-1.5zM670.6 1698.6l8.9-2.8 10-0.8 3.9-1.3 2-1.3 8-8.5 8-5 2.5-2.3 2.8-6 1.6-7.9 1.1-10-0.4-8-2.4-10-4.6-9.9-5.8-8-6.8-6.2-7.9-4.3-10-2.8-12-1.4-12 0.5-10 2.3-7.8 3.9-6.2 5.5-4 6.2-3.7 10.2-2.3 12-0.1 10 1.3 17.9 1.9 8 2.8 6 2.9 4 4.6 4 4.6 2.1 18 4.3 6 0.5 5.1-0.9zM1242.9 1838.3l-6 0.6-4-0.2-4-1.1-2.8-1.4-3.8-4-1.3-4-1.1-8-3-4.4-4-2.8-10-4.3-12-7.4-4-1.8-4-0.6-4 0.9-4 3.1-4 5.5-8 15.1-4 5.1-4 3.5-3.9 2.2-6 1-4.5-1.1-3.2-2-2.1-2-2.6-4-6.4-13.9-12.8-32-5.9-17.9-8.8-18-2.9-9.9-1.3-12 1-16 4.3-25.9 2-6 3.2-4.4 4-2.6 4-1.4 18-2 12-0.5 8 0.4 19.9 4.1 12 0.7 16-1.7 6-1.7 10-4.1 4-1.1 6 0 10 1.8 6-0.3 5.9-1.8 6-2.8 18-11.2 6-1.2 6 1 6 3.1 4 3.3 12 12.1 10.6 8.3 4.1 4 1.8 4-0.4 4-2.6 4-7.9 8-1.9 4-0.1 1.9 1.1 4 4.9 8 1.4 4 0.3 4-0.7 4-2.6 7-8.7 16.9-7.5 18-10 19.9-8.6 14-7.5 13.9-3.7 5.4-6 6.5-6 4.8-6 3.4-5.9 2zM1811.5 1776.4l2.7-1.1 4-2.8 3.3-4.1 1.7-6-0.2-6-2.3-6-3.2-4-5.3-2.7-6-0.2-2.7 0.9-2.8 2-2.4 4-1.9 8 0 6 1.9 6.4 2 2.8 1.9 1.7 4 1.6 5.3-0.5zM895.2 1766.4l-2 0.9-4-0.4-3.8-2.5-2.2-2.9-1.3-3.1-0.2-4 1.5-3.8 2-1.7 2-0.7 4 0.6 4 2.9 1.9 2.7 0.8 2 0.3 4-1 3.6-2 2.4z"/>
<path fill="#7d7d7d" fill-rule="evenodd" d="M2032.2 1910l-0.2-221.2-6 0.3-8 2-2-0.3-2-1.5-2-2.9-5.8-11.8-6.6-15.9-6.6-10-5.8-6-7.1-5.2-6-2.9-8-1.9-4-0.1-6 0.8-8 2.2-4 1.7-14 9.2-3.8 4.2-1.9 4-2.3 8.1-4.3 11.8-3.7 17.4-6.5 20.5-1.2 6 0.1 6 1.2 6 2.4 7.2 6.4 14.7 2 8-0.1 4-0.9 4-4.7 11.9-1.5 6 0.1 6 2.4 10-0.1 4-1.8 4-1.5 2-9.4 7.9-3.8 4-2.1 4-1.8 8-1 2-2.5 2-3.6 0.9-6-0.3-4-1.4-13.2-7.2-19.8-8-3-2.4-6.7-9.5-5.3-5.1-4-2.2-2-0.5-4 0.3-4 2.5-4 3.7-2.6 3.3-1.6 3.9-0.4 6 1.7 16 0.2 12-0.4 3.9-2 4-2.9 2.4-9.9 4.6-10 6.2-8 6.4-8 8.5-4 3.3-4 1.4-4-0.2-4-2-2-1.8-2.9-4.8-3.1-11.6-2.5-6.4-5.5-9.6-7.7-10.3-4.3-11.7-2-3.8-4-4.5-14.1-11.9-8.3-10-16.5-27.9-18.4-34-12-23.9-11.2-23.9-6.5-16-22.8-60.3-6-14-6-11.9-14-22.2-32.2-45.2-7.5-11.9-5.5-10-5.7-12-6.4-15.9-22.6-63.8-8.3-18-10.7-16-33-39.9-6.6-10-4.1-7.9-3.4-10-1.5-10-1.2-99.7-1.4-14-5.3-31.9-60.4-0.2-106.3 0.2 1.4 12 5.8 29.9 3.4 25.9 2.1 12 5.1 19.9 9.6 32 3.5 15.9 2 16-0.1 15.9-2.4 16-5.4 17.9-17 35.9-13.7 34-4.2 7.9-4.2 6-5.4 5.4-6 4.2-23.3 12.4-14.7 5.9-8 2.2-9.9 1.8-28 3.6-6-0.3-4.9-1.3-5.1-2.2-16-8.8-6-2-4-0.6-6 0-16 1.7-6 1.2-17.9 5.2-30 3.4-10-0.3-22-3.2-10-2.4-14.9-5.9-15-5.2-24-10.3-12-3.4-10-1.6-10 0.4-10 2.6-6 2.7-4 2.5-7.2 6.3-4.7 6-3.1 5.9-17.4 41.9-2.5 4-5 4.9-1.7 3.1-3 14-4.6 15.9-0.8 8 0.3 10 5.5 33.9 0.9 17.9-1.8 22-5.9 35.9-1.4 6-2.2 4-3.3 2.8-6.7 3.1-13.3 4.6-6 2.8-4 2.8-5.4 5.8-3.5 6-2.1 6-2.9 19.9-3.3 12-5.1 13.9-5.1 10-8.3 12-10.6 12-6.4 5.9-10.5 8-6.7 6.5-4 2.9-6 2.1-4 0.3-4-0.6-6-2-17.9-9.2-9.8-4-10.2-2.8-10-1.1-4 0.6-6 2.9-5.1 4.4-4.9 5.9-4 2.9-2 0.6-4 0.1-6-2.2-12.4-9.3-4.1-4-3-4-4.4-7.9-10.8-24-10-17.9-5.2-6.6-8-5.9-17.4-7.5-25.5-13.9-14.6-12-2.5-4-1.3-6-0.9-31.9 0.5-12 3.1-17.9 0.5-8-1.5-8-5.4-17.9-1.2-8-0.2-6 1.3-12 4.8-15.9 1.8-8 0.6-6-0.4-4-1.6-3.9-1.9-2-4.1-2.2-4-0.4-14 2.2-4-0.2-10-2-4 0-8 2.3-16 6.4-6 4.7-3.7 5.1-2.9 6-3.4 10-13.2 31.9-6 17.9-6.7 14.6-5.7 15.4-6.7 15.9-9.6 27.3-3 12.6-9.9 22-5 13.9-3.5 12-1.3 8 0.1 13.9-0.7 16 0.6 6 4.3 17.9 0.3 6-0.5 8-1.2 6-2.3 6-6.2 11.9-4.9 14-4.8 7.8-3.6 4.2-2.4 1.2-2 0-1.9-1-2-2.1-2.5-4.1-2.6-6-5.4-22-1.4-9.9-0.5-16 2-17.9-1.7-12 2.1-12-0.1-4-1.9-3.1-4-1.8-6-0.6-6 0.6-4 1.1-3.5 1.8-4.2 4-2.2 4-2.8 8-2.1 4-3.2 4-13.3 13.9-35.7 49.9-10.6 14-4 6-3.1 5.9-2.8 8-1.4 6 1833.2 0zM721 1463.2l4.4-1.7 4-2.4 4-3.3 4-4.6 5.9-10 6.1-14.7 4-12.6 4-18.5 1.8-16-0.6-16-1.8-9.9-4.3-14-5.1-9.8-5.3-6.1-6.7-4.8-10-4-10-1.8-10 0.2-10.6 2.4-9.3 4.5-10 8.1-7.9 9.3-4.2 8-3.8 12-1.6 11.9 0.4 12 2.6 18 4.6 17.9 7.9 16.8 8 12.1 8 8.5 3.9 3 6 3.2 6 2.1 6 1.1 4 0 5.6-0.9zM672.5 1696.6l7-2.1 10-1.1 2.5-0.8 3.4-2.5 6-6.8 9.3-6.7 2.6-4 0.9-4 0.6-7.9-0.6-8-4-14-4.3-10-5.3-7.9-6-6-7.1-4.2-10-2.9-12-1.3-10 0.9-8 2.4-4 2-4 2.9-5.4 6.2-3.1 5.9-3.3 10-1.3 8 0.2 18 1 9.9 1.6 6 3 6 3.3 4 4 3 4 1.6 18 4.8 6 0 5-1.4zM1242.9 1840.4l-6 0.8-4-0.1-4-0.8-4-1.9-2.6-2.2-2.8-4-0.7-2-0.7-8-1.7-4-1.7-2-3.8-2.6-10-4.8-10-6.4-6-2.1-4 0.2-2 0.7-4 3.3-4 5.7-6 11.9-4 6.3-4 4.3-3.9 3-6 2.3-4 0-5.2-1.8-5-4-2.5-4-7.1-15.9-4.9-14-7.5-18-5.6-15.9-9.2-20-3.4-11.9-1.2-8-0.4-8 1.4-29.9 1.2-6 2.1-6 2.2-4 3.4-4 5.7-3.2 6-1.5 10-1.1 14-0.3 16 0.8 21.9 5 12 0.2 8-0.8 6-1.2 14-5.7 4-1.1 4-0.2 10 1.1 6-0.2 6.4-1.7 7.5-4 5.3-4 6.7-6.3 4-2.9 6-2.2 6-0.6 6 1.2 6 3.3 4 3.8 7.5 9.7 4.5 4.9 15.5 11 4 4 1.2 2 1 4-0.9 4-2.8 4.3-9.9 9.7-1.9 3.9 0.9 4 2.9 5.9 1.3 4.1 0.3 4-1.1 6-4.5 11.1-7.9 14.8-7.3 16-11.8 21.9-7.8 12-7.8 13.9-4.1 6-5.4 6-7.9 6.6-6 3.5-5.9 2.1zM897.2 1780.7l-2 0.4-4-0.7-4-2.2-4-3.3-7.2-8.5-2.2-4-1.4-4-0.3-8 0.9-4 1.7-4 4.5-5.3 4-2.5 2-0.6 2-0.2 4 1.2 10 7.4 5.2 6 2.5 6 0.5 4-0.3 4-2.4 8-3.6 6-1.9 2-4 2.3zM1813.8 1774.4l4.4-3.3 3-4.7 1-6-0.8-6-1.8-4-3.6-4-4.4-2-5.4-0.1-4 1.6-1.9 2.1-1.4 2.4-2 8 0.5 8 0.9 2.8 1.9 3.2 4 2.9 4 0.6 5.6-1.5z"/>
<path fill="#787878" fill-rule="evenodd" d="M2032.2 1910l-0.2-215.4-4 0.7-10 3.5-4-0.3-3.3-1.9-1.9-2-2.1-4-3.8-12-6.2-15.9-6.1-10-5-6-7.5-6.4-7.3-3.6-6.7-1.3-10 1-10 3-10 5.9-4 2.9-2.2 2.5-2.2 4-2.7 9.9-3.8 10-3.1 16.5-6.4 21.4-1.1 6 0.2 6 1.3 6 2.1 6 7 15.9 1.9 8-0.1 4-0.9 4-4.8 11.9-1.6 6-0.1 6 2.1 10-0.3 4-1.7 4-1.6 2-13 11.9-1.9 4-0.8 8-1.9 4-2.8 2-5.5 1.2-6-0.5-4-1.2-16.7-9.5-17.3-6.8-3.2-3.2-6.8-9.9-4-3.7-2-1.3-4-1.5-4 0.3-4 2.3-4 3.6-2 2.6-1.6 3.6-0.4 6 1.8 16 0.2 13.9-0.7 4-1.1 2-4.2 3.2-9.9 4.2-10 6.1-8 6.4-8 8.6-4 3.2-4 1.4-4-0.2-4-1.9-2-1.8-3.2-5.2-2.8-10.6-3.8-9.4-4.2-7.1-8.3-10.8-3.7-10.1-2-4.1-4-4.6-15.6-13.1-8.2-10-16.9-27.9-20.9-37.9-13.1-26-10.2-21.9-30.9-77.8-8.3-18-5.7-10-8-12.2-36.6-51.6-8.6-13.9-6.3-12-19.8-45.9-14.7-43.9-3.2-7.9-3.1-6-5.2-8-6.4-8.2-35.1-39.7-5.7-8-4.3-7.9-2.3-6-1.4-6-1-12 3.8-81.8 0.1-13.9-1.2-12-4.8-25.8-1-8.1-57-0.2-99.3 0.2 1.5 12 11.2 61.8 6.6 21.9 13.2 34 3.9 11.9 3 16 0.3 13.9-1.9 14-4.6 16-5.5 13.9-15.5 33.9-14.4 41.9-3.9 8-4.1 6-3.7 4-5.2 4-7.1 4-26.3 12.6-14 5.5-14 2.3-35.9 2-8-0.3-8-1.7-6.9-2.5-17.1-8-6-1.5-6-0.5-14 0.7-16 4.3-7.9 1.4-14 1.1-14 1.9-12-0.6-22-3.6-6-1.4-20-7.7-15.9-5.3-20-8-10-2.8-10-1.6-10 0.2-10 2.5-8 4-8 6.7-3.9 5.1-4 7.3-14.6 31.7-5.2 14-2.2 1.6-4 1.5-1.6 2.9-1.5 10-3.1 13.9-1.2 10 0 10 4.5 33.9 0.8 19.9-0.8 18-3.5 39.9-1.6 8-2.8 3.9-3.2 2.1-20 4.3-10 3.4-5.9 4.2-3.6 4-3.7 6-2.1 6-2.6 19.2-3.4 12.7-5.1 13.9-5 10-8.5 12-10.7 12-7.3 6.8-10 7.6-10 9.4-4 2.1-4 1.1-4 0.3-6-1-8-3.1-17.3-9.3-8.6-3.6-8-2.1-8-0.8-6 0.6-6 2.8-3.7 3.1-6.3 7.9-4 2.7-6 0.5-6-2-12.4-9.1-4.4-4-3.4-4-4.4-7.9-9.3-21.3-10.9-20.6-3.1-4.8-4-4.3-8-5.3-18-7-14-7.3-19.9-8.5-6-4-4-5.8-1.9-6.9-0.6-23.9-1.4-18 0.5-8 4.4-15.9 0.9-8-1.1-6-5.6-17.9-0.9-6-0.5-8 0.3-8 0.9-6 4.8-15.9 1.2-6 0.1-8-1.1-3.4-2-2.4-4-1.9-14-0.3-14-2.4-6 0.2-14 4.1-8 3.3-6 4.8-4 5.7-1.9 4.3-4.1 12.3-12 29.6-5.1 15.9-8.2 18-12.5 31.9-8.3 23.9-3.2 14-9 20-5.8 15.9-3.5 12-1.3 8 0 13.9-0.9 16 0.5 6 3.9 17.9-0.4 14-1.2 6-2.3 6-6.6 12.4-4.7 13.5-5.3 8.5-4 4.4-2 0.9-2 0-1.9-0.9-2-2-3-4.9-2.6-6-5.5-22-1.2-7.9-0.9-18 1.7-17.9-2.3-12 2.5-12-0.3-4-1.2-2-3.5-2-5.7-0.8-6 0.4-6 2.1-5.2 4.3-2.2 4-3.7 10-2.6 4-15.1 15.9-35.7 49.9-10.6 14-4 6-3.1 5.9-2.8 8-1.4 6 1832.7 0zM721.6 1457.2l3.8-1.9 4-3 6-7 5.4-10 5.3-14 4.8-18 2.3-13.9 1-12-0.7-14-1.8-9.9-3.7-12-3.9-8-4.7-6.1-4-3.3-4-2.5-8-3.3-8-1.7-10-0.1-10 2.1-7.9 3.8-9.1 7.1-6.9 8-5.4 10-3.1 10-1.7 11.9 0.3 12 2.8 18 5.1 17.9 6.8 14 7.2 10.9 8 8.3 3.9 2.8 6 3 6 1.9 4 0.5 6-0.3 4.2-1.2zM667.7 1696.6l11.8-3.4 10-1.5 3.9-2.2 6.2-6.9 9.2-8 1.7-4 0.3-6-1.5-9.9-4.7-16-3.6-8-5.6-7.9-5.9-5.4-8-4.1-10-2.4-10-0.3-8 1.4-8 3.5-6 5-4 5.5-3.9 8.7-2 8-0.8 8 0.6 15.9 0.7 6 1.8 6 3.4 6 3.9 4 4.3 2.4 16 5.2 4 0.7 4.2-0.3zM1242.9 1842.4l-6 0.9-4-0.2-4.6-0.9-4.2-2-3.2-2.7-2.6-3.3-1.4-4-0.7-8-1.3-3-2-2.5-3.7-2.4-8.3-4.3-10-6.5-6-2-4 0.3-2 0.9-4 3.4-4 5.8-8 15.7-4 5.2-5.9 5.2-6 2.3-5.7-0.1-5.2-2-5.1-4-2.6-4-7.2-15.9-6.1-18-6.9-16-6-15.9-8-18-2.7-7.9-2.4-10-1.6-14 0.4-23.9 0.5-6 1.9-8 2.4-6 2.4-4 3.9-3.9 4-2.3 6-1.8 10-1.3 10-0.2 22 1.2 5.9 1.1 12 3.4 8 1.4 8 0.3 10-0.9 8-1.9 11.8-5 4.2-1.2 4-0.3 12 0.5 8-1.6 3.9-1.9 5.3-3.5 10.7-10.8 6-4.6 8-3.4 6-1 4-0.1 8 1.9 6 4 3.2 4 6.6 12 3.1 4 4.6 4 12.1 7.9 3.9 4 2.6 6-0.3 6-1.8 4.2-9.9 11.8-2 3.9-0.3 4 1.5 8 0.1 4-1.6 8-5.8 13.6-7.8 14.3-6.6 14-12.3 21.9-9.3 13.9-8.2 14-4.4 6-5.6 6-7.8 6.4-6 3.6-5.9 2.2zM899.2 1790.7l-2 0.4-4-0.4-4-2-4-3.5-8-8.9-5.9-7.9-2.3-4-2-6-0.6-6 0.2-6 1-6 1.7-3.9 3-4 6.9-6.4 4-2.9 4-1.4 2 0.2 2 1.1 8 8.9 10.4 8.4 3.6 4.7 2.5 7.3 0.5 6-0.3 4-3.1 10-3.6 7.4-4 6.3-2.1 2.2-3.9 2.4zM1811.2 1774.4l4-2 3.9-4 2-6-0.3-6-1.2-4-3.4-4.6-4-2.3-2-0.5-4 0-4 1.8-2.6 3.6-1.9 6-0.2 8 2.2 6 2.5 2.8 4 1.7 5-0.5z"/>
<path fill="#737373" fill-rule="evenodd" d="M2032.2 1910l-0.2-209.7-12 2.7-4 0.3-4-0.8-3.6-1.9-2.3-2-4.1-6-5.8-18-4.1-10-7.3-11.9-4.9-6-5.8-4.9-6-2.8-6-1.1-8 0.7-8 1.8-6 2.8-8.7 5.5-2 2-2.4 4-2.5 9.9-3.2 8-1.6 6-2.2 14-5.6 19.9-1 8 0.7 6 1.7 6 9.2 21.9 1.1 6-0.1 4-1.5 6-4.2 9.9-1.7 6-0.3 6 1.8 10-0.3 4-1.9 4-1.5 2-11.1 9.9-2.8 4-1 4 0.1 6-1.3 4-3.7 3.2-5.9 1.8-6-0.1-6-1.5-4-1.8-14-8.5-16-6.1-3.3-3-6.3-9.9-4.4-4.5-4-2.3-2-0.5-4 0.2-4 2.2-4 3.7-2.2 3.1-1.1 4-0.1 6 1.9 14 0.6 13.9-0.6 4-1 2-3.5 3.2-11.9 4.7-10 6-7.6 6.1-8.4 8.9-4 3.2-4 1.3-4-0.2-3.1-1.3-2.9-2.2-2-2.6-1.6-3.1-2.5-10-3.9-9.6-4-6.9-9-11.4-5-12.7-4-4.8-17.2-14.4-8.2-10-6.6-10-10.7-17.9-22.3-39.9-16.3-32-8.2-17.9-30.9-75.8-7.4-16.1-6-10.3-8-12.1-39.2-55.3-7.3-11.9-6.4-12-20-41.9-5.6-15.9-9.9-34-4.5-9.9-5.4-8-7.6-9.2-39.1-40.7-5.9-8-3.1-5.9-2.3-6-1.8-8-0.6-14 1.7-17.9 7.3-57.9 0.9-13.9-0.8-10-5.4-27.9-1.1-10-53.7-0.2-92.4 0.2 1.8 14 6.3 35.9 5 21.9 4.1 12 5.3 12.6 16.7 31.3 4.6 9.9 3.6 12 0.9 6 0.3 8-1.4 11.9-4.1 14-5.2 12-14.2 27.9-6.4 14-6.4 17.9-10 35.9-4.4 9.4-4.8 6.6-5.2 4.7-8 4.9-39.9 18.4-12 3.8-12 1-41.9-0.6-12-0.8-14-2.1-20.4-5.4-9.6-1.3-8 0.5-19.9 3.7-26 2.2-10 0-10-1.6-22-5.1-29.9-11.2-28-9.2-12-2.8-10-0.9-8 0.7-8 2.2-8 4.1-5.7 4.7-3.5 4-8.7 14.2-12 22.7-4.8 15-1.2 2.3-4 4-2 3.5-3.4 14.1-1.4 10-0.3 10 0.6 10 2.8 23.9 0.9 14-0.4 45.8 1.3 24-0.4 6-1.2 3.9-2.5 3.5-4 1.8-6 0.5-14-0.7-6 0.6-6 1.3-6 2.4-6 4.6-4.5 6-2.7 6-1.3 6-1.4 13.9-2.3 10-6.3 17.9-6.2 12-7.2 10-10.9 12-8.6 7.9-10.3 8-6.2 6.4-4 3.3-4 1.9-4 1.1-4 0.3-6-0.7-6-1.9-6-2.7-12.7-7.7-8.1-4-7.1-2.2-10-1.1-6 0.7-6 2.8-3.9 3.8-6 8-3.1 2-3 0.8-4 0-6-2-4-2.4-10.8-8.4-4.3-4-2.8-3.7-4-7.5-8-18.8-8-14.9-4.1-8.9-2.6-4-3.6-4-3.7-3-6-3.2-16.8-5.8-15.2-7-8-2.4-13.9-2.2-4.2-2.3-3.8-5.3-3-8.7-1-6.6-2-25.3-1.3-6-3.7-12-0.4-4 1.3-5.9 6.1-11.4 2-6.6-0.3-6-5-17.9-0.8-14 1.1-16 5-17.9 0.4-8-0.5-2-1.9-3.2-4.7-2.8-23.3-4.3-6-0.1-14 3.4-8 3.1-5 3.9-4.4 6-1.8 4-3.7 12-12.5 31.9-5.1 15.9-7.5 16-11.9 30.5-8.7 25.3-3.3 14.9-8.6 19.1-7.1 19.9-3.1 12-1.8 33.9 0.4 6 2.9 11.9 0.8 6-0.2 10-1.2 8-2.8 8-7.4 13.9-4.1 12-5.8 9.3-4 4.3-2 0.8-2 0.1-1.9-0.9-2-1.9-5.4-9.7-6.3-24-1.4-9.9-1-18 1.4-15.9-2.7-10-0.1-2 2.6-10 0.2-4-0.6-2-1.6-2-3.1-1.4-4-0.7-6 0.3-6 2-4.6 3.8-2.3 4-3.6 10-2.5 4-15.4 15.9-37.1 51.9-9.2 12-4 6-3.1 5.9-2.2 6-1.9 8 1832.2 0zM720.4 1451.2l3-1.6 4-3.2 5.6-7.2 4.9-9.9 4.3-12 4.2-16 2.3-15.9 0.5-12-0.8-11.9-2.1-10-3.3-10-3.1-6-4.9-6-5.6-4.2-8.2-3.7-9.8-1.8-8 0.3-8 2-7.9 4.1-8.5 7.3-6.1 8-4.5 10-3 11.9-0.7 10 0.9 12 2.4 14 4.8 15.9 6.7 13.6 7 10.3 5 5.2 3.5 2.8 8.4 4.3 8 1.5 4-0.3 5-1.5zM669.9 1694.6l7.6-2.3 10-1.9 4-1.8 13.1-14 1.9-4 0.1-6-2.3-11.9-3.8-14-2.8-6-4.3-6-5.9-5.6-8-4.3-10-2.5-8-0.1-8 1.7-6 2.9-6 5-4 5.6-3.4 7.3-2.2 8-0.6 8 0.4 13.9 1 6 2 6 2.8 4.7 4 3.9 4 2.2 14 5.2 6 0.8 4.4-0.8zM1242.9 1844.3l-6 0.8-6-0.4-4-1.1-4-2.3-3.5-3.1-2.9-4-1.2-4-0.7-8-2.2-4-2.3-2-9.2-5-8-5.5-4-2-4-1-4 0.5-2 0.9-4 3.5-4 6.1-8 15.9-4 5.3-5.9 5.2-6 2.4-6-0.1-6-2.3-6-4.7-2.2-3.2-8.4-17.9-4.9-16-21.7-51.9-3.9-11.9-2.7-12-1-10 0.3-21.9 0.7-8 1.8-7.9 2-5.6 2.3-4.5 3.7-4.5 4-2.7 6-2.1 10-1.4 10-0.3 26 2 5.9 1.2 14 4.2 6 1 8 0.4 10-0.8 8-2 14-5.6 6-0.8 12-0.2 8-2.2 3.9-2.3 4-3.2 10-11 6-5.5 6-3.8 8-3.3 10-1.9 8 0.1 4 0.8 4 1.6 3.7 2.5 1.8 1.9 2.5 4.2 4 12 2.7 5.8 3.3 4.1 12 9.8 2.9 4 1.7 4 0.8 4 0 4-0.9 4-3 6-8 10-2 3.9-0.8 4 0.2 10-0.5 4-1.8 6-4.6 10.8-15.9 31.1-12.6 21.9-9.5 13.7-8.6 14.2-7.4 9.6-6 5.9-6 4.8-6 3.6-5.9 2.2zM903.2 1798.9l-4 1.2-4-0.1-4-1.1-4-3.1-19.1-25.4-3.3-6-1.5-5.1-1.6-18.9 0.1-3.9 0.9-4 2.9-4 13.6-12.3 2.5-1.7 3.5-1.3 4 0.1 4 2.2 2 2.3 4.1 6.7 3.6 4 4.3 2.9 6.1 3.1 2.5 2 2.6 3.9 1.8 6 0.9 6 0.2 6-0.4 4-1.6 6-10.1 23.3-3 4.6-3 2.6zM1813.5 1772.4l2.7-2 1.7-2 1.8-4 0.5-4-0.8-6-2.1-4-3.1-3-4-1.6-4 0-4 1.9-2.9 4.7-1.1 4-0.4 4 0.8 6 2 4 3.6 2.9 4 0.7 5.3-1.6z"/>
<path fill="#6e6e6e" fill-rule="evenodd" d="M2032.2 1910l-0.2-205.1-12 1.8-6 0-5.7-2.2-5.3-3.9-3.5-4-2.3-4-8.9-24-5-9.9-5-8-3.4-4-4.8-3.8-4-1.7-6-1-8 0.5-6 1.2-8 3.8-6 3.9-2 2-1.9 3.1-2.4 9.9-3.8 10-2.7 18-5 19.9-0.8 8 0.7 6 1.7 6 9.2 21.9 1.1 6-0.1 4-1.5 6-4.5 10.6-1.6 5.3-0.4 6 1.5 10-0.4 4-1.9 4-1.6 2-10.9 9.9-2.8 4-0.8 4 0.3 8-2.2 4-5.2 3.3-5.9 1.5-8-0.5-6-1.8-17.5-10.5-15.7-6-2.8-2.6-6-10.4-4-4.2-4-2.3-2-0.6-4 0.2-4 2.1-4 3.7-2 3.4-0.7 2.7 0 8 2 12 0.9 13.9-0.4 4-2.3 4-3.5 2.3-11.9 4.1-8 4.5-9.2 7.1-8.8 9.4-4 3-4 1.3-4-0.2-3.7-1.6-2.5-1.9-1.8-2.3-1.9-3.7-3.2-12-3.5-8-5.4-8.7-6.4-7.2-6.2-14-3.4-4.2-16.7-13.8-7.3-7.9-8.5-12-18-29.9-17.9-31.9-17.5-33.9-8.3-18-29.1-69.8-8.5-18.2-6-10.1-12-17.9-34.2-47.6-13.4-21.9-20.3-41.6-8-22.3-8.8-31.9-4.6-9.9-6.6-9.2-10-10.8-18-17.2-17.3-14.7-6.2-6-4.8-6-4.8-7.9-2.4-6-1.8-8-0.6-8 0.4-8 2.4-13.9 13.1-57.9 1.9-13.9-0.5-10-5.4-27.9-1.2-12-50.7-0.2-85.8 0.2 3.1 23.9 3.3 20 3.5 15.3 4.1 12.6 6.1 14 7.8 13.6 8 11.2 15.3 19.1 5 7.9 3.8 10 1 6 0.1 6-1.9 11.9-2.7 8-2.6 6-6.9 12-19.1 28.9-4.9 9-4.4 10-5.8 17.9-7.4 33.9-3.7 12-3 6-2.8 4-3.7 3.9-4.3 3.4-8 4.3-21.9 8.1-24 11.1-12 3.4-12 0.6-26-2.6-17.9-0.7-16 0.4-12.3 2-7.7 2.7-6.1 3.3-5.4 3.9-8.7 8-5.8 4.5-6 2.8-4 0.7-4-0.4-2-0.9-9.9-8.6-4-2.4-34-12.3-51.9-22.5-14-4.8-22-5.2-8-1.3-8-0.4-7.8 1-6.2 1.6-6 2.5-6 3.6-6 5.4-4 5-17.9 28.2-5.3 15.5-5.1 10-3 11.9-1.2 10-0.2 10 3.1 39.9 1.4 45.8 1.8 12 5.9 22 0.1 13.9 0.5 2 1.8 2 2.2 0.4 2-0.4 2.9-2 5.1-5 3.9-2.5 4-1.1 6 0.2 4 1.5 4 3.1 2 2.5 4.1 7.3 3.9 4.2 2 1.1 4 1.2 10 0 2 2.8 1.9 18.6 0.2 8-0.5 6-1.6 6-7 17.9-5 15.3-2 4.2-2 2.4-4 1.8-8-0.9-6-2.2-4-4.1-7.1-12.5-12.5-17.9-3.3-6-1.9-6-2.1-14-2-7.9-3.8-10-4.2-6-5.8-4-9.2-3.6-12-2.8-8-0.1-8 1.6-5.6 2.9-4.4 4.1-3.9 5.9-2.8 8-1.4 15.9-3.8 15.2-6.5 16.7-6.9 12-8.1 10-9.6 10-6.9 6.3-10 7.8-8 8.3-4 3-4 1.8-6 1.4-6-0.2-6-1.3-9.9-3.8-14-9.4-6-3.1-6-2-8-0.9-8 0.8-6 2.9-3.9 4.3-4.1 6.5-4 3.1-4 1-4-0.1-4-1.1-4-1.9-15.2-11.5-5.5-6-3.4-5.9-8.4-20-8.3-16-4.4-9.9-2.7-4.1-4-4.1-8-4.9-16-4.9-18-7-6-1.1-4 0-13.9 2.3-2-0.5-2-1.4-2-2.7-2-5-2-8.5-3.4-24-2.5-11.9-2.6-6-7.5-9.3-1.9-6.7-0.8-5.9 0.2-4 1.2-4 9-12 1.6-4 0.4-4-0.7-15.9 2-28 1-6.8 3.5-13.1 0-6-1.8-4-2.1-2-3.7-2-15.9-4-6-0.6-4 0.3-12 2.4-8 3-4 2.9-4.6 6-2.5 6-2.9 10.1-12 31.8-4.3 13.9-8.3 18-12.4 31.9-8 23.9-3.5 16-7.6 16-7.8 21.9-3.1 12-2.2 33.9 0.4 6 2.7 11.9 0.7 6-0.5 10-1.2 8-2.9 8-7.4 13.9-4.2 12-6.3 10-4 4.3-2 0.8-2 0-1.9-0.8-2-1.8-2-2.9-4.6-9.6-5.7-22-1.4-9.9-1.2-18 1.1-15.9-3.3-10 0.4-4 2.5-8 0.1-4-0.9-2-3-2.3-4-1-6 0.1-6 2-4 3.2-2.4 4-3.5 10-2.5 4-15.6 16-6.7 9.9-7.8 10-6.6 10-8.8 11.5-7 10.4-9.4 12-3.9 6-3.1 5.9-2.8 8-1.3 6 1831.7 0zM718.5 1445.2l3.4-2 3.5-3.1 5-6.8 4.8-10 4.8-14 2.6-9.9 2.1-14 0.4-10-0.5-12-1.5-7.9-2.9-10-2.8-6-4.3-6-5.7-4.9-6-3.1-8-2.1-8-0.1-8 1.7-7.9 3.8-6 4.8-6.6 7.9-4.1 8-3.5 12-1.1 9.9 0.5 12 2.4 14 4.9 15.9 4.8 10 6.7 10.3 5.9 6.4 4 3 4.5 2.2 5.5 1.6 4 0.2 4-0.6 3.1-1.2zM1240.9 1846.4l-6 0.5-4-0.5-4-1.1-4-2.1-4-3.6-3.9-5.4-1.1-4-0.8-8-2.5-4-19.7-12.5-6-1.8-4 0.6-2 1-4 3.6-3.3 5.2-8.7 17.4-4 5.3-5.9 5.2-6 2.3-6-0.1-8-3.3-4-2.8-2-2.1-11.2-21.9-4-14-8.7-20-12.9-31.9-6.4-19.9-2.4-12-0.1-23.9 1-12 2.4-10 4.3-9.9 4-4.9 6-3.5 8-1.7 16-0.7 20 2 11.9 2 18 5.3 12 1.2 8-0.5 6-1.1 16-6 4-1 14-1 4-0.8 6-2.4 4-2.9 4.1-4 7.8-9.8 6-6.4 6-4.9 6-3.7 10-4.4 10-2.8 8-0.8 8 1 6 2.6 4 3.1 3.5 4.2 2.2 4 2.4 5.9 4.3 14 7.5 14.1 2.5 5.9 1.5 5.9 0.3 4-1 8-2.5 6-9.1 12-2.2 3.9-1.1 4-0.5 10-1.3 6-8.5 19.9-7.8 14-6.2 12.6-13.6 23.3-8.6 12-10.1 15.9-8.2 10-7.5 7-6 4.4-6 3.1-5.9 1.7zM671.7 1692.6l15.8-4.1 3.3-1.9 2.6-2.7 6.1-7.3 2.5-4 1-6-0.8-7.9-2-10-3-10-3.2-6-5.1-6-5.4-4.2-8-3.6-8-1.5-8 0.4-6 1.7-6 3.3-5.9 5.9-3.6 6-3.1 8-1.1 6-0.3 10 0.7 9.9 1.5 6 3 6 2.8 3.4 3.6 2.6 10.4 4.8 6 2.1 4 0.4 6.2-1.3zM1811.2 1772.4l3.6-2 3.2-4 1.2-4-0.2-6-1.5-4-3.3-4-4-1.8-4 0-4 2.1-2.3 3.7-1.5 6 0.3 6 1.6 4.2 1.9 2.4 2 1.3 4 0.7 3-0.6zM491.7 1796.4l-5.8-0.1-2.9-2-1-2 0.2-4 1.5-2.7 2-1.6 2-0.5 4 0.5 4 2.3 1.5 2 0.7 2-0.3 2-1.9 2.3-4 1.8z"/>
<path fill="#696969" fill-rule="evenodd" d="M2032.2 1910l-0.2-201-14 0.9-6-0.7-6-2.8-7.7-5.8-3.5-4-2.2-4-11.1-28-3.7-7.9-3.6-6-3.6-4-2.8-2-3.7-1.6-6-1-6 0.1-6 1.1-6 2.5-7.6 4.9-3.1 4-2.4 9.9-3.8 10-2.2 18-4.4 19.9-0.4 10 2.3 10 9.2 21.9 1.1 6-0.1 4-1.5 6-5 11.9-1.6 6-0.2 4 1.3 10-0.5 4-2 4-1.6 2-10.9 9.9-2.7 4-0.6 4 0.9 8-2 4-5.5 4-6.6 2.1-8 0.2-8-2-4.7-2.3-15.3-9.5-14-5-3.1-3.5-5.1-10-3.6-3.9-4.2-2.6-4-0.7-2 0.3-4 2-3.2 3-1.4 1.9-1.5 4 0 8 2.5 14 1.1 11.9-0.2 4-2 4-3.3 2.6-11.9 3.4-10 5.3-8.7 6.7-9.3 9.8-4 3-4 1.2-4-0.2-4-1.7-2.6-2.1-1.7-2-2-4-3.1-12-4.5-10-4.1-6.2-7.2-7.7-2.2-4-2.6-7-2-3.4-4-4-14.3-11.6-7.8-7.9-10.4-14-14.7-23.9-19.4-33.9-17.3-32.4-12.1-25.5-26.9-63.8-10.9-21.7-6.2-10.2-9.8-14.5-34.7-47.4-15.1-23.9-18.3-39.9-9.8-27.1-8.6-30.8-5-9.9-4.4-6-6-6.6-20-18.3-10-7.7-21.2-13.3-7.2-6-12.6-13.9-6-8-2.2-4-1-4 1.4-6 4.3-10 8.6-16.6 5.1-11.3 13.4-37.9 3.5-13.9 0.6-6-0.3-6-5.3-29.9-1.1-12-47.9-0.1-79.7 0.1 3.5 29.9 3.9 20 2.9 9.9 3 8 8.5 16.7 7.9 11.2 8.1 8.8 8 6.9 19.6 14.3 12.2 9.9 8.9 8 3.1 4 0.8 2-0.2 2-1.9 4-18.8 29.9-6.6 8-25.1 25.8-8 10-5 8.1-5.3 11.9-4.8 16-3.2 16-4.1 25.9-2.6 10-3 6.9-3 5-3 3.9-4.3 4.1-3.7 2.5-6 2.4-18 2.9-5.9 1.6-26 11.3-8 2.6-6 1.2-6 0.5-8-0.3-26-4.7-13.9-1.3-14 0.8-9.6 2.5-6.4 3.3-5.5 4.6-10.3 12-17.4 17.9-12.8 16.5-4 4.4-4 2.9-3.9 1.2-4 0-4.1-1-4.2-2-5.7-4.5-6-7.5-10.4-17.9-7-10-12.1-14-10.6-9.9-7.9-5.8-7.4-4.2-18.5-8.8-10-3.5-24-4.2-8-0.7-10 1.1-12 3.7-8 4.2-6 5.1-4.1 5.1-9.3 13.9-8.5 9.2-2.3 4.8-2.7 10-4.7 13.9-2 10-0.8 10 0 10 3.4 67.8 1.4 12 2.4 9.9 4.6 10 6.7 8.7 6 4 11.9 4 6 3.2 4.3 4 5.7 10.1 2 2.6 1.9 1.3 2.1 0.7 4-0.5 8-5.5 4-0.9 2 0.6 1.9 1.6 1.5 4 0.1 4-1.5 15.9-0.8 18-1.2 7.4-8.7 24.5-3.6 16-1.7 5.2-6 10.7-2 2.9-2 1.8-2 0.7-2-0.1-2.5-1.3-13.5-17.3-7.7-16.6-12-17.9-3.2-6-2.1-6-2.1-12-2.3-8-2.9-5.9-5.7-8-5.6-6-6.4-4-9.9-3.7-6-1.1-4-0.1-6 0.9-6 2.6-4 3.4-4.3 6-2.9 8-1.6 17.9-3.5 14-6.1 15.9-6.8 12-6.3 8-9.6 10-8.8 8.3-11.7 9.6-6.3 6.7-4 3.3-6 3-6 1.4-6 0-8-1.5-7.9-2.5-4-2-10.1-8.4-6.4-4-5.6-2-7.9-0.8-8 0.9-4.3 1.9-4 4-5.7 9.2-4 2.6-4 0.7-4-0.3-4-1-4-1.9-17.5-13.3-5.2-6-3.1-5.9-8.1-19.8-8-15.4-4.5-10.7-3.5-5-4-3.6-8-4.1-16-4.2-12-4.3-6-1.4-4-0.1-4.3 0.7-15.6 6.9-4 0-2-0.9-2-2.1-1.8-3.9-0.9-4-2.5-25.9-2.5-12-2.3-6.8-2.8-5.1-3.2-3.3-4-2.5-2-2.7-1.4-13.5-2.3-13.9 1.3-6 5-12 8.3-27.9 1.8-10 1.5-15.9 2.7-12 0.2-6-1.6-4-1.8-2-5.7-3.2-12-3.1-10-0.2-10 1.7-6 1.9-6 4-4 5.2-2.4 5.7-2.6 10-10.9 30.4-4.7 15.4-9.3 19.8-11.7 30.1-7.8 23.9-3.4 16-7.5 16-8.5 23.9-2.6 10-2.5 33.9 0.3 6 2.6 11.9 0.7 6-2.1 18-2.9 8-7.6 13.9-4.2 12-6.8 10.8-4 4.1-2 0.8-2 0.1-1.9-0.8-2-1.7-2-2.8-5.2-10.5-6.5-25.9-2.1-24 0.7-15.9-3.7-10 3.3-12-0.1-4-1.1-2-3.1-2-4.2-0.8-4 0.2-6 2-4 3.5-2 3.4-3.3 9.7-2.4 4-4.3 4.9-8 7.4-4 4.4-6.2 9.2-7.9 10-6.5 10-9.2 11.9-6.6 10-9.4 12-4.1 6.2-3 5.7-2.7 8-1.3 6 1831.2 0zM716.8 1439.2l5.5-3.9 5.1-6.5 4.9-9.5 5.2-14 2.5-9.9 1.7-12-0.1-18-1.3-7.9-3.7-12-3.2-5.9-3.3-4.1-4.7-4.1-6-3.1-6-1.6-8-0.2-8 1.9-7.9 4.2-6 5.5-5.4 7.4-3.3 8-2.7 9.9-0.8 8 0.5 12 2.5 14 3.8 11.9 4.7 10 6.7 10.1 5.9 6.2 4 2.7 4 1.8 6 0.9 4-0.5 3.4-1.3zM1238.9 1848.3l-6 0-4-0.7-4-1.6-4-2.7-4-4.2-3.2-4.9-0.8-2.6-1.1-9.4-2.9-4-18-11.4-6-1.7-4 0.6-2 1.1-4 3.8-3.4 5.6-8.6 17.5-5.1 6.5-4.8 3.9-6 2.3-6-0.1-8-3.2-4-2.5-2.7-2.4-2.7-4-4.4-10-5.9-9.9-3.9-14-8.8-20-12-29.9-4.3-11.9-3.5-12-2-12-0.4-23.9 1.2-12 3.4-13.5 3.7-8.4 4.3-5.4 6-3.5 8-1.8 12-0.3 14 1.5 22 3.8 19.9 6 12 1.3 12-1 6-1.6 14-5.2 18-2.4 6-2.5 4-2.9 3.9-4.2 10-13.7 6-7 6-5.6 8-5.8 14-8 10-4.3 6-1.3 4-0.1 8 1.5 8 4.1 6 5.4 5 7.1 4.4 10 3.9 15.9 3.1 24 0.2 11.9-1.6 8-3.1 6.4-8.9 11.6-2.3 3.9-1.3 4-2.1 14-3.3 9-8 16.9-6.8 12-5.2 10.6-14 23.8-8.4 11.5-11.7 17.9-9.9 11.4-8 7-6 4-5.9 2.5-6 1.2zM673.6 1690.6l9.9-2.5 4-1.6 4-3.2 5.3-6.7 2.1-4 1-4-0.1-7.9-1.2-8-1.9-8-2.1-6-3.8-6-5.3-5.4-6-3.9-6-2.2-8-1.1-6 0.6-6 2-6 3.9-4 4.3-4 6.6-2.7 7.2-1 6-0.2 10 0.8 7.9 1.8 6 2 4 3.3 4 4 2.9 8 4.1 6 2.3 6 0.2 6.1-1.5zM1813.2 1770.4l3-2.9 1.6-3.1 0.6-4-0.9-6-2.4-4-2.4-2-2.5-1-4 0-2 0.7-2 1.6-1.9 3.3-1.3 5.4 0.3 6 1.7 4 3.2 2.9 4 0.8 5-1.7zM489.7 1800.3l-6 1-3.9-1-2.1-2.4-1.2-3.6 0-6 1.9-6 3.3-4.4 2-1.3 2-0.4 4 0.9 6 4.1 4 4.2 1.4 2.9 0 4-1.4 2.7-4 3.1-6 2.2z"/>
<path fill="#636363" fill-rule="evenodd" d="M1379 1267.7l5.7-3.2 4-3.5 7.1-9.3 4.9-9.1 8.8-18.8 5-13.9 1.4-8-0.1-6-4.9-31.9-0.9-10-119.4 0 3.1 29.9 2.2 12 2.7 10 3.6 9.9 3.8 8 4.8 8.4 5.3 7.6 6.7 7.3 6 5.2 6 4.2 7.9 4.3 14 5.6 8 2.2 8 0.6 6.3-1.5zM715.8 1433.3l5.6-4.4 4.4-5.6 4.4-8 5-12 2-7.9 1.9-12-0.1-18-1.4-7.9-3.2-10-3-5.6-3.5-4.4-4.5-3.7-6-3.1-6-1.3-6 0-8 2.1-5.9 3.2-6 5.4-5.2 7.4-3.2 8-2.5 9.9-0.5 8 0.4 10 2.1 12 3.9 11.9 5 9.9 6 8.3 5.9 5.8 6 3.1 6 0.8 4-0.8 2.4-1.1zM2032.1 1910l-0.1-197.1-14-0.2-6-0.8-7-3.4-11.5-7.9-3.3-4-2.2-4-11.1-29.9-4.7-10-3.1-4-3-2.3-4-1.8-6-1-6 0.1-6 1.4-8 4.1-4 3.3-2.4 4.2-1.6 7.9-3.7 10-0.8 4-1 14-3.7 19.9-0.1 10 2.3 10 9.2 21.9 1.1 6-0.1 4-1.4 6-5.2 11.9-1.7 6-0.3 4 1.1 10-0.5 4-0.9 2-2.9 4-10.7 9.9-2.7 4-0.5 4 1.3 8-1.7 4-2.1 2-5 3.1-7.9 2.6-8 0.1-8-1.9-6-2.8-14.3-9.1-13.7-4.5-2-1.4-1.6-2.1-4.4-10-2.9-3.9-5.1-3.6-4-0.7-2 0.3-4 1.9-2.3 2.1-1.7 2.1-1.4 3.8-0.2 8 3.2 14 1.7 13.9-1 4-2.3 3.5-4 2.5-11.9 2.6-10 5.1-8.3 6.3-9.7 10.3-4 2.8-4 1.2-4-0.1-4-1.7-2-1.5-3.8-5-3.9-14-4.3-9.4-4-6.2-8.1-8.3-5.9-12.3-4-4.4-18.2-15.3-8.9-9.9-8.7-12-19.5-31.9-29.9-53.9-14.6-29.9-14.4-35.9-10.7-23.9-16.9-29.1-12-16.7-6-6.2-8.7-5.9-11.3-16.3-8-7.6-3.9-4.6-2.2-11.4-1.3-4-2.8-5.9-7.4-12-3.2-10-11.1-26.6-4.9-15.3-5.1-11.9-9.3-32-4.7-9.4-6-7.7-8-8.1-14-11.7-10-6.9-7.9-3.9-10-3.4-10-1.9-8-0.6-6 0.8-8 3.9-18 3.7-6 2.2-8 4-10 6.5-9.9 8.1-8 8.2-4.7 6.3-3.2 6-2.5 5.9-4.7 16-3.5 17.9-3.1 28-1.4 8-2.9 10.8-7.4 23.1-3.8 17.9-2.8 5.9-2 1.6-2 0.8-5.1-0.3-4.9-2.3-3.4-3.7-4.3-8-2.8-4-2.1-2-3.4-1.9-4-1-5.9 0.7-17.7 6.2-10.3 3-8 1.5-8 0.8-6 0-6-0.8-22-6.1-10-2-9.9-0.5-10 1.5-8 3.4-4.3 3.2-3.7 4-8 10.6-15.8 19.3-14 22-5 6-3.2 2.6-4 2.1-4 0.7-3.9 0-8-1.7-8-3.2-6-3.5-5.9-5-7.7-10-13.4-23.9-14.8-22-5-6-6.3-5.9-5.5-4-7.1-4-14.2-7-8-2.7-8-1.5-20-1.9-8 0.7-12 3.6-8 3.8-6 4.6-5.1 6.4-7.3 13.9-2.3 2-7.2 2.4-3.3 3.6-1.6 4-5.7 25.9-1.7 14-0.1 12 2.2 53.8 1.2 14 2.5 11.9 4.4 10 6.1 7.9 5.9 4.9 14 7.3 5.5 3.9 5.5 5.9 5 8.3 2 1.2 2-0.1 8-4.3 6-0.8 4 1.4 2 1.6 1.9 2.7 1.2 4 0.5 4-0.2 6-4.4 35.9-8.6 25.9-4.2 20-5 13.9-2.7 12-0.5 1.4-2 1.9-8-0.3-4 0.4-2-0.2-2-2.1-3.7-13.1-7.4-13.9-5.6-14-3.4-6-9.8-14.8-2.7-5.1-2.2-6-2.4-12-1.7-6-2.8-6-3.9-5.9-6.5-8-5.8-4.8-10-4.6-8-1.7-6 0.2-6 1.9-4.1 3-4.6 6-3 8-1.5 17.9-3.9 16-6.2 15.9-7.1 12-4.9 6-7.7 8-12.9 12.1-9.4 7.8-8.6 8.9-6 4.1-6 2.4-4 0.9-6 0.1-10-1.6-7.9-2-6-3.6-6.7-7.2-5-4-6.3-2.7-6-0.9-8 0.6-3.5 1-2.5 1.4-3.9 4.6-4.1 7.8-4 3.6-4 1.1-4-0.1-8-2.3-6-3.7-13.4-10.4-5.8-6-3.4-6-7.2-17.9-8.1-16.3-4.6-11.6-2.3-4-3.1-3.6-4-3.2-6-2.8-32-7.8-6 0.2-6 2.4-6.9 4.8-6.6 6-2.1 4-0.1 4 1.7 4 6.1 8.3 1.7 3.6 0.6 4-1.1 4-3.2 3.9-3.4 2.1-14.6 7.1-2 0.8-2.4 0.1-1.6-1.1-2-4.4-1.4-10.5 1.4-10.8 5.4-15.1 0.7-4-0.7-16 0.3-19.9-0.4-8-1.6-8-3.1-8-4.2-5.9-6.4-6.5-1.7-3.5-1.2-16-3-11.9-0.3-4 3.3-14 0-10 0.7-4 9.5-13.9 3.6-10 2.5-19.9 1.7-10 0-4-1.2-4-1.4-2-2.3-2-3.9-2-10.3-2.6-6-0.3-6 0.3-8 1.3-6 2.3-4 3.1-4.1 5.9-1.5 4-2.5 10-10 29.9-4.7 15.9-9.1 18.7-12.2 31.2-7.5 23.9-3.4 16-7.5 16-8.6 23.9-2.7 10-2.8 35.9 0.6 6 2.5 11.9 0.2 4-2.4 18-2.9 8-7.7 13.9-4.3 12-6.2 10-3.1 4-2 1.6-2 0.8-2 0-1.9-0.7-2-1.6-2-2.7-4.9-9.4-7.1-26-2.7-25.9 0.7-13.9-0.9-4-3.3-6-0.3-2 3.4-10 0.5-4-1.4-3.4-2-1.5-4-1.2-4 0-6 2.1-4 3.7-2 4-2.7 8.3-2.3 4-5 5.7-8 7.2-4 4.5-5.6 8.5-8.4 10.5-7.6 11.5-7.8 9.9-6.5 10-9.5 12-7 11.9-2.2 6-1.7 8 1830.5 0zM1244.9 1848.7l-6 1.2-6 0-6-1.5-4-2-6-5.6-4-5.7-1-2.9-0.7-8-0.6-2-1.7-2.5-18-11.8-6-1.7-4 0.8-2 1.1-4 4-2.5 4.1-5.5 12.3-4 7.3-5.1 6.4-4.8 3.8-6 2.1-6-0.1-4-1.2-5.5-2.6-6.5-4.9-2.2-3.1-5.6-12-6.2-9.9-4-14-14-32.6-9.7-25.3-3.9-11.9-2.5-12-1.3-23.9 0.5-12 2.2-12 4.2-13.9 4.5-7.9 6-5.1 4-1.7 4-0.9 10-0.4 14 1.8 28 6.1 19.9 6.3 12 1.5 8-0.4 6-1 18-6.1 14-2.1 6-1.9 4-2.4 4-3.8 4.5-6 9.4-15.1 6-8 18.5-18.8 13.5-16.3 4-2.9 4-1.2 4-0.1 4 0.7 6 2.1 6 3 8 5.1 6 4.9 7.9 8.9 3.6 5.8 2.8 6 3.3 12 1.6 15.9-1.5 29.9-1.9 12-2.1 6-2.1 4-12 15.9-2.1 6-2.1 12-3.4 8.9-8 17-12.9 24-13.1 22.2-9.9 13.7-10.1 15.2-8 9.9-12 11-6 3.9-5.9 2.4zM667.5 1690.6l15.6-4 4-2 2.5-2 4.8-6 2.1-4 1.2-6-0.1-5.9-1-8-2.7-10-2.4-5.2-3.7-4.8-4.3-3.9-6-3.6-6-1.9-8-0.6-6 1.2-5.9 2.8-4.1 3.3-3.8 4.7-3.2 6-2.1 6-0.9 8 0.1 8 0.8 5.9 2.1 6 2.3 4 2.7 2.9 6 4.1 8 4 4 1 4 0zM1811.3 1770.4l3-2 2.5-4 0.8-4-0.4-4-1.6-4-3.4-3.2-2-0.9-4-0.1-3.6 2.2-2.3 4-0.9 6 0.6 4 2 4 2.2 1.9 4 0.9 3.1-0.8z"/>
<path fill="#5e5e5e" fill-rule="evenodd" d="M1376.9 1255.7l3.8-1.7 4-2.7 4-3.6 4-4.8 12-19.8 3.5-7.3 2.5-6.6 1.6-7.3 0.2-6-4.9-41.9-111.9 0 2.6 27.9 3.8 18 3.4 10 3.3 7.3 4.9 8.6 5.1 7.1 6 6.6 6 5.2 6 4 7.9 3.9 8 2.7 10 2 8 0 6.2-1.6zM711.8 1429.3l5.6-2.8 5.3-5.2 4.7-7.1 4.3-8.9 2.7-7.9 1.9-10 0.8-8-0.1-10-0.9-7.9-2.1-8-2.6-6.6-3.5-5.4-4.5-4.4-4-2.6-6-2.1-6-0.4-6 1-6.1 2.5-5.8 4.2-5.1 5.8-3.3 6-3.2 10-1.3 7.9 0 10 1.2 10 2.5 10 4.1 9.9 3.5 6 5.5 7 6 5 6 2.3 4 0.2 2.4-0.5zM2032.1 1910l-0.1-193-16-1.8-6-1.6-16.5-9.1-5.1-3.9-2.9-4-2.7-6-9.6-29.9-3.8-8-3.3-3.7-3.7-2.3-4.3-1.3-4-0.5-6 0.3-4 1-6 2.9-4.8 3.6-2.5 4-2.3 9.9-2.9 8-0.9 6-0.5 12-2.9 17.9-0.1 12 2.5 10 9.3 21.9 1.2 6-0.1 4-1.5 6-5.2 11.9-1.9 6-0.3 4 0.8 10-0.5 4-2.2 4-12.5 11.9-2.6 4-0.3 4 1.6 8-1.5 4-2 2-5.9 3.8-7.9 3-8 0.6-10-1.8-7.9-3.6-14.1-9-14-4.3-2.3-2.7-4.6-12-3.1-3.9-4-2.6-4-0.8-2 0.3-4 1.9-2 1.8-2.2 3.3-0.9 4 0.5 8 3.8 12 2 11.9-1 6-2.5 4-3.7 2.9-13.9 2.3-10 4.9-8 6.1-10 10.5-4 2.8-4 1.2-4-0.2-4-1.6-2-1.5-4.2-5.4-3.9-14-3.9-8.6-3.2-5.4-2.8-3.3-7.3-6.6-4.7-9-3.6-5-20.5-18-10.7-11.9-8.4-12-16-25.9-28.5-49.9-9.4-19.9-7.7-14-5-11.4-10.5-28.5-9.2-19.9-4.3-7.6-24-33.6-6-5.3-10-4.4-6-4.3-20-22.6-6-8-2-6 0.8-12-0.7-4-6.5-13.9-3.3-14-8.2-22.3-4.5-15.6-6.9-15.9-7.5-26-4.7-9.9-4.4-6-8-8.2-8-6.6-10-7.1-6-3.5-5.9-2.6-6-1.6-8-0.9-8 0.9-18 5.5-22 3.8-8 2.7-6 2.9-11.9 7.9-9.3 8.8-5.7 7.9-5.2 12-4.8 18-3.3 21.9-3.6 41.9 0 10 1.2 9.9 2 8 2.8 8 3.7 8 3.5 6 9.3 11.9 23.3 24.5 5.5 7.4 4.3 8 2.8 8 1.5 10-0.3 11.9-1.9 16-4.4 25.9-3.5 12-4.5 8-9.5 11.6-2.6 4.3-1.5 4-2.6 12-3 8-8.2 17.5-13.2 24.4-14.1 23.9-22.7 32-6 7-8 7.6-6 4.6-6 3.4-5.9 1.9-8 0.7-6-0.9-6-2.7-4.4-3.7-6.2-8-1.5-4-0.6-8-2.2-4-17.1-11.2-6-1.7-4 0.9-2 1.2-2.9 2.9-3.1 4.7-6 13.7-4 7.1-5.2 6.4-4.7 3.5-6 2.1-6-0.1-8-3-8-5.2-2.8-3.3-5.6-12-5.6-8-2.2-3.9-3.8-13-10.2-23-15.3-39.8-2.9-10-1.5-8-2.2-21.9-0.1-10 0.7-8 1.5-8.8 3.4-13.1 2.8-8 3.8-6.8 4-4.4 4-2.7 4-1.4 8-0.7 12 1.6 37.9 10.5 17.8 5.9 12.2 1.6 8-0.2 8-1.4 16-5.5 14-2.5 4-1.5 4-2.4 4.1-4.1 4-6 9.8-18.9 12.3-21 3.2-7.9 1.1-8-1.4-8-3.8-8-8.1-9.9-13.3-13.4-3.9-2.8-6-2.3-8-0.5-26 2.3-12-0.2-8-1.6-20-7.4-7.6-2.1-8.3-0.9-8 0.9-4 1.4-4 2.3-6.6 6.3-22.2 31.9-13 22-6.2 7.6-5.5 4.3-4.5 1.9-6 0.7-5.9-0.6-12-3.2-10-4-7.7-4.7-6.7-6-4.9-6-3.8-6-14.1-27.9-8.1-14-7.6-10-7.1-6.5-13.9-8.5-12-5.4-12-2.5-18-1.2-8 1-8 2.5-8 3.7-6 4.5-3.7 4.5-2.3 4-2.3 5.9-2.6 10-1.1 2.5-2 2.2-2 0.9-1.9-0.1-6-3.3-2 0.7-2 4.3-1 8.8-4.1 19.9-1.3 12 0.3 25.9 1.8 39.9 2.3 14.5 1.6 5.5 2.7 5.9 4.1 6 5.5 5.6 6 4.1 14 8.1 12 10 4 1.5 12 0.3 6 2.3 4 4.2 1.7 3.8 0.9 4 0.5 6-0.4 8-5.8 33.9-8.7 27.9-3.8 18-4.1 13.9-2.3 15-2 3.9-2 1.9-4 1.4-10-0.1-4-1.3-2-1.8-2-4.2-2.3-12.8-2-6-4.8-9.9-6.4-16-11.6-18-3.1-5.9-2.1-6-3.8-16-4.6-10-7.2-9.9-6.2-6-3.8-2.5-6-2.8-6-1.8-4-0.4-6 0.6-4 1.6-4 3.3-4.2 6-2.5 8-0.9 15.9-3.6 16-6 15.9-6.9 12-8.7 10-28.1 25.9-7.8 8-5.6 4-7.6 3.2-4 1-6 0.2-14-1.7-5.9-1.5-2.6-1.2-3.4-2.7-7.5-9.3-2.5-2.3-6-3.2-6-1-8 0.8-4 1.4-2 1.5-2.3 2.8-4.8 10-2.9 2.9-2 1-6 0.7-6-1.2-4-1.5-6-3.6-15.7-12.3-5.4-6-3.2-6-7.6-19.2-8-16.5-3.7-10.1-4.3-6.3-6-4.5-6-2.4-28-5-6 0.3-4.7 1.9-5.4 4-5 6-1.6 4-0.1 4 5.4 13.9 0.2 4-1 4-3.7 4.8-11.7 7.2-2.4 2-3.3 4-1.7 5.9-0.3 10-1.5 4-1.1 0.9-2 0.5-2-0.1-4-1.7-2-1.7-2-2.9-1.1-5 2.4-13.9 0.2-20 5.8-57.8 0-12-1.2-6-2.3-6-3.6-5.9-6.2-8.3-2-4.8-1.3-14.9-3.9-13.9-0.6-4 1.7-12 0-4-1-4-2.7-6-0.3-2 0.5-1.9 1.6-2 8-5.9 4-4 2.9-4.1 1.9-4 2.6-10 2.2-23.9-0.9-4-1.2-2-1.9-2-3.2-2-5.8-2-4.6-0.9-12-0.2-6 0.9-6 2.2-4 3.2-3.3 4.8-1.6 4-2.3 10-4.5 13.9-9 31.9-2.5 6-7.5 14-11.2 28.4-7.3 23.5-3.8 17.9-7.6 16-9.3 25.7-2.2 8.2-3.1 35.9 0.5 6 2.2 9.9 0.3 6-3.3 20-3.3 7.9-7.1 12.3-5.1 13.7-6.9 10.3-4 4-4 0.8-1.9-0.7-2-1.5-2.3-2.9-5.9-12-5.5-20-1.5-7.9-2.5-22 0.5-13.9-1.2-4-3.6-6 0.5-4 3.2-8 0.4-4-0.6-2-2-2-3.5-1.2-4-0.2-6 2-3.6 3.4-2 4-2.4 8-2.3 4-5.2 6-8.5 7.5-3.9 4.4-5.2 8-8.9 11.1-7 10.9-7.9 9.9-6.4 10-9.6 12-7.1 11.9-2.1 6-1.7 8 1830 0zM670.6 1688.6l8.9-2.3 4.4-1.7 3.6-2.3 3.4-3.7 2.6-4 1.6-4 0.8-6-0.2-5.9-0.9-6-2.1-8-2.8-6-3-4-5.4-4.8-6-3.2-6-1.5-6-0.2-6 1.4-6 3.2-4 3.7-3.8 5.4-2.7 6-1.4 6-0.4 6 0.4 7.9 1.3 6 1.7 4 2.7 4 4.2 3.7 6 3.7 6 2.6 4 0.6 5.1-0.6zM1812.9 1768.4l1.9-2 1.7-4 0.2-4-0.5-2.4-1.6-3.6-2.4-2.3-2-0.9-4-0.2-2.6 1.4-2.6 4-1 4 0.7 6 1.5 3.1 2 1.8 2 0.8 4-0.3 2.7-1.4z"/>
<path fill="#595959" fill-rule="evenodd" d="M1373.5 1247.8l5.2-2.2 4-2.5 8-7.6 10-14.3 3.9-7.4 2.4-5.9 1.8-8 0.3-8-0.9-14-2.8-23.9-104.8 0 1.9 23.9 3.4 18 2.5 8 3.4 7.9 4.4 8 4.6 6.5 6 6.8 5.4 4.7 6.6 4.3 5.9 3 8 2.6 8 1.3 6 0 6.8-1.2zM714.6 1423.3l4.8-3.5 4-4.6 4-6.4 3.5-7.5 2.3-7.9 1.6-10 0.1-16-0.8-5.9-2.3-8-2.6-6-2.7-4-3.9-4-5.2-3.2-4-1.3-6-0.5-6 1.1-6 2.6-5.9 4.8-4 5.2-3.5 7.3-2.3 7.9-1 8 0.2 10 1.5 10 2.3 8 3.5 7.9 5.3 8 5.9 5.9 6 3.2 6 0.6 5.2-1.7zM2032.1 1910l-0.1-188.2-8-2.4-10-2-4-1.5-20-9.8-5.2-3.6-2.9-3.9-3.3-8-7.3-27.9-3.1-8-3.1-4-3-2.2-4-1.6-6-0.9-4 0.2-4 1.1-6 2.9-4 3-2.2 3.5-2.4 9.9-2.8 8-0.8 6-0.1 12-2.5 19.9 0.3 10 2.7 10 9.4 21.9 1.3 6 0 4-1.5 6-5.5 11.9-1.9 6-0.4 6 0.6 8-0.6 4-2.2 4-12.6 11.9-2.5 4-0.2 4 1.8 8-1.4 4-2.5 2.5-5.3 3.5-4.7 2.3-5.9 1.9-8 0.7-10-1.7-8-3.4-11.8-7.8-3.9-2-4.3-1.3-8-1.2-2-0.9-1.5-2.6-3.3-12-2.5-4-4.7-3.6-4-0.9-2 0.3-4 2.1-3.4 4.1-1.2 6 0.6 6.3 2 6 2 3.4 2 1.9 2 0.3 6-1 2.1 1.1-1.4 2-5.3 4-1.1 2-2.4 9.9-3.8 6-4.1 2.7-11.9 0.7-4 1.1-6 2.9-9.3 6.6-10.7 11.2-4 2.7-4 1.1-4-0.1-4-1.6-2-1.5-2-1.9-2.7-3.9-3.8-14-3.5-7.9-4-6.6-4-3.9-6.8-5.5-11.3-16-18-16-9.2-9.9-7.5-10-16.4-25.9-30.2-51.9-4.1-8-6-13.9-9.3-16-4-10-8.6-25.9-6.4-14-6-11.2-4-5.1-11.6-11.6-8.4-11.9-4-4.7-4-3.4-12-7.2-7.5-6.7-18.9-21.9-5.8-8-1.8-4-1.1-4-0.7-12-0.7-4-4.6-11.9-2.4-16-6.4-20.2-3.9-15.7-7.4-15.9-6.1-22-2.6-6.6-2.8-5.4-4.3-5.9-5.6-6-7.3-6.2-8-5.5-8-4.5-5.9-2.5-6-1.5-6-0.5-10 1-18 4.9-18 4.1-8 2.6-8 3.7-9.5 6.4-8.4 8-6 8.6-5 11.3-3 9.9-2.3 10-2 12-1.2 12-0.6 13.9 0.2 12 1.1 10 1.7 8 2.5 7.9 3.3 8 10.2 18 8.9 11.9 20.1 23.6 8.1 12.3 3.6 8 1.4 6 0.4 6-0.7 6-12.7 51.8-3.1 10-5 10-11.5 14-2.7 3.9-1.8 4.1-3 11.9-2.1 6-10.4 21.9-12.4 22.7-13.6 23.2-21.2 29.9-7.2 8.9-8 7.9-8 6.2-6 3.3-5.9 1.9-8 0.6-6-1-6-2.6-6-5.5-5.7-7.7-1.3-4-0.8-8-2.2-3.7-16-10.5-4-1.4-2-0.2-2 0.3-3.4 1.6-3.9 4-3.3 5.9-5.4 12.8-4 6.9-4 5-5.9 4.6-6 1.9-6-0.1-8-3-8-4.8-4-4.5-6-12.6-6.1-8.2-2.1-3.9-3.8-12-9.9-22-15.2-39.9-4-13.9-3.7-25.9-0.5-8 0.4-8 1.4-10 4.4-17.9 3.1-10.5 2-4.9 4-7.4 4-4.4 4-2.1 4-0.5 4 0.2 14 2.9 10 3.3 18.5 7.4 25.4 8.7 6 1.6 8 1.2 10 0 8-1.3 14-4.8 15.4-3.4 6.6-3.5 2.5-2.5 3-4 4-7.9 10.9-28 3.1-11.9 0.1-8-1.9-8-4-8-5.8-7.3-4.8-4.6-5.1-3.8-4.5-2.2-5.5-1.8-10-1.3-22 0.1-10-0.8-10-2.6-16.9-7.6-5.7-2-7.3-1.2-6 0.7-6 3-6 6.5-19.8 32.9-8.5 16-11.7 16-4 4-4 2.3-6 1-6-0.6-13.9-3.5-18-6.5-10-5.4-8.9-7.3-4.9-6-4.9-8-14.4-31.9-5.3-10-5.7-8-8.3-7.9-12.5-8-11-4.8-6-1.5-8-1.2-14-0.4-8 1.3-10 3.7-6 3.7-5.1 5.2-3.4 5.9-4.4 14-3.1 5.8-4 3.6-5.9 3-2 1.9-2 3.7-4.6 15.9-1.9 16 0.1 25.9 1.8 35.9 2.6 13.7 4 9.4 4 5.6 5.9 5.7 18 11 10 6.9 6 2.6 12 2.6 6 2.6 2.2 1.7 3 4 2.4 8 1 8-0.2 8-7.7 35.9-9 29.9-2.9 14-3.8 13.9-2.9 18-2.1 4.3-4 4.1-2 0.9-4 0.8-8-0.4-4-1.2-2-1.3-2-2.3-2.1-4.9-2.6-14-2.5-8-9.9-23.9-11.6-18-3.1-5.9-2-6-3.8-16-4.5-10-7-9.9-6.8-6.8-4-2.6-5.7-2.6-8.3-1.9-6 0.6-4 1.8-4 3.7-3.5 5.8-2 8-0.5 11.9-0.7 6-3.2 14-6.1 15.9-3.1 6-4 6-7.2 8-28.1 25.9-7.8 8-7.7 5.5-8 3.6-4 1-6 0.4-15.9-1.4-6-1.5-6-4.4-6.4-9.2-3.8-4-3.8-2.1-6-1.2-8 0.9-4.7 2.4-2.9 4-4.4 9.9-2 2.3-2.6 1.8-3.4 1-4-0.2-10-3.1-6-3.5-15.6-12.2-6.3-6.4-3.2-5.6-6.8-17.6-8-17.1-4.8-13.1-4.3-6-4.9-3.7-6-2.4-6-1-20-2-6 0.6-4 1.6-4 3-4.4 5.9-1.5 6 0.5 4 2.6 9.9 0 4-1.1 4-2 3.4-2.5 2.6-11.5 8-3.1 4-1.3 3.9 0 6 2.5 16-0.1 2.2-0.9 1.8-1.1 0.8-4-0.1-6-2.1-6-3.1-4.4-3.5-3.2-4-1.6-4-0.4-4 3.7-19.9 0.9-25.9-0.2-22 4.2-23.9 0.5-6-0.2-6-0.7-4-2-6-8.6-15.3-1.6-4.6-1.9-16-5.4-17.9 0.4-14-1.4-4-4.1-6-1.1-4 1.1-3.6 2-2.3 12.6-8 3.4-3.3 3.2-4.7 2.5-6 1.3-6 1.4-13.9 0.1-6-0.9-4-0.9-2-1.7-2-3-2.1-4.6-1.9-5.4-1.2-12-0.5-6 1-4 1.7-4 3.4-3.4 5.6-3.4 14-3.7 11.9-7.6 31.9-2.5 6-9.3 16.4-10.1 25.5-6.7 22-4.3 19.9-7.6 16-9.3 25.2-2.4 8.7-3.6 35.9 3 19.9-3.8 22-2.3 6-8.9 15.5-4.6 12.4-6.5 10-2.9 3.6-2 1.5-4 0.7-1.9-0.7-2-1.4-2-2.5-6.8-13.2-5.1-18-1.7-7.9-3-24 0.1-13.9-1.5-4-3-4-0.7-2 0.2-2 4.1-10 0.2-4-0.9-2-2.6-2-3.3-0.7-4 0.3-4 1.7-3 2.7-2 4-2.3 8-2.3 4-5.1 6-11.3 10.2-6.5 9.7-9.5 11.8-6.5 10.2-7.9 9.9-6.4 10-11 14-4.1 6.7-2.4 5.2-1.8 6-1.1 6 1829.4 0zM673.6 1686.6l6.7-2 4-2 4.5-4 2.8-4 1.7-4 0.9-6-0.1-5.9-0.9-6-1.5-6-2.6-6-2.8-4-4.2-4-4.6-3-6-2.1-6-0.6-4 0.4-6 2.2-4 2.7-4 4.2-2.7 4.2-2.5 6-1.2 6-0.1 8 0.7 5.9 1.9 6 2.4 4 3.5 3.6 4 2.9 6 3.2 4 1.2 4 0.2 6.1-1.1zM1811.2 1768.4l2.5-2 1.2-2 1-4-0.4-4-1.3-2.9-2-2.3-2-1.1-4-0.2-2 1-2.6 3.5-1 4 0.2 4 1.4 3.7 2 2.1 4 1.1 3-0.9z"/>
<path fill="#545454" fill-rule="evenodd" d="M1368.1 1241.8l4.6-1.1 6-2.7 8-6.1 5.4-6.1 4.4-6 3.5-6 2.8-5.9 2.8-10 0.7-10-0.7-14-2.4-19.9-98 0 1.5 21.9 2.9 16 2.4 8 2.8 7 3.6 6.9 3.9 6 4.5 5.5 4.6 4.5 5.4 4.2 5.9 3.4 6 2.5 6 1.6 6 0.7 7.4-0.4zM714.2 1419.3l5.2-3.8 3.6-4.2 3.8-6 2.7-5.9 2.2-8 1.2-8 0.5-8-0.3-8-0.9-5.9-1.7-6-2.5-6-2.6-4-4-4-4-2.6-4-1.5-6-0.6-6 1.2-6 2.9-3.9 3.3-4.3 5.3-3 6-2.4 7.9-1 8 0.2 10 1.5 10 2.5 8 4 7.9 4.4 6.1 4 3.7 6 3.2 6 0.5 4.8-1.5zM2032.1 1910l-0.1-181.7-8-4.7-12-4.5-14-7.1-13.9-4.8-3.7-2.7-2.3-4.1-3.9-11.8-4.6-24-2.5-7.9-2.6-4-2.4-2.3-4-2-6-1.2-4 0-4 1-6 3-4 3.5-1.9 4-1.7 7.9-3.1 10-0.2 18-1.8 17.9 0.3 8 2.5 10 10.3 23.9 1.5 6 0 4-1.6 6-5.7 11.9-2 6-0.6 6 0.4 10-1.2 4-3.2 4-11.1 9.9-2.4 4-0.1 4 1.9 8-1.3 4-4.2 4-10.8 5.7-5.9 2-8 0.7-8-1.1-8-2.6-6-3.3-8-5.6-6-2.8-6-0.9-6 0.5-2 0.6-2 1.6-2.7 3.2-7.3 6.2-2 3.2-2.3 6.5-2.1 4-3.1 4-2.5 2-4 0.9-5.9-0.9-4 0.1-4 1-6 2.7-8.8 6.2-11.2 11.7-4 2.6-4 1-4-0.1-4-1.6-2.4-1.7-2.1-1.9-2.6-4-3.7-14-3.2-7.1-4-6.8-4-3.9-6.6-4.1-7.2-6-2.2-3.2-3-6.8-1.6-2-17.6-16-9.4-9.9-7.6-10-14-21.9-18.2-32-14.8-23.9-3.1-6-5.7-13.9-9.9-16-4-10-5.5-19.9-2.8-8-6.6-14.2-5.8-9.7-4.2-4.5-13.9-9.5-12.4-16-4.3-3.9-9.4-7-6-5.5-22-25.4-7-10-2.9-8-1.9-14-4.8-13.9-0.9-18-4.9-17.9-2.9-14-1.4-4-7-13.9-5.4-20-4.8-10.3-4-5.6-6-6.3-6-4.9-6-4-8-4.3-5.9-2.3-6-1.4-6-0.6-12 1.3-26 6.8-11.5 3.7-8.5 4-8.6 6-8 7.9-6.6 10-4.7 10.9-3.5 11.1-2.3 9.9-1.6 10-0.9 10 0 9.9 0.8 8 1.9 10 2.4 8 7.1 15.9 11 18 9 11.6 19.6 22.3 10.2 14 6.7 11.9 1.5 4 0.4 4-1.3 4-9.1 14.9-5.2 11-4.8 13-7.2 22.9-4.1 10-4.9 8-11.8 13.4-2.9 4.5-1.7 4-4.9 16-7.3 15.9-15.2 28-12.7 21.9-21.2 30.3-8 10.3-12 11.7-6 4.3-6 3.1-5.9 1.9-8 0.6-6-1-6-2.7-6-5.3-6.7-9.3-1.2-4-0.4-6-1.7-4.3-2-1.9-12-7.7-6-2.6-4 0.1-2 0.8-4 3.3-2.8 4.3-6.7 16-4.5 7.8-4 4.9-5.9 4.3-6 1.9-4 0.1-4-0.8-5.5-2.2-6.5-3.6-5.5-4.4-2.6-4-4.6-10-7.5-10-2.1-3.9-4.2-12-9.9-22-7.8-21.9-8.2-19.9-2.4-8-2-16-3.1-13.9-0.5-10 1.6-14 9.3-41.9 0.5-6-1.5-5.9-3.4-4-4.1-2.7-7.9-3.7-32-12.3-9.1-5.3-7.2-6-6.5-7.9-5.2-9.4-4.7-10.6-8.5-21.9-3.8-8-5.5-8-7.5-7.1-9.9-6.8-10-4.7-12-2.7-14-0.7-10 1.8-8 3.2-6 4.1-4.4 4.9-3.2 6-6.4 16.8-4 5.5-7.6 7.6-3.4 6-3.8 12-1.9 16 0 21.9 1.7 33.9 1.2 8 1.5 6 4.4 9.4 3.9 5.2 6 5.4 24 14.6 8 3.6 14 4.1 6 3.1 4.3 4.4 1.9 4 1 4 1.6 14-1.4 10-5.5 17.9-5 22-7.8 25.9-6.1 25.9-3 17.7-2 5-2 3-4 3.3-6 1.2-10-0.5-4-1.3-2.7-2.5-1.3-1.9-2-5.1-2.7-14.9-1.6-6-7.5-19.9-4.1-8.7-10.4-15.3-3.1-5.9-2-6-3.7-16-4.3-10-6.5-9.9-6-6.4-8-5-6-2.1-4-0.7-4.1 0.2-5.1 2-4.3 4-2.5 4-2 6.5-0.9 17.4-3.1 16-2.5 7.9-3.2 8-3 6-3.8 6-7.2 8-17.8 15.9-20.4 19.9-8 5.3-8 3.9-4 1.1-6 0.5-15.9-0.9-6-1.3-4-2.2-4-3.6-8.4-12.7-3.6-2.6-6-1.5-4 0.1-4 1-4 2.4-2 2.8-4 10-2.7 3.8-3.3 2.5-4 1-4-0.4-6-1.8-6-2.7-6-4.1-15.9-12.5-6-6.6-2.9-5.4-5.2-13.9-8.8-20-4.1-11.9-3.6-6-4.5-4-4.9-2.4-6-1.3-8-0.4-10-0.1-6 0.5-4.8 1.7-4.9 4-2.5 4-1.2 4-0.1 4 1.3 11.9-1.4 6-4 6-10.7 8-3.2 4-1.2 3.9 0.3 6 1.7 6 6.1 16 0.6 4-1.1 4-2.8 2.1-4-0.2-4.5-1.9-9.5-5.9-8-5.3-5.6-4.8-3.2-4-2.4-6 0.1-6 4.4-17.9 0.7-10-0.3-14-2.8-19.9-0.1-6 1.2-6 4.6-15.9 0.7-6-0.1-6-2.3-10-7.6-17.9-2.7-18-6.6-17.9-2-13.9-5.8-8.1-1.4-4 0.6-3.9 2.5-4 4.1-3.3 12-6.8 4-3.7 3-4.2 2.5-6 1.4-6 0.8-7.9 0-8-1.8-6-1.9-2.5-4-2.7-9.3-2.8-10.7-0.4-4 0.7-4 1.8-4 3.5-2.6 4.4-7 27.9-3.6 24-1.9 7.9-1.9 4-6.9 9.9-4 6.9-8 18.8-8 25.6-4.7 22.6-7.8 16-10.5 27.9-2.4 10-3.2 29.9 0.2 6 2.4 11.9 0.2 4-4.3 22-2.2 6-9.2 15.9-4.5 12-6.5 10-3 3.9-2.5 1.9-4 0.6-1.9-0.6-2-1.3-2.2-2.6-6.4-11.9-5.9-20-1.7-7.9-3.4-24-0.2-13.9-1.9-4-3.1-4-0.5-2 0.3-2 3.9-8 0.9-4-0.3-2-1.1-2-2.4-1.4-2-0.6-4 0.2-4 1.7-2.3 2.1-2.1 4-2.1 8-2.2 4-5.3 6-12 11-7.3 10.9-8.3 10-6.4 10-8 9.9-6.2 10-9.8 12-5 7.9-2.8 6-1.8 6-1.1 6 1828.9 0zM1202.2 1648.7l12.7-4.4 12-2.7 4-1.5 4.9-3.4 4.4-6 3.3-7.9 3.6-12 3-12 1.2-8 0.4-5.9-0.5-6-1.5-6-2.7-6-4.3-6-5.8-5.4-6-3.7-6-2.2-12-2-24-0.8-10-1.2-10-3-12-6.2-5.9-2.4-6-0.6-4 1.4-4 3.7-2.8 4.5-8.3 17.9-12.1 24-3.9 5.9-6.4 8-2.3 4-1.5 6 0.8 4 2.5 3.2 4 2.7 16 7.2 19.2 10.8 26.7 10.3 8 2.2 8 1 10-0.1 7.3-1.4zM676.2 1684.6l5.3-2 3.1-2 3.9-4 2.4-4 1.6-6 0.3-5.9-0.6-6-1.5-6-2.3-6-2.6-4-4.3-4.3-4-2.6-4-1.7-4-0.9-6-0.1-4 0.9-4 1.9-4 3-4 4.8-2.6 5-1.7 6-0.7 6 0.2 6 1.2 5.9 1.6 4 2.6 4 4.4 4 5 3.1 4 1.8 4 0.8 4-0.2 6.7-1.5zM1812.4 1766.4l2.3-4 0.3-4-0.8-3-1.9-3-2.1-1.3-2-0.5-2 0.2-2.5 1.6-2.1 4-0.4 4 0.9 4 2.1 2.7 2 1 2 0.2 2-0.5 2.2-1.4zM1823.8 1838.2l6.4-1.7 1.8-2.3 0.6-4-0.7-6-2.5-6-3.2-3.5-4-1.9-4 0.1-4 2.1-2.6 3.2-1.4 6 0.7 6 1.3 4.1 2 3.1 2 1.5 2 0.4 5.6-1.1z"/>
<path fill="#4f4f4f" fill-rule="evenodd" d="M1366.4 1235.8l4.3-0.9 6-2.4 8-5.6 8.1-9.1 3.8-6 2.9-5.9 3.1-10 1.2-12-0.4-11.9-2.4-18-91.3 0 1.1 19.9 2.8 16 4.8 14 6.4 11 8 9.1 6 4.8 5.2 3 4.7 2 6 1.7 6 0.6 5.7-0.3zM707.5 1417.3l3.9-0.5 4-1.8 4-3.3 5-6.4 3-5.9 1.9-6 1.6-8 0.7-8-0.1-8-1.1-7.9-1.8-6-2.9-6-3-4-3.3-2.9-4-2.2-6-1.3-6 0.6-4.7 1.8-5.3 3.7-3.8 4.3-2.4 4-2.4 6-1.5 5.9-0.7 8 0.3 8 1.1 8 2.4 8 3.1 6.3 3.9 5.8 4 3.9 4 2.5 6.1 1.4zM2032.1 1910l-0.1-163.4-0.7-4.2-4.4-9.9-3.6-4-2.6-2-22.7-12.2-6-1.8-12.1-2-3.8-2-1.5-4-3.6-15.9-2.7-20-2.4-9.9-2-4-3.8-3.7-4-1.9-4-0.9-4 0-4 1-6 3.1-2.8 2.4-2.1 4-1.7 7.9-2.7 8-0.5 6 0.6 14-1.3 17.9 0.5 8 2.8 10 10.4 23.9 1.7 6 0.1 4-1.6 6-6.1 11.9-2.2 6-0.6 6 0.3 10-1.1 4-3.2 4-11.5 9.9-2.3 4 0 4 2.1 8-1.3 4-4.1 4-11.4 6.3-7.9 2.8-8 0.8-8-1-8-2.4-6-3-10-6.7-4-1.9-4-0.7-6 0.8-4 2-10.7 9-7.3 14.1-3 3.8-3 2.3-4 0.5-5.9-1.6-4-0.3-4 0.8-4 1.6-4.9 2.7-5.4 4-4.3 4-7.4 8.2-2.6 1.7-3.4 1.4-6 0.2-4-1.5-3-2.1-2-1.9-2.5-4-2.5-10.3-2-5.6-6-11.3-4-3.9-10.1-4.8-5-4-2.7-4-2.5-6-2.6-4-17.6-16-9.5-9.9-7.7-10-11.6-18-19.1-33.9-16.8-25.9-3-6-5.5-13.9-7.1-10-3.4-6-2.9-8-4-17.9-3-10-5.7-12.6-6-10.1-2-2.5-4-3.3-13.2-5.4-5.8-4-10.3-14-14.7-14-9.9-11.2-17.4-20.6-7-10-2-4-1.2-4-1.5-12-5.5-13.9-0.4-4 1.9-10 0-6-3.7-15.9-2.7-16-1.5-4-7.4-13.9-4.6-18-2.6-6-2.4-4-8-9.2-6-4.9-6-3.9-8-3.8-5.9-1.9-6-1.1-6-0.3-8 0.8-8 1.7-16.7 4.7-11.3 3.9-6 2.9-6 3.8-6 5.2-3.8 4.1-5.6 8-4.2 8-3.9 10-3.6 11.9-2.2 10-1.2 10 0.2 8 1.3 7.9 3.1 10.5 4.9 11.5 7 12.7 8.8 13.2 11.2 13.2 36 36.1 6 5.1 4 1.6 4-0.2 11.6-3.9 6.3-1.2 6 0 6 1.8 4 2.4 3.5 2.9 6.6 8 3.8 8 0.8 4-0.5 4-2.2 3.6-2 1.8-4 2.2-4 1.1-10 0.6-23.9-3.1-12-0.3-4 0.7-4 1.4-4 2.4-4 3.6-4.7 5.9-5.3 9.4-12.1 30.5-4.9 10-5.6 8-11.4 12.3-3.7 5.6-6.2 18-7.2 15.9-29.2 51.9-21.6 30.6-8 10.1-12 11.4-6 4.2-6 3-5.9 1.8-8 0.5-8-1.6-6-3.3-4-3.9-7.7-10.9-1.1-4-0.4-6-1.8-4-2.1-2-10.9-6.9-6-2.5-4 0.2-2 0.8-4 3.6-2.8 4.8-5.6 14-4.3 8-5.3 6.6-5.9 4.1-6 1.8-4 0.1-4-0.8-12-5.8-6-4.5-2.6-3.5-5.7-12-7.9-10-2.1-3.9-3.9-10-10-22-7.8-22.6-9-21.2-2.5-8-1.6-14-3.8-12-1-9.9 1.6-16 5.3-21.9 1.9-12 0.1-10-0.8-4-1.8-4-4.4-5-5.9-3.9-8-3.8-22-8.3-8-3.6-8.6-5.3-6.5-6-5.9-7.9-7-13.7-4.2-10.3-6.7-19.9-2.6-6-4.5-6.9-7-7.1-8.9-6.5-10-4.7-10-2.3-12-0.7-8 1.1-8.7 3.2-6 4-5.2 5.9-3.2 6-6.9 16.9-10 13.4-3.9 7.4-3.2 10.2-1.8 14-0.1 17.9 1.8 35.9 2.4 12 2.5 6 2.3 3.9 4 4.9 6 5.1 18 10.7 10 4.8 20 6.5 6 3.3 4.7 4.6 2.1 4 1 4 0.7 12-1.6 10-9.1 23.9-5 21.9-7.5 24-6.1 25.9-3.6 20-1.6 4.4-1.9 3.5-4.1 4.1-6 1.7-12-0.4-4-0.7-4.1-2.7-1.9-2.8-1.2-3.1-4.3-22-7.5-21.9-4.9-9.9-10-14.1-3.3-6-1.9-5.9-2.8-14.1-2.9-7.9-2.8-6-6.6-9.9-6.2-6-5.5-3.4-4-1.7-4-1.1-4-0.2-4 0.7-4 2.3-3 3.4-2.2 4-1.6 6-0.9 17.9-2.4 14-5.3 15.9-2.8 6-3.6 6-7 8-18.4 15.9-20.1 20-8.6 5.9-10 5.2-4 1.3-6 0.5-17.9-0.7-6-1.7-4-2.7-4-3.9-2.8-3.9-4.2-8-1.8-2-3.2-2-4-0.9-6 0.6-4.5 2.3-2.6 4-2.8 8-2.1 3.8-2 2.5-4 3-4 0.7-4-0.6-6-2-6-2.9-6-4-17.9-14.4-5.6-6.1-3.1-6-5.1-13.9-8.2-19.5-4-12.4-2.3-4-3.7-4-4-2.5-6-1.8-6-0.3-10.4 0.6-7.6 1.3-5.4 2.7-3.8 4-2.4 6-0.1 13.9-1.4 6-2.3 4-2.6 3.1-10.8 8.9-1.4 2-1.2 3.9 0.2 4 1.1 4 8.7 20 0.7 6-1 3.9-1.2 2-2.2 2-4.8 1.5-6-1.1-4.6-2.4-15.4-10.9-8.2-7-4.7-6-2.1-6 0.5-6 5.2-17.9 0.9-12-1.4-13.9-6-20-0.5-6 1-4 5.3-10.6 2-5.7 1.3-7.6-0.4-8-1.9-8-5-14.8-2.3-15.1-2.4-8-10.5-21.9-2.8-3.4-7.7-6.6-1.2-2-0.7-4 1.7-4 5.2-5.9 5.3-4 15.1-8 2.5-2 3.5-4 2.3-4 2-6 1.1-5.9 0.3-8-1.4-6.9-1.8-3.1-2.2-2.1-3.1-1.9-5.2-2-5.7-1.1-6-0.2-5.8 1.3-3.4 2-2.8 2.9-2.5 5.1-5 21.9-1.2 8-0.2 12 1.8 11.9 0 4-2.1 4-1.7 2-9 8-4 4.8-6 11.1-5.6 14-6.3 22-2.3 15.9-1.5 6-1.7 4-6.7 12-10.1 25.9-2.5 8-1.3 7.1-3.1 26.8 0.2 6 2.2 9.9 0.3 6-5.4 24-2.7 5.9-7.5 12.2-5.4 13.8-7.8 11.9-2.8 3.3-2 1.3-4 0.6-1.9-0.5-2-1.2-2-2.2-7.2-13.2-5.5-18-1.9-8-4.1-25.9-0.5-13.9-0.9-2-4.5-6-0.3-2 0.5-2 4.3-8 0.7-4-0.4-2-2.2-2.4-2-0.7-4 0-3 1.1-3 2.7-1.8 3.3-1.9 8-2.2 4-7.1 8-11 9.8-6.7 10.1-8.3 10-6.3 10-8.1 9.9-7.6 12-8.9 10.7-4.6 7.2-2.8 6-1.8 6-1 6 1828.3 0zM1202.7 1646.7l12.2-4.2 14-4 5.1-3.8 3.8-6 2.1-5.9 2.3-10 1.7-10 0.7-8-0.1-7.9-0.9-6-1.8-6-2-4-4.5-6-4.4-3.7-6-3.3-8-2.5-16-1.7-30-0.1-16-2.7-3.9-0.1-2 0.5-4 3.3-4 6.8-12.2 27.4-9.7 16-0.2 2 0.5 2 3.1 4 15.2 15.9 5.1 4 7.4 4 19.1 8 7.6 2.2 14 1.4 6-0.4 5.8-1.2zM670.9 1684.6l6.6-1.7 4-1.8 3.3-2.5 2.7-3 2.6-5 1-4 0-9.9-1.2-6-2.2-6-2.4-4-3.7-4-4.1-2.9-4-1.8-4-1-6 0-4 1.1-4.9 2.6-4.2 4-2.7 4-1.7 4-1.5 6-0.4 6 0.5 5.9 1 4 1.7 4 2.9 4 3.3 3 8 4.4 4 0.9 5.4-0.3zM1512.6 1776l-2 0.1-2-1.4-2-3.9-1.4-8.4-0.3-10 0.3-8 1.4-6.8 2-3.8 2-1.7 2-0.3 2 0.9 2.6 3.8 1.4 4.1 0.5 7.8-0.5 10.9-1.5 9.1-2.5 6-2 1.6zM1810.8 1766.4l2.1-2 0.9-2 0.4-2-0.5-4-1.5-2.7-2-1.6-2-0.6-2 0.3-2 1.2-1.9 3.4-0.1 6 2 3.5 2 1.2 2 0.2 2.6-0.9zM1824.9 1836.2l3.3-1.4 2.3-2.6 0.9-4-0.9-6-2-4-2.3-2.4-4-2.1-4 0-4 2.3-2.7 4.2-0.6 4 0.7 6 2.6 5.3 2 1.5 4 0.4 4.7-1.2z"/>
<path fill="#4a4a4a" fill-rule="evenodd" d="M1368.1 1229.8l8.6-3.2 8-5.9 7.5-8.9 5.2-9.9 3.1-10 1.1-10-0.4-11.9-2.4-16-84.7 0 0.8 18 2.6 15.9 4 12 3 6 3.8 5.9 4.5 5.4 4 3.7 3.9 3 6 3.3 4 1.6 6 1.4 6 0.3 5.4-0.7zM711.8 1413.3l3.6-1.7 4-3.3 4-5.3 2.8-5.6 1.8-6 1.5-8 0.3-14-0.8-6-1.5-5.9-4.1-8.1-4-4.2-4-2.5-4-1.2-4-0.3-6 1.4-4 2.1-4 3.3-3.9 5.4-2.8 6.1-1.5 5.9-0.7 6 0.1 8 0.9 8 1.6 6 2.4 6 3.9 6.3 4 4.2 4 2.6 6 1.5 4.4-0.7zM2032.1 1910l-0.1-138.6-2-0.7-2.5-2.3-1.5-2-1.6-4-0.4-4 0.6-14-1-5.9-2.9-6-3.7-4-11.5-8-5.5-3.1-4-1.5-6-1.1-15.9-0.1-2-0.9-1.3-1.3-0.8-2-0.1-9.9-1.9-12-1.2-16-2-11.9-1.6-4-3.3-4-3.8-2.3-6-1.3-4 0.4-4 1.5-4 2.4-3 3.3-5.2 17.9-0.5 4 1.2 16-0.6 17.9 0.7 8 3.1 10 11.1 25.9 1.3 6-0.2 4-1.3 4-6.5 11.9-2.4 6-0.8 6 0.3 10-1 4-2.9 4-12.1 9.9-2.2 4 0.1 4 2 8-1.1 4-1.7 2-6.3 4.5-12 6.2-7.9 2.3-6 0.4-8-0.8-8-2.2-6-2.8-10-6.6-4-1.9-4-0.8-4 0.5-6 2.9-8.3 6.3-2.9 3.9-6.8 13-2.3 3-3.7 2.7-4 0.2-5.9-2.3-4-0.8-4 0.6-4 1.4-6 3.4-6 4.8-10 10.7-6 3-4 0.4-4-0.7-5.6-3.5-2.4-2.6-2-3.3-3.6-14-6.4-12.5-4-4-4-1.9-6.6-1.5-5.4-4.2-2.8-3.8-3.6-8-2.8-4-17.8-16-9.6-9.9-7.7-10-10.4-16-20.1-35.9-17.8-25.9-2.8-6-4.4-12-7.7-9.9-3.6-6-2.5-8-3.3-19.9-2.1-8-4.8-11.1-6-10.2-4-4.6-4-2.6-18-5-4-2.2-2.5-2.2-9.5-12.8-12-13.5-39.6-47.5-1.1-2-0.8-4 0-10-4.8-11.9-0.9-4 0-4 3.5-10 0.8-6-4.2-29.9-2.3-6-4.8-8-2.8-5.9-4-16-2.9-6.5-4-5.5-4-4.1-6-4.9-6-3.7-6-2.7-6-1.9-5.9-1-6-0.3-8 0.7-9.1 2-13.1 4-9.8 3.7-4.7 2.2-5.3 3.5-5.2 4.5-3.6 4-5.2 7.3-4.6 8.7-4.2 9.9-3.9 12-1.9 8-1.1 8 0.2 6 1.7 7.9 5.7 14 7.9 14 10.2 14.4 8 8.8 15.5 12.7 12.1 11.9 6.4 4.1 6 2.2 8 2 19.9 1.8 6 1.1 6 2.1 6 3.7 9.5 9 16.2 17.9 4.7 6 2.4 6 0.2 4-1 4.6-2.7 5.3-5.3 5.7-6 3.2-6 1.4-6 0-8-1-31.9-8.8-10-1.5-6 0.4-4 1-6 2.9-4 3.1-5.1 5.6-4.9 7.6-13.2 28.3-5.7 10-6.1 8-11 11.1-4 5.5-2 4.3-5.1 15-6.4 13.9-30.4 53.9-22.7 31.9-7.3 9-6 6-6 5.1-6 4-6 3-5.9 1.7-8 0.5-8-1.7-6-3.3-4-3.7-8-11.3-1.3-3.3-0.8-8-2.1-4-11.8-7.8-6-2.5-4 0.2-2 1-3.4 3.1-2.6 4.2-6 15.2-4.5 8.6-5.5 6.5-5.9 4-6 1.7-4 0-4-0.8-6-2.5-8-4.4-5.6-4.5-2.4-3.7-6-12.2-6.8-8.1-2.7-4-12.9-27.9-10.3-29.9-10.8-23.9-1.7-6-0.9-8-1.1-4-4.4-8-0.4-9.9 1.6-16 1.6-8 4.4-15.9 1.7-10-0.3-10-1-4-1.8-4-4.1-5.1-7-4.8-11-5-26-9.6-6.2-3.4-5.8-4.4-4-4.1-4.1-5.5-8.8-15.9-6-14-6.5-21.9-2.6-5.1-3.5-4.9-8.5-8-9.9-6.1-10-3.1-12-1.1-8 1-6 2-6 3.2-4.5 4.1-5.5 8.6-7 17.4-10.5 15.9-3.8 8-3.1 12-0.9 13.9 1.4 37.9 1.7 14 2.5 8 3.4 6 4.3 5.1 5.9 4.8 12.1 7.2 12 5.7 26 7.7 10 4.3 7.2 5.1 6.8 5.9 3.3 4 1.4 4-0.2 2-1.1 2-9.4 7.4-4 4.9-8 14-5.5 11.6-2.5 8-3.8 17.9-8.4 26-5 21.9-4.1 22-1.7 3.9-2.6 4-4.4 3.4-6 1.4-14-0.2-4-1-2.7-1.6-1.9-2-2.8-6-3.2-19.9-7.7-23.9-4.9-10-10.4-14-3.5-6-2-5.9-2.9-16-5.8-14-6.1-9.2-6-5.7-8-4.3-4-1.1-4-0.2-4 0.8-4 2.7-2.5 3.1-1.9 4-1.3 5.9-0.6 18-1.9 12-2.7 9.9-2.9 8-2.8 6-3.6 6-7.5 8-19.3 15.9-17.7 18-7.2 5.2-14 8.1-4 1.4-6 0.6-17.9-0.6-6-1.5-5-3.2-5-5.3-2-2.8-5.2-9.9-2.8-2.4-4-1.2-6 0.6-4 2.7-1.5 2.3-4.5 12-4 5.4-4 2.6-4 0.6-4-0.7-12-5.3-6-4.1-18-14.5-6-6-4.4-8-3.5-10.1-6.6-15.8-5.7-17.9-1.8-4-3.2-4-4.7-3.3-4-1.4-6-0.6-10 1.2-7.5 2.1-4.5 2.5-4 4.4-1.9 5.1-0.9 11.9-1.7 6-2.2 4-3.2 4-10 8.9-1.8 3.1-0.4 1.9 0.4 4 1.4 4 8.6 18 1.1 6-0.7 5.9-2 4-1.9 2-4.7 2.6-6 0.5-6-1.6-8.9-5.5-17.1-13.6-6.3-6.3-3.7-6-0.9-4 0.3-4 5.8-15.9 1.7-8 0.4-6-0.6-8-2.5-9.9-3.7-8-4.5-6.8-8.1-9.2-0.8-2 1-2 7.9-5.6 4-3.6 4.6-6.7 1.5-4 1.2-6 0.1-6-0.8-6-3.8-15.9-3.2-18-3.3-8-4.3-7.1-4-5.3-4-3.2-4-1.6-14-2.4-3.9 0.7-2 1-4 3.4-6 9.4-4.7 11.1-6.6 24-0.7 5.9-0.2 12-0.8 4-2 4-6.9 10-2.1 3.9-10 24.4-3 9.6-3.5 21.9-1.1 10 0.3 6 2.5 11.9-0.1 4-3.6 12-2.4 12-2.6 5.9-8.5 13.5-4.8 12.5-9.2 13.9-2 2.2-4 1.7-3.9-0.5-2-1.1-3.6-4.3-7.1-13.9-6.6-24-4.4-25.9-0.6-12-1.5-3.9-4.5-6-0.2-2 0.6-2 4.7-8 0.7-4-0.7-2-2.3-2-4.5-0.3-4 1.8-2.2 2.5-1.4 4-1.1 6-2.1 4-7.3 8-9.4 7.9-2.5 2.8-6 9.2-8.5 10-6.2 10-8.2 9.9-7.5 12-9.5 11.4-4.1 6.5-2.8 6-1.8 6-1 6 1827.8 0zM1202.8 1644.7l24.1-8 4-2.9 3.4-5.1 2-5.9 1.1-6 1.4-10 0.3-8-0.4-8-1-5.9-1.9-6-2.1-4-4.8-5.9-6-4.1-8-3.1-10-1.8-12-0.4-10 0.8-16 3.5-8 3.1-4 2.9-4.2 5-4.5 8-3 7.9-4.1 22 0.4 6 2.6 6 3.1 3.9 5.2 4 22.5 10.6 8 1.9 8 0.8 8-0.2 5.9-1.1zM436.3 1614.8l13.4-5.6 6-3.9 4-4.5 2.2-4 1.4-4 1.2-5.9 0.2-6-0.4-4-1.4-4-2.9-4-2.3-1.8-4.2-2.2-3.8-1.2-8-1-6 1.4-4 2.7-1.8 2.1-2.5 6-4.3 21.9-0.3 6 0.6 6 2.3 5.8 2 1.5 4 0.2 4.6-1.5zM674.2 1682.6l5.3-2 3.2-2 2.8-2.7 2.2-3.3 1.5-4 0.9-5.9-1.1-10-1.5-4.9-2-4.1-2.1-3-3.9-3.7-4-2.4-4-1.4-6-0.6-4 0.7-4 1.7-4 3-2.4 2.7-2.5 4-1.6 4-1.1 6-0.1 6 0.8 5.9 1.4 4 2.4 4 3.1 3.2 4 2.8 4 1.9 4 1 4 0 4.7-0.9zM1512.6 1798.7l-4 0.1-4-2.4-2-2.3-3.2-5.8-2.7-8-1.8-7.9-2.1-18-1.8-39.9 0.4-10 1.8-5.9 2.7-4 4.7-3.3 4-1 6 0.3 4 1.2 4.8 2.8 4.2 4 4.1 5.9 2.7 6 1.7 6 1.1 8-0.1 10-1.1 11.9-2.9 20-2.6 10.9-2.3 7-3.6 7.4-4 4.8-4 2.2zM1811.6 1764.4l1.6-4-0.5-4-2.5-3.1-2-0.8-2 0.3-2 1.4-1.1 2.2-0.5 4 0.5 2 1.1 2.2 2 1.4 2 0.2 2-0.7 1.4-1.1zM1826.1 1834.2l2.5-2 1.6-3.9-0.1-4.1-1.3-4-2.6-3.4-4-2.2-4 0-2 0.9-2.9 2.7-1.6 4 0.2 6 1.4 4 2.9 3.2 2 0.6 4-0.4 3.9-1.4z"/>
<path fill="#454545" fill-rule="evenodd" d="M1370.6 1223.8l8.1-4 7-6 5.9-7.9 4.8-10 2.5-10 0.6-10-0.4-7.9-2.5-14-78.1 0 0.6 18 2.2 13.9 4.1 12 5.6 10 7.8 8.4 4.7 3.5 5.2 2.8 6 1.9 6 0.7 6-0.4 3.9-1zM714 1409.3l3.4-2.3 3.3-3.7 2.7-4.3 2-4.8 2.6-12.8 0.3-8-0.3-6-2.4-9.9-1.8-4-2.8-4-5.6-4.5-4-1.4-4-0.2-6 1.4-4 2.4-4 3.8-2.9 4.5-2.5 6-1.3 5.9-0.4 6 0.2 8 1.4 8 2 6 3.1 5.9 3.2 4 5.2 4.1 4 1.4 4 0.1 4.6-1.6zM2032.1 1910l-0.1-131.7-4-1.9-4-3.4-2.1-2.6-1.9-4-1-6 0.8-14-0.6-6-2.3-5.9-5-6-7.9-6.2-4-2.4-4-1.6-8-1.1-15.9 0.8-3.6-1.5-1.5-2-1-4 0.3-9.9-1.4-28-1.8-11.9-1.7-4-3.3-3.7-4-2-4-0.8-4 0.3-4 1.5-4 2.6-1.9 2.1-1.6 4-3.1 11.9-0.9 6 1.7 16 0.5 19.9 0.9 6 4 12 10 23.9 1.4 6 0 4-2 6-6 9.9-2.7 6-1 6 0.2 10-1.5 5.4-4 4.4-10 7.7-2.6 4.4 0 4 2.1 8-1.1 4-1.6 2-6.8 4.9-14 7.3-7.9 2.4-6 0.5-8-0.8-8-2-6-2.5-14-8.3-4-0.8-4 0.5-8 3.9-5.9 4.8-10.1 17.9-4 4.3-2 0.9-4 0.1-7.9-3.9-2-0.5-4 0.3-6 2.2-4.5 2.7-7 6-8.5 9.3-4 2.2-4 1-4-0.2-4-1.3-4-2.9-2-2.1-2.5-4-3.5-13.9-6-11.9-2-2.4-4-2.6-8-0.9-4-2-5.5-6.2-5.1-10-3-4-20.2-17.9-9.3-10-7.4-10-9-14-20.4-37-17.5-22.8-3.2-6-4.6-12-8.3-9.9-3.2-6-1.9-8-1.5-17.9-1.9-10-5-12-6.8-10.7-4-3.7-4-1.9-21.6-3.6-5.6-2-6.6-4-4.4-4-5.1-6-12.6-20-6-8.3-8-9.9-10-9.7-12-7.4-2.6-2.5-2-4-0.6-4 1.9-16-1.7-15.9 0.9-6 4-10 0.9-6-2-23.9-1.2-6-8.9-15.9-5.9-20-4.8-6.8-8-6.8-8-4.5-8-2.7-9.9-1.2-6 0.2-8 1.4-16 5-12 5.8-5.1 3.6-4.9 4.7-4.2 5.3-4.8 8-3.8 8-3.6 9.9-2.3 8-1.4 8-0.1 6 0.8 6 2.6 7.9 4.8 10 6 10 6 8 6 6.4 7 5.5 7 3.9 14.1 6.1 2.7 2 2.2 4 1.2 6 2.9 4 3.9 1.9 7 1.5 33.9 3.1 4 1.1 4 1.9 4 3.5 14.9 18.9 18.6 17.9 3.3 4 2.3 4 1.4 4 0.6 4-0.2 6-1.3 5.9-5.2 14-9.9 18-1.3 4 0 1.9 2.2 4 2.4 2 3.2 2 17 7.8 3.9 2.8 6 5.6 6.4 7.8 5.3 7.9 3.3 8 0.7 6-0.8 8-9.8 43.9-5.1 17.9-4 9-3.9 6.1-4 4.2-6 3.8-4 0.7-4-1.1-3.7-2.7-2.3-2.8-3.1-5.2-2.5-6-4.5-16-2.8-15.9-7-57.9 0.2-13.9 3.2-18-0.5-4-1-2-3.9-3.9-11.1-8-12.7-8-10.7-6-8.6-4-6.9-2.4-6-1.4-6-0.2-6 1.3-4 1.8-4 2.7-4.4 4.2-5.8 8-12.9 23.9-7.6 12-6.8 8-10.5 10-3.3 3.9-2.7 4.7-5.5 15.3-6.3 13.9-29.2 51.9-28.3 39.9-7.3 8-7.3 6.5-10 6.4-6 2.6-3.9 1-4 0.4-6-0.3-8-2.3-4-2.4-4-3.6-8-11.2-2.2-5.1-0.9-8-0.8-2-1.6-2-12.5-7.8-4-1.4-2-0.1-4 1.4-4 4.3-10 23.6-4 6.4-4 4.1-5.9 3.8-6 1.6-6-0.3-8-3.1-10-5.5-4-3.2-2.8-3.8-5.8-12-8.4-10-2.7-4-13.6-27.9-8.2-25.9-4.5-10.3-12.1-23.6-1.8-2.5-8-5.4-1.4-2.1-0.6-2 0.2-4 4.3-11.9 4.5-24 4.9-15.6 1.5-6.3 0.5-10-1.2-6-1.7-4-5-6.3-8-5.2-12-5.1-24-7.7-6-3.2-5.6-4.4-4.4-4.6-4-5.4-14.7-25.9-3.9-10-4.5-17.9-2.8-5.9-3-4.1-7-6.9-8-5.2-10-3.2-10-0.7-6 0.9-6 2-5.5 3.1-4.5 4.4-4.7 7.6-7.3 18-10.1 15.9-3.9 8.2-2.5 9.8-0.9 11.9 2 41.9 1.4 10 2.9 8 3.8 6 6.2 5.9 9.1 5.9 10 4.8 8 3.1 10 2.7 24 5 6 2.4 4 2.4 6.9 5.7 5.6 5.9 3.2 6 0.7 6-1.2 4-3.3 4.5-13.9 9.3-6 5.9-6 8.2-4.5 8-3 8-4.3 19.9-8.7 26-5.5 23.9-3.6 19.9-2.9 6-1.5 2-4 3.3-4 1.7-4 0.7-14-0.1-6-1.6-4.6-4-2.9-6-2.9-19.9-7.1-23.9-4.9-10-12.5-16-3.3-6-1.6-5.9-1.9-14-2.7-8-3.5-8-5.1-7.9-4.9-4.9-6-3.7-4-1.5-4-0.6-4 0.3-4 1.9-2.4 2.5-2.4 4-1.5 5.9-0.7 22-1.6 10-5.5 17.9-2.6 6-3.6 6-5.7 6-19.9 15.4-15.9 16.5-4.5 4-17.6 11.3-6 3.1-4 1.1-4 0.3-17.9-0.7-6-1.4-4-2.2-6-5.6-4-5.6-3.8-8.3-1.7-2-2.5-1.7-4-0.7-4 0.9-2.2 1.5-1.8 2.5-3.2 9.5-1.9 4-2.9 4.3-4 3.6-4 1.2-4-0.2-6-2-8-4.2-6-4-10-8.7-10.4-8-5.8-6-3.3-6-4.4-12.4-4.9-11.5-7.3-23.9-2.6-4-3.2-2.9-4-2-6-1.1-6 0.6-6 1.6-6 2.7-4 3.1-2 2.6-1.6 3.4-2.5 13.9-2.5 6-4.3 6-8.2 8-2.8 4-0.4 3.9 1.1 4 7.2 14.1 2.8 7.9 0.2 8-2 5.9-3 3.9-1.9 1.6-6 2.4-6 0.4-8-2.2-9.7-6.1-16.8-13.9-8.2-8-3.9-6-0.6-2 0.1-4 7.7-17.9 2.2-10 0.1-6-0.7-6-1.8-6-2.4-5.1-4-5.7-4-3.8-6-3.7-13.8-5.6-3-2-3.1-4-0.5-2 0.5-4 1.2-2 2.7-1.9 20-3.4 4-1.8 3.8-2.8 3-4 1.7-4 1-4 0.5-6-0.6-8-3.9-23.9-2.4-8-3.1-6-4-5.5-6-5.2-6-2.1-12-1.4-3.9 0.6-4 2.2-3.3 3.5-2.7 4.2-2.7 5.7-2.8 8-3.8 14-1.3 8 0.6 7.4 2 4.3 3 2.2 9 3.7 2.8 2.3 1.5 2 1.6 4-0.2 4-1.7 2.4-4 1.2-6-0.5-8-2.5-4 0.3-2 1.1-4 3.7-4 6.7-10 21.7-2.1 5.8-2.1 8-2.8 15.9-0.9 10 0.4 6 2.4 9.9 0.2 4-0.9 4-4.2 11.3-2.5 12.7-2 3.9-9 14-5.7 14-8.8 13-2 1.9-4 1.7-3.9-0.5-2-1-2-1.9-2-2.9-7.4-14.3-6.2-22-5.3-27.9-0.9-12-0.6-1.9-5.6-8-0.2-2 0.6-2 5.3-8 0.6-4-1-2-1.3-0.9-4-0.6-3.5 1.5-2.5 3.3-1.6 8.7-1.9 4-8.5 8.9-10.5 9-6.8 10-8.7 10-7.6 11.9-6.7 8-7.4 12-10 12-4.2 6.9-2.3 5-1.8 6-0.9 6 1827.1 0zM437.9 1610.8l9.8-3.4 7.1-4.6 4.4-6 2.6-8 0.4-7.9-0.7-4-1.7-4-2.1-2.7-4-3-4-1.9-4-1-4-0.4-4 0.5-4 1.9-2.6 2.6-1.4 2-1.4 4-3.2 17.9-0.6 6 0.3 4 0.9 3.7 1.4 2.3 2.6 2.2 2 0.5 6.2-0.7zM1202.3 1642.7l22.2-8 2.9-2 3.1-4 2.5-7.9 1.5-14-0.6-12-2.4-9.9-3-6-5.4-6-6.2-3.9-6-2.1-10-1.7-10 0-8 1.2-10 3.1-6.9 3.4-5 4-3.4 4-3.5 6-3.5 9.9-2.7 14-0.4 6 1.1 6 2.4 3.9 4.5 4 10.1 6 8.5 4 6.8 1.9 8 1.1 8 0 5.4-1zM676.3 1680.6l3.2-1.5 3.4-2.5 2.6-3 2-3.9 1.1-5.1 0.2-3.9-0.3-4-1.4-6-3.6-7.4-2.2-2.6-3.8-3.1-4-2-4-1.1-4-0.1-4 0.8-6.2 3.5-3.6 4-2.2 4.1-1.3 3.9-0.9 6 0.2 6 1.3 5.9 2 4 2.7 3.2 4 3.2 4 2.1 6 1.2 4-0.4 4.8-1.3zM1809.9 1764.4l1.7-2 0.7-2-0.7-4-1.6-2-1.8-0.7-2 0.3-2.2 2.4-0.5 4 0.5 2 2.2 2.4 2 0.2 1.7-0.6zM1822.6 1834.2l3.6-1.6 2-2.1 0.9-2.3 0.1-4-1.4-4-3.6-3.9-2-0.8-4 0-2 0.9-2 1.8-1.1 2-0.9 4 0.5 4 1.5 3.8 2 1.9 2 0.7 4.4-0.4z"/>
<path fill="#404040" fill-rule="evenodd" d="M1366.4 1219.8l8.3-2.8 7.3-5.2 6.7-7.7 4.5-8.2 3.2-10 1.1-10-0.4-7.9-2.7-14-71.5 0 0.1 14 1.7 13.9 3.6 12 4.5 8.6 4 5.3 3.9 4 8 5.4 8 2.6 4 0.4 5.7-0.4zM711.9 1407.3l3.5-1.8 4-3.9 4-7.2 2.7-11 0.6-8-0.2-6-2-9.9-1.7-4-2.6-4-2.8-2.8-4-2.3-6-0.9-4 0.8-4 2-3.7 3.2-3 4-2 4-1.8 5.9-0.8 6 0.1 8 0.7 6 1.5 6 2.7 6 2.6 3.9 3.7 3.7 4 2.3 4 0.8 4.5-0.8zM1453.9 1539l4.7-2.8 4-4.2 4-6.7 2.2-6.3 2.7-17.9 4.6-14 0.8-4-0.3-21.9-0.9-6-1.6-4-8.3-13.9-5.7-18-3.5-4.7-4-3.7-4-2.7-6-3-10-2.6-5.9-0.3-6 0.3-12 2.8-12 5.1-10 6.6-6.1 6.2-6.3 10-4.8 11.9-2 8-0.8 6 0 10 2.9 11.9 4.3 10 6 10 6.8 7.8 6 4.8 8 4.7 16 7.3 4.6 3.3 7.4 6.8 5.9 3.5 4 1.1 6 0.5 4-0.4 5.3-1.5zM2032.1 1910l-0.1-125.8-4-1.6-5.9-4.3-3.4-3.9-2.2-4-1.7-8 0.6-16-0.7-6-2.4-5.9-4.8-6-5.5-4.6-6-3-8-1.2-13.9 1-3.5-0.2-4.5-2-1.7-2-1.4-4-0.4-4 0.6-31.9-0.9-12-0.9-3.9-1.3-3.1-2-2.7-2-1.6-4-1.7-4-0.4-4 0.9-4.6 2.6-2.1 2-1.3 2.3-4 15.6-0.2 6 2.6 16 2.3 21.9 4.8 16 9.6 23.9 0.9 4 0.1 4-1.7 6-7.4 11.9-2.6 6-0.6 4-0.1 12-1.4 4-3.3 4-10.9 7.9-2.3 4 0 4 2 8-1.1 4-1.5 2-7.2 5.3-14 7.5-6 2.4-7.9 1.5-8-0.3-10-2-6.3-2.5-11.7-6.8-4-1.6-4-0.2-4 0.9-6 2.9-5.4 4.8-9.8 18-2.8 3.4-2 1.5-2 0.7-4-0.2-9.5-5.4-2.4-0.3-4 0.5-4.4 1.8-6 4-5.6 5.1-8.2 8.8-5.8 2.7-4 0.4-6-1.6-4-2.7-2.7-2.7-2.3-4-3.6-14-3.7-8-3.7-5.5-4-2.5-2-0.4-6 0.4-2-0.4-2.5-1.6-5.5-5.9-5.9-10.7-4-5.1-18.8-16.2-11.4-11.9-7.4-10-8.9-14-6.6-11.9-8.9-17.7-5.3-8.3-6.7-8.2-13.1-13.7-8.8-12.9-2-1.8-5.7-3.3-1.5-1.9-0.8-4.3-0.6-9.7 0.2-27.9-1-6-1.8-6-4.8-9.9-6-8-2-1.6-4-2.1-8-1.3-12 0-9.7 1-6 1.9-4.3 3.2-2.2 2.8-2 4-2.4 8-1 10 1.3 8 1.5 3.9 3.4 6 8.8 12 10.6 12 10 8.8 6 4 4 1.9 2 0.1 5.1-2.9 6.9-2.5 4 0 0.6 0.5 0.4 2-0.6 2-1.4 2-3 1.8-6 0.3-6-1.4-2 0.7-8 7.2-6 8-4.1 7.4-4 9.9-9.9 37.1-6 16.3-4 7.3-4 5.4-5.9 6.3-6 4.3-4 1.5-2 0.2-2.7-0.6-3.3-1.8-2.4-2.2-3.6-4.8-2.8-5.1-3.2-7.6-3.8-12.4-3.3-13.9-6.3-37.9-3.9-18-10-37.9-2.7-8-2.9-6-3.7-5.9-4.7-6-6.1-6-5.3-4-5.2-3.1-6-2.5-6-1.2-4 0.1-4 0.9-4 1.8-4 2.7-3.4 3.3-4.6 5.9-12.6 20-10 14-5.4 6.1-12 10.9-4 4.5-3.5 6.4-5.2 14-5.4 11.9-29.2 51.9-28.6 40.6-6.4 7.3-7.6 7-12 7.7-7.9 3.1-4 0.6-6 0.1-6-1.1-4-1.5-4-2.3-4-3.5-8.5-12.1-2.6-6-0.9-8-2-3.1-12-7.6-4-1.4-2 0-4 1.5-3.9 4.6-8.7 22-3.4 6-4 4.8-4 3.3-5.9 2.8-6 0.9-6-0.9-4-1.6-13.4-7.3-4.7-4-7.9-15.3-9.3-10.7-2.8-4-10.7-19.9-5-12-6.2-22-6-12.4-9.9-15.4-4-3.9-6-4.6-2-2.1-1.9-3.4-0.9-4 0.5-6 5.5-15.9 3.6-18 6.1-15.9 1.5-6 0.5-6-0.5-4-1.1-4-1.9-4-5.4-6-8-4.8-14-5.5-22-5.4-4.5-2.2-5.5-4.2-8.4-9.8-11.1-17.9-9.3-14-3.4-8-3.8-17.9-2.5-6-2.6-4-5.9-6-6.2-4-6.7-2.3-8-0.8-6 0.7-6 2.2-4 2.5-4 3.8-4 6.3-7 17.5-11.6 18-4.5 10-1.8 8-0.3 9.9 1.9 20 0.7 21.9 1.8 10 2.5 6 4.4 6 5.9 4.9 8.9 5 9.1 3.8 10 3 31.2 5.2 5.4 2 5.4 3 8.6 7 6.9 7.9 2.9 6 0.8 4 0.1 4-1.5 6-4.2 6-4.8 4-10.8 6.2-6 4.4-6 6.1-6.2 9.2-3 8-4.4 19.9-8.7 24-6.2 25.9-2 14-1.4 5.9-1.8 4-2.3 3.3-6 4.7-4 1.6-4 0.8-10 0.3-6-0.5-6-2.3-2.4-1.9-3.3-4-1.9-4-1-4-1.3-13.9-1.2-6-5.7-19.9-2.5-6-2.6-4.6-4-5.3-9.2-10.1-3.9-6-1.8-5.9-1.1-14.8-5.1-15.2-3.2-6-5-5.9-4.7-3.6-6-2.6-6-0.5-4 1.2-3.8 3.5-2.1 4-1.2 5.9-0.1 20-0.8 8-6.7 23.9-2.6 6-2.7 4.1-5.9 5.9-14 9.3-5.8 4.6-16.2 16.8-6 5.1-22 14.2-4 1.6-4 0.6-19.9-0.8-4-0.7-4-1.4-4.9-3.5-5.6-5.9-2.7-4-4.8-10-2.3-2-3.7-0.9-3.5 0.9-2.3 2-1.1 2-2.5 8-2.8 6-3.8 5.5-4 3.1-4 1.1-4-0.2-6-2.1-8-4.3-6-4.1-12.5-11-10.4-8-5.5-6-3.3-6-4-11.9-5.1-12-4.3-18-2.2-5.9-2.6-3.8-4-3-4-1.5-4-0.3-4.7 0.6-5.7 2-3.6 2-4.6 4-3.2 5.9-2.7 12-2.7 6-4.4 6-7.3 8-2.6 4-0.5 1.9 0.4 4 1.5 4 6.3 12 2.4 8 0.1 8-0.9 3.9-1.8 4-3.2 4-2.6 2-6.1 2.6-8 0.6-8-1.7-6-3-8-6-23.7-20.4-3.9-4-2.4-4-0.5-2 0.6-4 9-15.9 2.3-6 1.2-6 0-6-1-6-2.4-6-3.2-4.9-6-5.6-6-3.1-6-1.8-23.9-4.5-6.3-2-3.5-2-2-2-4.2-6.4-2-0.4-4 2.6-8 10.4-4 7-4 10.9-2.7 11.8-1.4 12 0.6 8 2.7 9.9 0 4-1.2 4-5.2 12-1.8 10-1.2 4-9.8 14.5-6.5 15.4-7.9 11.9-3.6 3.9-2 1.1-4 0.5-3.9-1.4-2-1.7-7.3-12.3-3.5-8-5.9-22-5.4-25.9-1.3-12-0.8-1.9-4.6-6-1.7-4 0.6-2 5.3-6 1.6-4-0.1-2-0.9-1.4-2-1.1-2-0.1-2 0.6-2 1.6-1.4 2.4-0.6 2-0.3 8-1.4 2-12.3 11.7-8 6.6-6.5 9.6-9.5 10.9-6.9 11-7.1 8.4-7 11.6-8.9 10.3-4 6.1-3.8 7.5-1.7 6-0.9 6 1826.5 0zM442.5 1606.8l7.2-3.1 5.5-4.9 2.3-4 1.4-4 1-7.9-1.1-6-2-4-1.7-2-5.9-4-3.5-1.2-4-0.6-4 0.5-4 2-2 1.9-1.9 3.4-1 4-2.7 19.9 1.1 6 1.1 2 2 2 1.4 0.8 4 0.5 6.8-1.3zM1201.1 1640.7l6.4-2 13.4-5.6 3.5-2.4 2.5-3.2 2.3-6.7 1-8 0-10-1.1-8-1.9-6-3.1-5.9-3.3-4-5.9-4.4-6-2.6-8-1.6-8-0.2-8 1.1-8 2.6-6 3.3-4.6 3.8-4.7 6-2.8 5.9-2.3 8-1.6 10 0.1 8 1.2 4 2.8 3.9 7.4 6 6.8 4 5.7 2.3 8 1.8 8 0.6 6.2-0.7zM671.7 1680.6l3.8-1.1 4-1.9 5-5 1.9-4 0.9-4-0.1-7.9-1.6-6-1.7-4-4.4-5.6-4-2.8-4-1.6-4-0.6-4 0.4-4 1.5-3.8 2.7-4.3 6-2.3 8-0.2 6 0.4 3.9 1.2 4 2.1 4 4.9 4.7 4 2.3 3.2 1 2.8 0.4 4.2-0.4zM442 1728.5l3.7-2.2 3.5-3.8 2-4 1.4-6 0.2-8-1.6-15.9-1.4-8-1.9-6-2.2-4.3-4-5.6-6-5.1-4-1.7-6-1.1-8-0.3-3.9 0.9-4 2.6-2 2.1-3 4.5-2.5 6-5.5 22-0.2 6 1.2 3.9 3.2 4 11.7 8 7 8.1 4 3.4 4 1.6 4 0.6 6-0.4 4.3-1.3zM1810.3 1762.4l0.7-2 0-2-0.7-2-2.1-1.3-2 0.3-1.8 3 0 2 1 2 0.8 0.8 2 0.4 2.1-1.2zM1824.5 1832.2l2.4-2 1-2 0.4-2-0.5-4-1.6-2.9-2-1.9-2.9-1.2-3.1 0.2-2.8 1.8-2.1 4-0.2 4 1.1 3.9 2 2.4 2 0.8 4-0.2 2.3-0.9z"/>
<path fill="#3b3b3b" fill-rule="evenodd" d="M1370.7 1213.8l6-3 6-4.9 6-7.8 3.9-8.2 2.1-8.2 0.6-9.7-0.6-6-2.8-12-64.5 0-0.2 14 1.8 13.9 3.1 10 2.7 5.4 2.9 4.6 7 7.2 8 4.5 4 1.2 6 0.6 8-1.6zM714.2 1403.3l3.2-2.7 2-2.5 2-3.7 1.7-5 1.9-12-0.4-10-2-7.9-3.2-6-2-2.1-4-2.7-6-1-4 0.9-4 2.3-2.8 2.6-3.2 4.5-1.9 4.7-1.1 4.7-0.5 6 0.3 8 1 6 2.1 6 2.2 4 3.9 4.4 4 2.6 4 0.9 4-0.6 2.8-1.4zM1449.2 1529l5.4-3 4-4 3.2-5 2.8-7.1 7.7-26.8 0.7-17.9-0.6-8-1.8-4.8-9.1-15.1-5.2-14-1.7-2.7-3.1-3.3-6.9-4.3-8-2.5-7.9-0.6-10 1.5-10.9 3.9-9.5 6-7.6 7.6-5.2 8.4-3.6 9.9-1.5 10 0.4 12 2.2 11.9 2.7 8 4.1 8 4.6 6 6.6 6 6.1 4 27.5 15.5 4 1.3 4 0.3 6.6-1.2zM2032.1 1910l-0.1-120-4.3-1.7-7.7-5.1-4-4-3.1-4.8-1.4-4-0.8-6 0.7-16-0.4-6-1.9-5.9-2.3-4-2.8-3.2-4-3.4-6-2.8-8-0.9-15.9 0.5-4-1.1-2-1.2-2-2.2-2.3-5.7-0.7-6 2.1-29.9-0.5-12-0.9-3.9-2.1-4-3.6-3.1-4-1.3-4 0.2-2 0.6-3 1.6-3 2.8-1.5 3.2-3 11.9-0.6 6 0.9 6 9.4 43.9 3.6 11.9 7.2 18 1.3 6-0.1 4-2.1 6-7.1 10.4-2.7 5.5-1.1 6-0.1 10-1.1 4-3 4.2-11.1 7.7-2.6 4 0 4 1.8 8-1 4-1.4 2-5.7 4.5-18 9.9-6 2.5-7.9 1.6-8-0.2-10-1.7-8-3-14-7.3-4-0.5-4 0.7-6 2.7-4 3.5-2.1 3.2-7.9 15.5-4 4.9-2 1.2-4 0.5-4-1.3-7.9-5.6-4-0.6-4 0.9-4.9 2.5-5.2 4-11.9 12.5-6 2.5-4 0.4-4-0.7-4-1.9-3.5-2.9-1.8-1.9-2.3-4-2.7-12-3.7-8.4-4-6.3-4-2.4-2-0.3-8 0.9-2.8-1.5-7.1-7.9-5.8-10-3.2-4-21.1-18-8-7.9-7.9-10-9.2-14-7.8-13.9-9-18.6-6-9-6-6.6-6-5-5.9-3.9-6-2.4-4-0.5-4 0.4-22 4.7-6 2.5-6 4.7-4.4 5.7-3.9 8-2.8 8-10.4 35.9-3.9 10-4.6 8.3-8 10.2-5.9 6-6 4.9-4 2.4-4 1.2-4-0.8-2-1.3-4-4.3-4-6.1-6-13.1-2.9-9.4-6.1-24-6.1-31.9-3.6-13.9-5.3-14.6-12.2-27.3-9-24-4.5-7.9-4.2-4.9-6-4.2-6-1.8-4 0-4 1.2-6 4-4 4.4-11.7 15.2-16.4 20-5.8 6-14.1 12.3-4 6.7-6.6 16.9-4.7 9.9-19.7 33.9-8.5 16-29.3 41.9-7.1 8-8 7.2-12 7.5-7.9 3-10 0.5-6-1-4-1.5-4-2.2-4.2-3.6-9.5-13.9-1.9-4-1-8-1.6-4-2.2-2-9.6-5.6-4-1.3-2 0-4 1.8-2.7 3.1-2 4-4.9 14-3.5 8-2.9 4.7-4 4.5-4 3.1-5.9 2.7-6 0.8-6-1-4-1.6-14-7.6-4-2.8-2-2.3-6-12.7-2.6-3.8-10.8-12-12.8-21.9-4.7-12-4.9-19.9-4.6-10-9.5-13.5-4-4.1-10-8.3-3.8-6-1.2-6 0.7-8 5.2-15.9 3.6-18 6.9-13.9 1.8-6 0.4-4-0.3-4-1.2-4-2.1-4-2-2.5-4.1-3.5-5.9-3.4-6-2.7-12-3.5-18-2-5.3-2.3-4.7-3.6-4.3-4.4-4.8-6-12.9-20.8-11.7-13.1-4.2-6-2.8-8-2.4-15.9-1.4-4-2.4-4-3.7-4-3.3-2.3-4-1.8-6-0.9-4 0.2-4 1.1-4 2.1-4.1 3.6-3.9 6-4.5 12-3 5.9-12.5 16.8-4.7 9.2-1.6 6-0.4 7.9 3.4 22-0.2 21.9 1.6 10 2.8 6 3.2 4 4.8 4 7.3 3.9 9.8 3.6 9.4 2.4 30.6 4.4 8 2.8 7.9 4.4 10 8.3 6.6 8.1 3.4 7.9 0.7 8-0.7 4-1.4 4-2.4 4-3.5 4-6.7 5-13.9 7.6-6 4.2-6 6.1-4 6.3-2 5-5.1 21.6-6.9 16.8-2.4 7.2-6.5 25.9-1.7 14-1.5 5.9-3.9 6.5-3.8 3.5-4.2 2.6-4 1.6-6 1.2-8 0.2-6-0.6-4-1.3-4-2.2-5.4-5.5-2.2-4-1.2-4-2.2-19.9-4-16-2.9-8.6-2-4-3.8-5.3-13.9-14-3-4-1.8-4-0.7-3.9 0.6-10-0.6-6-2.5-10-2.4-6-3.8-5.9-4.1-4.1-6-3.4-6-1.3-4 0.7-2 1-3 3.1-1.9 4-0.9 5.9 0.6 22-0.3 4-6.4 25.9-2.3 6-2.3 4-3.5 3.8-2.7 2.2-13.2 7.4-6.6 4.5-6.5 6-11.1 12-4.7 4-13.1 8.2-10 7.5-6 2.9-6 0.7-17.9-1.4-6-1.2-4-1.8-6-5-5-5.9-7-13.3-2-1.4-2-0.3-3.1 1-1.8 2-3.4 10-2.9 5.9-2.8 4.5-4 3.9-4 1.8-6 0.1-6-1.9-6-3.2-8-5.6-12.7-11.5-12.8-10-5.4-6-2.3-4-4.7-13.6-4.7-10.3-3.1-18-2.2-6.8-2-3.2-4-3.4-4-1.5-4-0.2-5.2 1.2-4.1 2-2.7 2-3.6 4-1.9 3.9-2.5 12-1.6 4-2.7 4-10.3 12-2.2 4-0.5 1.9 0.3 4 7.6 16 1.8 8 0.1 6-0.5 3.9-1.1 4-2 4-2.9 3.7-2.8 2.3-7.1 3.2-4 0.7-6 0.2-8-1.4-6-2.5-6-4-18-15.7-18.8-14.4-2.8-4-0.2-2 1.8-4 8-9.5 4-5.9 2.2-4.5 1.8-6 0.5-6-1-6-2.5-6-3-4.2-6-5.1-8-3.2-6-0.9-13.9-0.3-8-0.8-7.2-1.4-8.8-2.8-4-0.4-4 1.5-4 3.9-4 6.7-4 10.8-2 10.2-0.2 8 1.2 6 2.8 7.9 0.4 4-1.1 4-7.1 13.2-2.8 14.8-11.2 15.9-5.8 14-8.2 12.5-2.8 3.4-3.2 1.9-2 0.4-2 0-3.9-1.3-4-4-7.2-12.9-2.4-6-5.1-18-3.3-16.8-3.4-13.1-1.7-12-1-1.9-5.9-7.4-2-0.9-4 1.9-10 9.3-6.4 5-8.8 12-7.4 8-7.5 11.9-7.9 9.4-6.2 10.6-7.7 8.7-4 5.5-4 7.1-1.9 4.6-1.9 10 1825.9 0zM440.2 1604.8l6.3-2 5.6-4 3.7-6 1.6-7.9-0.6-6-2.9-6-4.6-4-3.6-1.7-4-0.8-4 0.4-2 0.8-2 1.3-2 2.3-2 5.7-2 15.9 0.5 6 2.3 4 3.2 2 6.5 0zM1196.9 1638.7l6-1 6-2.2 6-2.8 6-4 2.7-3.9 1.9-6 0.8-6 0-8-0.9-6-1.8-6-3.1-5.9-3.6-4.4-4-3.1-6-2.9-6-1.4-8-0.3-8 1.3-6 2.2-6 3.8-4.6 4.8-3.4 5.9-2 6-1.4 8-0.2 8 1.5 6 2.3 4 3.8 3.9 5.4 4 4.6 2.5 6 2.1 6 1.2 6 0.2zM1577.3 1692.6l3.6-2 3.6-4 2-4.2 2-7.5 1.3-8.3 0.4-7.9-1.3-8-2.4-6.6-6-10-4-4.1-4-2.2-6-1.2-6 0.1-6 0.9-6 2-4 2.3-2.9 2.8-2.4 4-1.7 6-0.6 6 0.3 8 1.2 5.9 2.3 6 3.5 6 4.3 5.6 4.4 4.4 5.6 4.2 6 2.5 4 0.7 4-0.1 4.8-1.3zM674.1 1678.6l5.4-2.7 2-1.8 2.5-3.5 1.5-4 0.6-3.9-0.7-8-3.2-8-4.7-5.2-6-3-4-0.6-4 0.5-6 3.1-2.9 3.2-2.3 4-1.8 8 0.1 6 0.8 3.9 3.1 6 3 3 4 2.4 6 1.6 6.6-1zM437.9 1724.5l3.8-1.5 4-3.4 2.1-3.1 2-6 0.8-8-0.4-9.9-0.9-8-1.6-5.9-2-4.7-3.5-5.4-2.5-2.7-4-3-4-1.8-6-1.1-6-0.1-4 0.9-3.5 1.9-2.4 2.2-2.7 3.7-1.8 4-5.3 22 0 4 1 3.9 1.1 2 3.9 4 17.7 13.9 6 2.3 4 0.4 4.2-0.6zM1809.3 1760.4l0-2-1.1-1.4-2 0.7 0 3.2 2 0.7 1.1-1.2zM289.6 1798.3l2.3-2 1.7-4-0.5-2-1.2-1.1-2-0.3-3 1.4-1.4 2-0.4 2 0.8 4.4 2 0.5 1.7-0.9zM1820.5 1832.2l3.7-1.2 2-2 1-2.8 0-2-1-3.2-2-2.4-2-1.2-2-0.3-2 0.3-2 1.2-2 3.2-0.4 2.4 0.4 3.3 1.4 2.7 2.6 1.8 2.3 0.2zM409.8 1839.1l-2 0.2-2-0.7-4-3.1-3-3.3-2.5-4-0.3-2 1.3-2 2.5-0.8 4 0.1 4 1.5 4.5 3.2 1.5 2 0.6 2-0.2 2-2.4 3.8-2 1.1z"/>
<path fill="#363636" fill-rule="evenodd" d="M1368 1209.9l6.7-2.8 6-4.5 6-7.3 3.7-7.4 2.1-8 0.7-7.9-0.7-6-3.2-12-57.4 0-0.5 12 1 11.9 2.7 10 3.9 8 5.7 7 4 3.2 4 2.2 4 1.5 4 0.7 7.3-0.6zM712.4 1401.3l3-2 2-2.1 2-3.3 1.8-4.5 1.9-10 0-10-1.7-8-1.8-3.9-2.2-3.2-4-3.1-2-0.8-4-0.4-4 1-3.8 2.5-2.2 2.1-2.5 3.9-2.6 7.9-0.6 6 0.1 6 2 10 1.8 4 3.8 5.1 2 1.7 4 1.9 4 0.2 3-1zM1446.3 1521l4.3-2.1 4.4-3.9 3.6-5.1 4-9 3.7-11.8 1.6-8 0.7-15.9-0.4-6-2.1-6-8-12-6.4-11.9-3.1-4.2-4-3.2-6-2.3-6-0.7-7.9 0.7-10 3.4-7.1 4.3-6.3 6-5.3 7.9-3 8-1.3 8 0.3 12 1.8 13.9 2.6 8 3.4 6 5.2 6 5.7 4.7 12 7.4 9.9 5 4 1.3 4 0.4 5.7-0.9zM2032.1 1910l-0.1-114.2-2-0.5-6-3.2-8-5.4-4.4-4.4-3.6-5.6-1.4-4.3-0.5-4 1.3-20-0.4-6-2-5.9-4.3-6-4.7-3.5-6-2-5.9-0.5-14 0.3-4-0.5-4.1-1.8-3.7-4-2.9-6-1.1-6 4.6-25.9 0.6-8-0.4-8-0.9-3.9-2.4-4-3.7-2.6-4-0.8-5 1.4-2.9 2-1.6 2-0.9 2-2.9 11.9-0.5 6 1.2 6 2.6 8 7.3 17.9 1.3 6 0.8 12 1.4 8 2.4 7.9 6.5 16 1.1 4 0.3 4-0.8 4-1.9 4-7.6 9.9-2.8 5.2-1 4.8-0.2 10-1.9 6-3.4 3.9-9.5 6.4-2.8 3.6-0.1 4 1.5 8-1 4-3.4 4-2.7 2-19.5 11.1-8 3.6-5.9 1.5-8 0.3-10-1.1-10-3.1-14-6.9-4-0.8-6 0.8-4 2-2.7 2.5-3.3 5.3-8 16.3-2 2.4-4 2.2-2 0.3-4-0.6-4-2.2-5.9-5.1-2-0.8-4-0.1-6 2.3-2.9 2-6.7 6-6.4 7.5-4 2.7-4 1.3-6 0.1-4-1.1-3.9-2.6-2.3-2-3.1-3.9-1.5-4-1.2-7.2-1.6-4.8-4.4-9.1-2-2.8-4-2.4-2-0.1-8 1.8-2-0.6-2-1.4-6.5-7.3-9.4-14.1-4.1-3.9-17.5-14-6.4-5.9-8.6-10-10.7-16-7.8-13.9-8.9-19.1-4-6.2-4-4.7-6-5.3-5.9-3.2-6-1.5-10 0.3-16 3.2-8 3.1-4 2.7-2.9 2.7-4.1 6-3 6.5-13.6 43.4-3.1 8-4.2 7.9-7.1 9.6-11.7 12.4-10.2 12-2.2 2-3.8 2-4-0.4-2.5-1.6-3.5-5-10-21.5-3.7-9.5-11.2-43.8-5-24-4.1-12.1-5.9-11.8-9.9-16-13.3-25.9-6.1-18-2.7-3.8-4-2-4 0.7-4 2.7-20 17.8-18 19-14 11.3-3.9 4.2-2.3 4-7.3 18-3.8 7.9-20.6 34.9-8.9 17-29.3 41.9-7.8 8.7-8 6.8-12 7.4-4 1.9-3.9 1.1-10 0.2-6-1-4-1.4-6.2-3.8-3.8-3.8-2-2.9-7.8-13.2-1.2-4-0.6-6-0.6-2-1.4-2-2.4-2-8-4.4-4-1.3-2 0.1-4 2-2.7 3.6-8.8 24-2.5 4.7-4 5.1-6 4.9-5.9 2.5-6 0.8-6-1-21.3-11-4.3-4-6.4-14-14.4-16-12.7-19.9-2.8-6-2-6-4.1-19.9-2-5.4-2.4-4.6-3.6-5.1-5.9-6.9-16.7-13.9-3.7-6-1.4-8 0.3-8 5.8-17.9 1.7-16 1.9-4 7.4-9.9 2.4-6 0.2-6-2-6-3-4-4.9-4-12-5.7-6-1.7-6-0.6-16 1.5-4-1.1-6-4.3-6-6.4-5.9-7.6-10-18-2.8-3.9-5.2-5.5-10.4-8.5-10.3-12-3.1-6-0.1-11.9-1.1-4-1.2-2-1.8-1.6-4-1.2-3.4 0.8-2.8 2-2.6 4-2.5 9.9-1.6 4-3.4 4-11.7 9.3-6 5.9-4 5.4-2.4 5.4-1.1 5.9 0.6 6 1.2 4 4.5 10 1.2 6-3.4 21.9 0.2 6 1.7 6 2.5 4 3 3 4 2.7 6 2.6 16 4.2 24 2.9 8 1.6 9.9 3.4 11 5.5 9 6.5 7 7.5 3.8 6 4 7.9 2.3 6 0.1 2-1.8 4-4 6-5 6-4.3 4-8.1 5.6-19.9 10.3-6 5-4 5-2.6 6-5.1 19.9-8.3 19.2-2 5.9-6.7 24.8-1.5 14-1.2 5.9-1.8 4-2.9 4-4.5 4-5.4 3.3-4 1.6-6 1.3-8 0.3-6-0.7-4-1.2-4-2.1-4-3-3.2-3.5-2.5-4-1.4-4-2.7-23.9-3.4-14-2.7-7.9-3.5-6-3.4-4-5.1-4.7-12.4-9.3-2-2-2.4-4-0.7-5.9 2.7-10 0.5-6-1.1-8-2.6-7.6-4-6.1-4-3.5-5.6-2.7-4.4-0.7-3.3 0.7-2.7 1.5-2.1 2.5-1.6 3.9-0.6 4 0.1 8 1.7 18-3.1 11.9-3.1 18-1.8 6-2.2 4-1.7 2-3.6 2.6-15.9 6.7-6 3.6-6 5.1-11.1 11.9-4.4 4-15.7 9.9-10.8 9-6 2.9-6 0.6-17.9-1.9-6-1.2-4-1.7-5.1-3.7-4.9-5.3-4.8-6.6-3.7-8-1.5-1.9-2-0.6-2 0.6-1.4 1.9-3.6 10-5 9.2-2 2.7-4 3.5-4 1.7-6 0.1-6-1.8-6-3.2-8-5.8-15.5-14.4-12.4-9.5-5.8-6.5-3-6-3.2-9.9-5.2-10-0.7-4-0.4-12-1.1-6-1.5-3.9-2.7-4-2.4-2-2-1-4-0.8-4 0.6-3 1.2-3.1 2-3.6 4-2.5 5.9-0.9 12-1.3 4-12.1 12-3.4 6-0.4 1.9 0.5 4 4.8 10 2.3 6 1 6 0.1 6-1.1 7.9-2.1 6-3.2 4.8-4 3.5-4 2.2-3.9 1.3-8 1.2-8-0.2-8-2.1-5.4-2.7-4.6-3.3-14-12.8-10-7.8-8-4.7-8-2.5-4 0.1-4 1.7-4 3.3-7.9 8.2-2 0.9-2 0-2-0.9-2-1.9-14.2-20.2-3-6-0.2-2 1-2 3.1-2 3.3-1 8-0.9 6 0.8 13.9 4.9 6-0.2 4-1.6 8-5.8 4-4.4 2.5-3.7 1.9-4 1.5-6 0.2-4-0.6-4-2.5-6-3-3.9-4-3.4-6-2.8-8-1.3-11.9 0.7-8-0.2-18-3.2-4 0-4 1.4-2 1.5-4 5-4 8.2-1.9 8-0.4 6 0.8 6 1.5 3.9 4.8 8 0.6 2-0.3 2-2.3 4-6.8 8.4-2.2 3.6-1.8 5-0.9 9-1.3 3.9-9.8 12.2-2.1 3.8-4.8 12-11.1 16.3-4 2.4-4 0.4-1.9-0.4-4-2.2-3.5-4.6-7.5-13.9-3.9-12-6.5-27.9-3.3-12-1.3-8.8-1-3.2-5-6.4-2-1.2-2 0-4 2.5-8 7.4-6 4.8-8.3 10.9-7.7 8.1-7.3 11.8-8.7 10.4-5.4 9.6-8.5 9.6-4 5.7-3.6 6.6-1.6 4-1.8 10 1825.1 0zM445.2 1600.8l4.5-2.9 3.6-5.1 1.6-5.9 0.1-4-0.6-4-2.7-5.2-4-3.7-2-1.1-4-1.1-4 0.4-4 2.3-2.5 4.4-1.9 15.9 0.4 5.7 2 3.7 4 2 4 0.1 5.5-1.5zM1203.1 1634.7l5.8-2.3 6-3.6 2.2-2.1 2.7-3.9 2-6 0.7-6-0.5-8-1.5-6-2.9-6-2.7-3.4-4-3.6-4-2.2-4-1.5-6-0.9-6 0.2-6 1.4-4 1.7-4 2.5-3.8 3.8-2.6 4-2.2 6-1.1 6-0.2 6 0.9 6 1.7 4 2.8 4 4.2 3.9 6.2 4 5.2 2 4.9 1 6-0.1 4.2-0.9zM1575.4 1684.6l3.1-1.7 3.9-4.3 2.1-3.8 2-5.6 1.7-10.5-0.3-4-1.3-6-2.6-6-3.5-5.6-2-2.4-4-3.2-4-1.6-4-0.6-6 0.4-4 1.1-4 1.8-2.8 2.1-1.9 2-2.2 4-1.3 6-0.3 6 0.3 6 1.3 5.9 1.6 4 3.3 5.5 4 4.6 4 3.3 4 2.2 4 1.3 4 0.2 4.9-1.1zM675.4 1676.6l3.3-2 2.2-2 1.4-2 1.7-4 0.8-5.9-1.4-8-3.1-6-4.8-4.5-6-2.2-6 0.4-4 2-2 1.7-2.1 2.6-1.9 3.9-1.4 8.1 1 7.9 1.9 4 1.5 2 5.4 4 5.6 1.5 4-0.3 3.9-1.2zM435.1 1720.5l4.6-1.5 3.2-2.5 2.8-3.8 1.6-4.2 1.2-6 0.3-7.9-0.3-6-1.1-6-1.7-4.7-3-5.3-3-3.6-4-3.1-4-1.8-4-0.9-6-0.1-4 0.8-3.9 2.1-2 1.9-2 2.8-1.8 3.9-4.5 20 0.4 6 2.1 3.9 3.9 4 11.8 8.8 6 2.7 4 0.7 3.4-0.2zM288.7 1796.3l1.2-0.4 1.4-1.6 0.6-2-2-2-2 1-1.2 3 0.9 2 1.1 0zM1823 1830.2l2.3-2 0.8-2-0.4-4-1.5-2.3-2-1.4-2-0.4-2 0.5-2 1.5-1.1 2.1-0.3 2 0.9 4 2.5 2.5 2 0.3 2.8-0.8z"/>
<path fill="#303030" fill-rule="evenodd" d="M1371.5 1203.9l5.2-3 5.4-5 4.1-6 2.6-6 1.8-8 0.1-5.9-1.1-6-3.1-10-49.9 0-0.9 12 1 11.9 2.2 8 4.2 8 5.6 6.2 4 2.8 4 1.7 4 0.9 4 0.1 6.8-1.7zM707.9 1399.4l3.5-0.7 2-1.1 4-4.6 2.9-7.6 1.3-10-0.6-8-2.6-7.9-3-4-2.9-2-3.1-1-2 0-4 1.2-2.6 1.8-3.4 3.8-2.7 6.1-1.1 8 0.7 10 2.8 8 4.3 5.4 4 2.2 2.5 0.4zM1446.1 1513.1l4.5-3.1 4-4.4 3.7-6.5 2.3-6.2 2-7.8 0.8-6 0.3-13.9-0.9-6-1.5-4-2.7-4.3-12-14.8-4-3.7-4-2.1-4-1-3.9-0.2-6 0.9-8 3.1-5.6 4.2-5.1 5.9-3.3 6-1.8 6-0.8 8 0.5 13.9 1.4 8 2.3 6 3.9 6 4.5 4.6 7.2 5.4 8.8 4.8 5.9 2.1 6 0.6 5.5-1.5zM1028 1702.5l3.1-2.9 2-3 2.4-6 0.4-6-1.6-8 0.3-4 3-4 9.5-7.9 2-2.6 1.6-3.4 0.5-4-0.8-4-1.3-2.6-2.7-3.4-3.3-2.8-6-3.5-6-2.5-6-1.3-8 0.7-10 4.1-4 1-2-0.2-4-1.7-6.7-5.8-13.8-15.9-3.6-6-4.7-12-3.7-6-3.9-3.9-13.5-11.3-6-3.7-4-1-4-0.1-14 2.7-7.8 3.4-6.2 4.8-2.7 3.2-2.2 4-0.6 3.9 1.6 4 3.9 2.8 8 2.5 4 2 10 9.4 4 2.4 12 2.1 1.8 0.8 1.4 2-0.1 2-1.1 2-2.4 2-3.6 1.5-4 0.8-18 1.3-4 1.1-4 2.3-3.9 4.9-1.7 6 0.8 6 2.7 4 4.1 2.7 8 2.7 16 3.2 24 3.3 27.9 8.4 4 0.4 4-0.7 4-1.9 6.4-4.2 3.6-0.5 2 0.4 2.9 2.1 1.4 2 0.5 2-0.8 3.6-4.2 8.4-0.3 4 1.9 6 2.9 4 5.7 3.9 4 1 2.9-1zM443.7 1598.8l4-2.4 2.9-3.6 2-5.9-0.1-6-1.3-4-2.9-4-4.6-3-4-0.6-4 1.3-2 1.9-1.2 2.4-1.1 6-0.4 11.9 1.5 4 3.2 2.5 4 0.4 4-0.9zM1204.9 1630.7l4-2.1 4.5-3.8 2.7-4 1.5-4 0.8-4 0.2-6-1.1-6-1.4-4-2.4-4-2.8-3.3-4-3-4-1.8-4-1-6-0.2-8 1.9-6 3.8-3.1 3.6-2 4-1.2 4-0.7 6 0.5 6 1.2 4 2.2 4 3.3 4 3.8 3.2 4 2.4 4 1.4 4 0.7 4-0.1 6-1.7zM1573.2 1678.6l3.3-1.5 2-1.5 2-2.2 2.8-4.8 1.6-4 1.1-5.9-0.7-8-2.3-6-2.3-4-2.2-2.9-3.5-3.1-2.5-1.4-4-1.1-4-0.1-3.3 0.6-4.7 2-2.6 2-1.7 2-2.1 4-1.2 8 0.9 10 1.3 3.9 2.1 4 5.3 6 4 2.8 4 1.4 4 0.4 2.7-0.6zM676 1674.6l3.5-2.7 2.9-5.3 0.9-5.9-0.4-4-1.2-4-3.6-6-4.6-3.5-6-1.4-4 0.7-4 2.4-2 2.2-2.1 3.6-1.5 8 0.1 4 0.9 3.9 2.1 4 1.8 2 4.7 3 6 1 6.5-2zM1950.3 1696.6l1.8-2.3 2-4.2 2-6.3 1.5-9.2 0.1-8-0.6-3.9-1.7-4-3.3-3.1-4-1.1-4 1-2.1 1.2-2 2-1.9 4.6-2.1 9.3-0.3 4 0.5 4 1.9 5.9 4 7.4 4 3.8 2 0.3 2.2-1.4zM434.5 1716.5l3.2-1.1 3.8-2.9 3.5-6 1.5-5.9 0.6-6-0.1-6-0.7-4-3.3-8-2.8-4-2.5-2.3-4-2.5-4-1.3-4-0.4-4.7 0.5-5.3 2.6-1.9 2-2.1 3.4-1.4 4-3.3 16 0.4 6 3.9 5.9 4.4 4 4 2.6 8 3.3 4 0.4 2.8-0.3zM2032 1910l0-108.1-2-0.5-8-4.3-10-6.2-5.4-4.6-4.6-6-1.7-3.9-0.6-6 3.3-18 0.3-6-0.4-4-1.1-3.9-2.2-4-3.6-3.7-4.2-2.3-7.7-1.7-18-0.1-10-1.7-2.3 1.5-1.5 6 0.9 7.9 2.6 8 7.6 16 1.1 4-0.1 4-3.2 5.9-9.1 9.9-2.5 4.1-1.1 4-0.9 12-2.6 6-3.7 3.9-8.8 6-1.6 2-0.6 4 1 6-0.2 4-2 4-4.6 4-26.4 15.1-5.9 2.3-6 1.2-10 0-10-1.5-8-2.6-14-6.5-4-0.7-4 0.5-4 2.1-2 2.2-4 7.1-6 13.7-2 2.7-2 1.7-4 1.4-4-0.2-6-2.8-7.9-6.7-2-0.6-4 0.4-4 1.8-4.5 3.3-5.5 5.2-5.6 6.7-2.4 1.9-4 1.8-6 0.8-4-0.7-4-1.8-4-2.9-2.8-3-2.1-4-1.4-8-1.7-5.5-4-8.4-2-2.9-2-1.7-2-0.8-2 0-8 2.6-2-0.3-2-1.1-8.7-9.8-5.3-8-3.9-4.9-5.8-5.1-16.2-12.4-10-9.5-8-10-9-14-7.4-13.9-7.6-16.7-3.2-5.3-4.8-5.4-4-3.3-3.9-2.1-4-1.2-4-0.4-6 0.4-14 2.8-10 3.8-6 4.6-4 5.6-3.3 7.2-14.7 45.4-3.7 8.4-4.3 7.3-5.2 6.7-10.8 11.8-8.4 12.1-5.5 6.1-4 2.7-4 1.4-6-0.1-4-1.6-4-3.3-3.3-5.2-11.9-31.9-2.8-9.9-4-18.6-5.5-19.3-4.9-20-3.6-10.4-6-10.4-10.4-13.1-2.5-4-5.6-15.9-4.7-8-10.7-11.1-4-2.3-4-0.6-6 1.3-8 4.5-6 5-14 14.2-12 8.8-4 3.9-2.5 4.2-10.6 23.9-20.8 34.5-7.7 15.4-13.5 20-8.8 11.9-9.1 14-7.1 8-7.8 6.7-14 8.9-4 1.8-3.9 1-8 0.1-8-1.2-6-2.3-6-4.1-4.1-5-8.9-15.9-1.7-10-1.3-2.7-2-2-5.5-3.3-6.5-2.4-4 0.9-2 1.6-2 2.9-8 23.4-3.8 7.5-6.2 6.8-6 3.7-7.9 2-4 0-4-0.9-4-1.7-10-6-10-4.7-2-1.5-2-2.6-3.2-9-2.8-5.1-16-16.9-8.8-11.9-4.9-8-3.8-10-3.7-21.9-1.5-4-3.3-5.6-5.9-6.9-6-5.2-20-14.1-2-1.2-4-0.6-10 2.8-6 2.6-20 12.9-19.9 9.4-4 2.6-3.8 3.3-2.2 2.9-2 3.8-6.3 21.2-10.2 22-7.7 25.9-1.9 17.9-1.1 4-1.9 4-3.2 4-4.7 4-5 3.2-6 2.6-6 1.4-6 0.4-6-0.4-4-0.9-6-2.6-5.2-3.7-4.7-4.9-3-5.1-1.7-6-1.2-17.9-2.2-12-2.7-10-4.1-7.9-3.5-4-5.6-4.6-8-4.2-12-4.3-2-1.6-2.3-3.3-1.3-4-0.2-4 1.7-3.9 4.9-6 2.4-4 1.4-6-0.4-6-2.5-8-3.7-5.1-6-4.1-6-1.1-2.1 0.4-3.2 2-1.6 2-1.4 3.9-0.4 6 0.5 8 4.2 16-0.2 2-3.4 9.9-1 16-1.5 10-1.7 5.9-1.3 2-2.7 2-2.2 0.7-11.9 1.3-6 1.3-8 3.7-6 4.9-10 10.4-6 5.4-16.3 10.2-11.7 10.8-6 2.7-4 0.5-6-0.5-17.9-2.8-6-2-4-2.5-4-3.6-7.1-8.5-4.9-7.7-2-1.4-2 2-10 18.5-2.2 2.5-3.8 3-4 1.5-6 0.1-6-1.6-8-4.3-10-8.1-12.4-12.5-15.4-12-5.2-6-2.2-4-4.5-11.9-6.6-8-0.6-2 2.8-8 0.6-4-0.3-6-1.4-5.9-2.3-4-2.4-2.3-3.9-1.7-2.1-0.2-4 0.9-4 2.5-2.5 2.8-1.9 3.9-0.7 4 0.3 4 1.7 6 3.1 6-0.2 2-2.3 2-12.4 6-3.1 2.8-1.6 3.2 0 3.9 4.4 10 1.5 6 0.3 10-1 9.9-2.1 8-3.3 6-4.2 4.2-6 3.3-7.9 1.9-10 0.6-8-0.6-6-1.7-6-3.2-4-3-14-13.3-6-4.8-8-4.9-6-2-6 0.2-3.4 1.4-4.6 3.6-7.9 8.9-4 1.9-4-0.3-2-1.1-3.1-3.1-8-13.9-7.2-10-3.7-3.5-2-1.1-4-0.2-6 3.5-4.6 5.3-1.4 2.5-1 3.5-0.3 8-0.9 3.9-1.4 2-6.4 6.3-4 5.5-6 14.2-10 15.4-2.5 2.5-3.5 1.8-4 0.4-1.9-0.4-3.7-1.8-2.3-2.2-9.9-17.7-5.2-16-4.9-21.8-4.2-14.1-1.9-10-1.9-3.6-2-2.3-2-1.4-2-0.2-4 2-14 12.4-7.2 9.1-8.8 9.3-6.4 10.6-9.6 11.7-4.5 8.3-9.4 10.7-4 5.9-4 8-1.9 7.3-0.4 4 1824.3 0zM428.1 1816.2l5.6-1.8 6-4.2 4.6-5.9 2.4-6 0.6-6-1.6-6-4-5.7-4-3.1-4-1.9-6-1.1-19.9 1.6-6-0.6-12-2.3-4-0.2-4 0.9-2 1-4 3.7-2 2.7-2 3.9-1.6 5.1-0.5 8 0.8 4 1.3 2.9 2 2.6 4 3.1 4 1.7 4 0.5 14-1.5 6 0 15.9 4.6 6.4 0zM1823.4 1828.2l1.3-2 0.3-2-0.8-2.4-2-1.9-2-0.5-2 0.5-2 2.3-0.3 2 0.3 2.5 2 2.4 2 0.4 3.2-1.3z"/>
<path fill="#2b2b2b" fill-rule="evenodd" d="M1368.7 1199.9l6-2.7 6-5.3 4-6 2-5.2 1.3-6.8-0.2-5.9-1.1-4.4-3.6-9.6-41.6 0-1.3 10 0 8 1.3 7.9 3.2 8 4.5 6 5.5 4.3 6 2.1 4 0.2 4-0.6zM711 1395.4l2.4-1.6 2-2.3 2.1-4.1 1.9-8 0.2-8-1.8-8-2.4-4.2-4-3.2-4-0.7-4 1.4-2 1.5-3.7 5.2-2 8 0.1 8 2 8 3.6 5.5 4 2.7 2 0.4 3.6-0.6zM1441 1507.1l3.6-1.3 4-2.7 4-4.7 2.8-5.3 2-6 1.3-8 0.2-7.9-0.7-8-1.6-4.9-3.1-5.1-4.9-5.3-6-5.3-4-2.4-4-1.3-3.9-0.4-4 0.4-6 2.1-4 2.7-4 4.1-3.3 5.4-2 6-0.8 6-0.1 8 0.9 7.9 1.9 6 2.1 4 3 4 4.3 4.1 6 4.1 6 2.7 5.9 1.4 4.4-0.3zM440.8 1596.8l2.9-0.8 4-3.2 2-4 0.7-5.9-0.8-4-2.2-4-3.7-3-4-1-4 1.6-2 2.8-1.1 5.6-0.1 7.9 0.7 4 1.2 2 3.3 2 3.1 0zM956.2 1606.8l3-2.1 1.6-3.9 0.1-4-1.3-4-2.4-4-3.5-3.9-6.5-5.8-4-2.7-6-2-4 0.1-4 0.7-8 3.4-4.5 4.3-1.3 4 1 3.9 8.1 10 6.7 5.4 4 1.5 4 0.5 12-0.3 5-1.1zM1197.6 1628.7l3.3-0.5 4-1.5 2.8-1.9 3.2-3.4 3.1-6.6 0.7-8-0.6-4-1.5-4-4.2-6-3.5-2.6-4-1.8-4-0.8-4 0-4 0.8-4 1.8-5.1 4.6-2.7 6-0.7 8 0.7 4 1.5 4 4.6 6 3.7 3 4 2 4 0.9 2.7 0zM1033.3 1664.6l6.7-3.9 4.3-4 1.9-4-0.1-4-1.8-4-3.7-4-6.3-4-7.2-2.4-6 0-4 1.2-4 2.3-10 7.5-2 0.5-2-0.3-4-2-4-2.9-16-13.6-4-1.8-3.9 0-4 2.2-10 9.2-11.1 8.1-1.2 2 0.4 2 2.6 2 17.3 5.1 19.9 6.9 4 0.5 4.6-0.5 3.4-1.4 6-3.8 4-1.4 6 1.7 14 8.2 4 0.6 6.2-2zM1574 1672.6l4.5-3.2 2-2.5 2.1-4.2 1.2-6-0.2-4-1-4-4.1-7.5-4-3.8-2-1.2-4-1.1-6 0.6-5.1 3-1.7 2-2 4-0.9 8 1.3 8 3.2 5.9 5.2 4.8 6 2.1 5.5-0.9zM671.3 1674.6l4.7-2 3.7-4 1.9-5.9-0.4-6-2.4-6-3.3-3.9-4-2.2-4-0.6-2 0.3-4.7 2.4-3.3 4.5-1.2 3.5-0.5 4 0.5 5.9 1.6 4 3.8 4 4.6 2 5 0zM1950.4 1688.6l2.5-4 2-6 1.1-8-0.2-6-1.2-3.9-2.5-3.2-2-1.1-4-0.2-4 2.1-2 2.9-2.4 9.4-0.4 6 1.5 6 3.3 5.4 2 1.8 2 0.8 2-0.2 2.3-1.8zM434.5 1712.5l3.2-1.5 2-1.7 2.1-2.8 1.8-4 1.8-9.9-0.8-8-2.9-6.4-2.8-3.6-3.2-2.7-6-2.3-6 0-3.1 1-2.9 1.9-2 2.4-1.8 3.7-3.5 16 0.5 6 2.2 3.9 1.8 2 5.7 4 7.1 2.5 4 0.1 2.8-0.6zM2032 1910l0-100.8-2-0.7-22.1-12.2-8.8-6-9.1-7.2-5.9-3.3-6-0.6-6 1.5-8 4.2-7.1 5.4-2.9 3.7-0.9 2.3-1.8 12-2.5 6-3.1 3.9-9.7 7.9-1.4 2.1-0.5 2 0.2 8-1.1 4-1.3 2-4.3 4-29.6 17.2-5.9 2.4-6 1.4-8 0.3-8-0.4-10-2.2-18-7.9-4-0.4-2 0.4-4 2.6-2 2.8-3.7 7.7-3.6 10-2.6 4-2.6 2-5.5 1.4-4-0.5-6-3-7.9-7.3-2-0.9-4 0-4.8 2.3-5.1 4-4 4-4.7 5.9-3.4 2.7-6 2.1-6 0.2-4-1.2-4-2.3-5.6-5.4-2-4-2.4-11.7-4-8.7-2.2-3.6-1.8-1.5-2-0.7-2.3 0.2-7.7 3.4-4-0.6-3.9-3.7-16-20.3-5.6-4.7-18.4-13.6-8.8-8.3-8.1-10-7.8-12-7.6-13.9-8.2-18-3.5-5.7-4-4.2-4-2.7-3.9-1.6-4-0.5-10 1-12 3.5-7.8 4.2-4.2 4-4 6.2-4 9.2-14 43.9-4 8.2-4.1 6.3-13.9 16-10.2 13.9-3.7 4.2-4 3.3-4.4 2.5-5.6 1.9-6 0.4-6-1.2-4-1.9-4-3.2-3.1-4-3.1-6-10.7-31.9-6.8-29.9-11.1-35.9-3.2-7.6-4-6.7-5.9-7.6-7.3-8-2.7-4-1.8-6-0.4-12-1.8-5.9-4-6-6-5.3-4-2.1-6-1-6 1.5-6 3.6-5.9 5.3-12.1 12.7-10.8 7.2-3.2 3-2 3-10.6 21.9-7.8 12-13.5 22.5-8.6 17.4-21.4 30.4-9.7 15.5-6.3 7.4-8 7-16 10.5-6 2.3-7.9 0.2-10-1.5-6-2.2-6-3.8-5.2-6-8.2-15.9-1.4-4-1.1-8-1-2-5.2-4-3.9-1.9-4-1-4 1.1-2 2-2 3.6-6.6 22.2-3.4 7.5-6 7.1-6 4.2-7.9 2.5-4 0.3-4-0.5-6-2.3-11-6.9-11-4.5-2.1-1.5-3-3.9-2.9-10-2.3-4-16.5-16-10.2-11.9-5.6-8-1.9-4-1.7-6-2.3-21.9-1.5-4.3-3.6-5.7-4.3-4.7-4-3.3-10-6.2-10-4.4-4-0.8-4 0-6 1.1-8 3.2-18 10.4-18.4 8.7-3.5 2.2-4 3.7-3.6 6.1-7 19.9-7.9 14-3.5 8.1-7.8 23.8-1.1 15.9-2.5 8-4.5 6-6.1 4.8-8 4.7-8 2.5-10 0.8-6-0.7-4-1.1-8-4.2-7.8-6.8-2.9-4-2.4-6-1-6-0.4-13.9-1.2-10-2.2-10-3.3-7.9-4.7-5.9-6-4.3-8-2.7-8-0.3-10 1-2 0.8-2 1.6-3 5.8-4.2 13.9-2.7 4-2.1 1.5-2 0.9-4 0.5-15.9-1.6-6 0.9-4 1.7-6 4.5-14.1 13.6-18.5 11.9-11.4 12-4 2.5-6 1.4-8-0.7-17.9-3.5-6-1.8-6.4-3.9-11.6-12.6-2-1.5-2-0.4-2 1.2-2 2.5-5 8.8-3 4.3-2 2-4 2.7-4 1.4-4 0.3-4-0.4-6-2-6-3-6-4.3-6-5.8-11.9-13.3-15.6-11.8-4.4-4-4.7-6-3.3-7.2-2-3-4-2.7-4-0.8-6 0.2-4 1-4.6 2.6-1.8 1.9-1.2 4-0.6 8-4.9 29.9-1.7 6-3 6-3.5 4-4.7 3.2-6 2.2-5.9 1.1-18 0.7-6-0.8-4-1.3-4-2-6-4.3-12.8-12.8-7.2-6-6-3.5-6-1.7-4 0.1-4 1.7-4 3.4-6 7.3-3.9 3.3-2 1-4 0.7-4-0.8-4-2.8-2-2.4-8.5-16.2-5.5-8-2.1-2-3.3-2-2.6-0.5-2 0.3-4 1.9-4 4.2-1.8 6.1 0.4 8-0.4 1.9-1.1 2-7.1 5.9-4 4.7-2.1 3.4-4.8 12-5.6 8-4.6 7.9-2.9 3-2 1.2-2 0.8-4 0.3-1.9-0.3-4-1.9-3.2-3.1-9.9-17.9-4-12-6.3-25.9-4-12-2.6-11.3-1.3-2.7-1.8-1.9-2.9-1.4-2 0.5-2 1.3-8 8-6 4.8-15.5 16.7-5.9 9.9-8.6 10-6.8 12-9.1 9.8-4 6.2-4 9.1-1.4 8.8 1823.4 0zM1985.4 1766.4l2.6-0.4 4-2.4 4-5.2 1.6-4 1.3-6 0.1-4-0.8-4-1.9-3.9-4.3-4.3-3.4-1.7-4.5-1.2-12-0.5-8 0.7-4.1 1-1.9 1.4-1.3 2.6-0.3 5.9 2.5 8 5.1 8.7 4 4.4 4 2.5 6 1.7 7.3 0.7zM819.3 1768.4l4-1.9 4-4.3 1.8-5.8-0.3-6-2.2-6-3.3-4.1-4-2.7-4-1.1-2 0.1-4 1.9-2.3 3.9-0.7 6 0.7 8 2.1 6 2.2 3.2 2 1.8 2 0.9 4 0.1zM555.8 1794.3l2.3-2 1.9-4 0.4-4-0.8-6-1.9-3.9-2.1-2.4-4-1.9-4 0.3-3.4 2-3.3 4-1.2 3.9 0.5 6 1.4 3 2 2.5 4 2.6 4 1 4.2-1.1zM433.9 1810.3l3.8-2.6 4-4.5 2.3-4.9 0.6-4-0.4-4-2.5-5.3-4-3.9-4-2.2-4-1-4-0.1-13.9 2.6-4 0.2-6-0.7-12-2.7-4-0.1-4 1-4 2.7-2.9 3.5-1.9 4-1.2 6 0.9 6 3.1 4.5 4 2.5 4 1.2 4 0.4 18-1.9 4 0.6 9.9 3.5 6 1 4-0.4 4.2-1.4zM1822.9 1826.2l0.5-2-1.2-2.4-2-0.8-2 0.9-0.8 2.3 0.8 2.7 2 0.9 2.7-1.6z"/>
<path fill="#262626" fill-rule="evenodd" d="M1370.8 1193.9l3.9-2.1 4.2-3.9 3.7-6 1.9-6 0.4-5.9-0.8-4-5.1-12-32.1 0-2.1 10-0.3 6 1.2 7.9 3 7.3 4 5.1 6 3.8 6 1.1 6.1-1.3zM710.7 1391.4l2.7-2.3 2.8-5.7 1.2-6 0-6-1.5-6-2.3-3.9-2.2-2-4-0.8-4 1.7-2 1.9-1.8 3.1-1.6 6-0.1 6 1.5 7.2 3 4.8 3 2.2 2 0.5 3.3-0.7zM1441.6 1499.1l3-1.6 2.7-2.4 2.9-4 1.8-4 2.1-10 0-5.9-0.8-6-1.4-4-2.3-4-3-3.3-4-3.4-4-2.3-4-1.3-3.9-0.4-4 0.7-4 1.7-4 3.1-2.5 3.2-2.1 4-1.2 4-0.8 6 0.1 6 1.1 5.9 1.5 4 2.4 4 3.5 4 4 3.1 4 2.2 3.9 1.3 4 0.4 5-1zM443.5 1592.8l2.3-2 1.9-3.9 0.1-6-1.7-4-1.7-2-2.7-1.6-2-0.3-2 0.5-1.7 1.4-1.1 2-0.9 6 0.5 5.9 1.2 3.1 2 1.6 2 0.4 3.8-1.1zM946.2 1602.8l3-1.3 2-1.6 1.8-3.1 0.3-2-0.3-2-1.6-4-4.2-5-4-3-6-2.1-6 0.7-3.3 1.5-2.5 2-2.2 4 0.2 3.9 1.8 4 4 4.9 4 2.7 4 1.2 4 0.2 5-1zM1203.3 1622.8l4.4-4 2.7-6 0.5-6-1.6-6-2.4-3.7-2-2-4-2.4-6-1.1-6 1.3-3.2 1.9-1.9 2-2.9 5.9-0.4 6.1 1.8 6 4.6 5.8 6 3.4 6 0.4 4.4-1.6zM1031.5 1660.7l3.6-1.9 2.8-2.1 2.7-4 0.3-4-1.9-4-1.9-2-4-2.8-6-2.1-6 0.3-5.1 2.6-3.5 4-1.3 4 1 4 1.4 2 4.8 4 4.7 2.3 4 0.6 4.4-0.9zM1575.3 1666.6l3.2-3 2.3-4.9 0.5-4-1.1-6-2.1-4-3.6-4-4-2.1-4-0.3-2.1 0.4-3.9 2.2-2 2.5-1.5 3.3-0.6 6 1.1 6 3 5.2 4 3.3 2 0.8 4 0.5 4.8-1.9zM671.2 1672.6l4.3-2 2-2 1.9-4 0.3-5.9-2-6-2.2-2.9-4-2.7-4-0.6-4 1.3-2 1.7-2 2.9-1.3 4.3-0.1 6 1.4 4.5 2.9 3.4 4.2 2 4.6 0zM1947.8 1684.6l2.3-1.9 2-3.6 1.3-4.5 0.7-6-0.2-4-1.5-3.9-1.9-2-2.4-0.9-4 0.9-2 2-2 5.4-1.1 8.5 1.1 5.2 2 3.1 2 1.6 2 0.6 1.7-0.5zM434.3 1708.5l3.1-2 1.9-2 2.4-4.4 1.7-7.5-0.3-6-1.4-4-2-3.4-4-4-4-1.9-6-0.4-4.3 1.7-3.7 4.3-1.4 3.7-1.9 8-0.5 4 0.1 4 1.6 3.9 1.6 2 4.5 3.3 6 1.7 4-0.2 2.6-0.8zM2032 1910l0-89.9-2-0.8-5.7-5-6.1-4-32.2-14.7-5.9-1.8-6-0.7-6 0.8-4.9 2.4-3.1 3.4-4.1 10.6-3.4 5.9-12.5 12.6-1.4 3.4-1.3 8-1.9 4-1.7 2-3.7 2.8-16.8 9.1-17.2 10.8-5.9 2.2-6 1.1-10 0.5-8-0.5-8-1.8-14-6.6-6-1.3-3.8 1.6-2.2 2.7-2.6 5.3-3 10-1.8 4-2.6 2.9-4 2.3-6 0.8-6-1.5-5.9-4-6.6-6.5-3.4-1.4-2 0.2-4 1.6-4.7 3.6-4.1 4-5.2 6.5-4 3-6 2-6 0.1-4-1.1-4-2.1-4-3.3-2.7-3.1-1.9-4-1.4-8.9-1.8-5.1-4-8-2.2-2.2-2-0.7-2 0.3-6 3.6-4 1.6-2 0.1-2-0.8-1.9-1.9-14-18.6-4-4.4-6-4.9-17.6-12-9-8-8.4-9.9-8-12-7.8-14-11.2-21.9-3.5-4-2.5-1.9-3.9-1.7-4-0.6-8 0.8-10 3.4-6.5 4-5.5 5.8-4 6.9-3.8 9.2-10.2 35.6-5 12.3-7 10.5-25.9 29.4-8 6.5-4 2.2-6 2.2-10 1.2-6-0.7-4-1.1-4.6-2.3-4.9-4-3.3-4-3.4-6-3.8-9.9-6.9-22-9.1-37.5-7.4-20.3-4.6-9.8-3.8-6.2-12.3-14-3.8-5.9-1.2-4-0.4-4 0.2-6 1.8-12-0.1-4-1.1-4-2.5-3.9-4.4-4-4.3-2.1-4-0.7-6 1.2-4 2.2-4 3.3-6.6 8-4 8 0.1 4 1.1 2 5.4 6.2 3.6 5.8 0.8 4-0.4 2-1.5 1.9-4.5 1.8-6-0.9-4-2.2-2.8-2.6-5.2-8.8-2-0.6-2 0.9-2 1.9-17.9 26.5-14 23-9.1 18.9-21.1 29.9-10.7 18-7.1 7.9-6 5-16 11.5-6 2.7-7.9 0.2-12-2.1-8-3-6-4-4-4.3-2.1-4-2.9-7.9-4.6-10-1.3-8-1.1-3-2-2.1-4-2.4-6-1.8-2 0.3-2 1.2-2.6 3.8-3.4 11.2-3.3 14.8-2.7 6.3-2.4 3.6-3.6 3.8-4 3.2-4 2.2-7.9 2.3-4 0.2-4-0.5-6-2.4-12-7.9-13.3-4.9-2.8-2-1.9-2.5-1.3-3.4-1.7-8-3-5.1-29.5-26.8-5.4-6-2.5-4-1.5-4-0.4-4 0.9-14-0.2-5.9-1.3-5.4-2.6-4.6-5.4-5.6-8-5.3-10-3.8-8-0.9-8 1.4-9.6 4.2-29.1 18-5.3 4.6-3.5 5.3-7.2 16-11.2 15.8-6 12.2-6 15.8-1.3 18-1.5 6-2.1 4-5.1 5.6-8 5.5-8 4.2-8 2.3-6 0.7-6-0.1-6-0.9-4-1.3-4.5-2-5.4-3.4-7.6-6.6-3.9-6-1.8-6-0.6-6-0.3-19.9-1.5-10-2.5-8-3.8-5.9-4-3.3-6-2.7-6-0.7-8 1.6-6 3.6-3.8 5.5-4.1 9.9-2.1 3.8-2 2.5-4 3.1-4 1.6-4 0.7-4-0.1-9.9-2-4-0.3-4 0.6-4 1.6-4 2.9-14 12.1-17.7 11.4-8.3 10.2-4 4.1-4 2.5-6 1.7-8-0.5-25.9-6.3-4-1.8-4-2.6-10-9.7-2-1.2-2-0.1-2.3 1.7-7.8 12-3.9 3.8-4 2.4-4 1.2-6 0.2-4-0.6-6-1.9-6.4-3.1-6-4-5.6-5.6-8.8-12.3-5.4-6-19.4-14-8.3-7.4-4-2.2-4 0-2.8 1.6-3.2 3.4-4 6.4-3.8 10.2-4.6 21.9-1.5 4-2.2 4-3.7 4-4.2 2.7-6 2.2-8 1.2-21.9 1.2-6-0.7-4-1.3-4-2-6-4.5-14-14.4-5-4.4-6.9-4-4.1-0.9-4 0.5-3.9 2.4-8.1 10-5.9 4.7-6 1.7-6-1-4-2.7-3.6-4.7-8.4-17.9-3.8-6-4.2-3.7-4-0.9-2 0.4-3.3 2.2-2.3 4-0.1 4 1 6-1 3.9-1.8 2-8.5 5.8-4 4.9-2 3.6-3.7 9.7-6.3 9-5.2 8.9-4.8 3.6-6 1-3.9-1-5-3.6-2.7-4-8.6-15.9-4.7-14-5-20.7-5.4-15.2-2.6-9.8-2-3.3-2-1.2-2 0.2-2 1.3-7.8 8.8-8.2 5.7-12.4 12.3-7.3 11.9-8.3 9.7-5.6 10.3-8.3 8.9-4 5.5-4 7.6-2 7.7-0.4 4.2 1822.4 0zM1982.4 1758.4l3.6-0.8 2.6-1.2 2.3-2 2.5-4 0.9-4-0.1-4-1.5-3.9-1.4-2-2.2-2-3.8-2-7.2-1.6-10 0.7-3 0.9-3 1.9-1.4 2.1-0.6 2 0.2 3.9 1.8 5.3 3 4.7 3 2.9 4 2.2 4 0.9 6.3 0zM822.2 1762.4l2.1-2 1.9-4 0.4-4-1.3-5.4-2-3.3-3.9-3.3-4.1-1-2 0.2-2 1-2.4 3.8-0.6 6 1 6.3 2 3.9 2 2 2 1 4 0.2 2.9-1.4zM555.6 1790.3l2-2.3 0.9-3.7-0.2-4-0.7-2.6-2-3.3-2-1.5-2-0.7-4 0.7-2.1 1.5-2.5 3.9-0.5 4 1.1 4 2 2.7 4 2.2 4 0.1 2-1zM433.9 1806.3l3.8-3 2.2-3 1.5-4 0.1-4-1.3-4-2.5-3.3-2-1.6-4-1.8-4-0.6-4 0.3-11.9 3.9-4 0.8-4-0.4-12-4.3-6-0.5-4 1.1-2 1.2-3 3.2-1.9 4-0.6 4 1.5 5.4 2 2.4 2 1.3 4 1.5 4 0.3 4-0.4 10-2.8 4-0.5 4 0.8 8.8 4 5.1 1.5 6 0 4.2-1.5z"/>
<path fill="#212121" fill-rule="evenodd" d="M1371 1187.9l3.2-2 2.5-2.5 2.3-3.5 1.5-4 0.4-5.9-0.8-4-1.4-3.3-5.5-8.7-19.3 0-3.4 8-1.1 6 0.4 5.9 2 6 2.6 4 1.9 2 4.4 2.6 6 0.7 4.3-1.3zM707.4 1387.4l2-0.4 2-1.4 1.5-2.2 1.5-4 0.5-4-0.2-4-1.3-4.3-2-2.7-2-1.3-2-0.2-2 0.6-2 1.7-1.4 2.2-1.3 4-0.3 4 0.5 4 1.5 4 3 3.3 2 0.7zM1440.6 1491.1l4.5-4 2.9-6 1-7.9-0.8-6-2.9-6-4.7-4.5-6-2.5-5.9 0.2-4 1.9-2 1.7-3.4 5.2-1.3 4-0.4 4 1.1 7.9 1.8 4 2.2 3.1 3.1 2.9 2.9 1.8 5.9 1.6 4-0.6 2-0.8zM443 1588.8l1.5-1.9 0.6-2-0.1-4-0.8-2-1.8-2-2.7-1-2 0.9-1.1 2.1-0.5 6 1.6 4.1 2 1 2-0.3 1.3-0.9zM943 1598.8l2.9-2 1.2-2 0.3-2-0.3-2-2.3-3.9-3.6-2.9-4-1.2-4 0.6-2.5 1.5-1.6 2-0.6 3.9 0.6 2 2.1 3.3 2 1.7 4 1.6 2 0.2 3.8-0.8zM1200.7 1618.8l2.7-2 2.5-4 0.8-6-1.1-4-2.7-3.7-4-2.5-4-0.6-4 0.9-2.8 1.9-2.6 4-0.6 2 0 4 1.2 4 2.8 3.7 4 2.6 4 0.7 3.8-1zM1030.2 1656.7l3.1-2 1.6-2 0.6-2-0.4-3.2-1.8-2.8-4.2-2.7-4-0.7-4 0.9-2 1.4-2 2.6-0.6 2.5 0.6 2.8 2 2.9 3.5 2.3 2.5 0.7 5.1-0.7zM1573.2 1662.7l3.3-3 1.4-3 0.3-4-1.1-4-2.6-4-2-1.5-4-1.2-3.4 0.7-2.7 2-2 4-0.3 4 0.8 4 2.5 4 3.1 2.2 4 0.6 2.7-0.8zM674 1668.6l1.9-2 1.6-3.9-0.1-4-1.4-4-2.5-3.2-2-1.2-4-0.6-2 0.6-2.8 2.4-1.9 4-0.4 4 1.1 4.7 2.5 3.2 3.5 1.7 4-0.3 2.5-1.4zM1948.2 1678.6l2.4-4 1-4 0.2-4-1.7-5-2-1.4-2 0-2 1.3-2 4-0.9 5.1 0.2 4 0.7 2.4 2 2.3 2 0.4 2.1-1.1zM433.4 1704.5l2.3-1.5 2-2.1 2-3.7 1.2-4.6-0.3-6-1.8-4-3.1-3.5-4-2.2-4-0.3-4 1.5-2 1.9-1.6 2.6-2.2 8-0.2 6 2 4.9 3.9 3 4.1 1.1 5.7-1.1zM1403 1728.5l3.7-2.9 3-5.1 2.2-6 0.7-6-1-4-2.9-4.1-4-2.5-2-0.6-4-0.1-6 2.4-4 3.7-3.2 5.2-0.8 4 0.1 2 0.5 2 2.1 4 5.3 5.6 2 1.4 4 1.6 2 0.1 2.3-0.7zM1983.4 1752.4l2.6-1.6 2-2.4 1.2-4-0.7-4-3-3.9-3.6-2-5.8-1.2-6 0.6-4.5 2.6-1.2 2-0.4 3.9 1.4 4 2.7 3.6 2 1.5 4 1.7 4 0.4 5.3-1.2zM2032 1910l0-63.3-2-0.8-2-2.1-10.7-15.6-6.2-6-6.8-4-12.3-5.4-7.9-2.6-6-0.9-6 0.4-6 2.4-18 15.4-4 5.2-4.5 11.5-3.5 4-4 2.6-15.1 7.3-16.9 11.7-7.9 4-6 1.7-6 0.9-12 1-6-0.1-8-2-12-6.2-4-0.2-2 1.1-2 2.9-2.9 11.2-2 4-4.2 3.9-4.1 2-6.8 1.1-4-0.6-4-1.4-5.9-4-8-8-2-1-2-0.1-4 1.7-3.2 2.4-4.8 4.6-6 7.3-4 2.8-8 2-4-0.1-4-1-4-2.1-4-2.9-3.9-4.6-1.8-4-2.3-11.9-4-8.3-2-2.3-2-0.7-3.2 1.2-10.8 10.3-3.9 3.2-6 2.2-1.9-1.7 2.2-8-0.5-6-2.9-6-6.9-9.5-6.5-6.4-23.5-15.3-9.7-8.7-6.3-7.5-5.7-8.4-16.3-28.3-6-9-2.6-2.6-3.3-2.3-6-1.4-8 1.5-6 2.9-6 5.1-4.4 6.2-3.6 7.5-2.9 8.4-7.4 31.9-3 10-4.7 9.4-6 7.5-16 13.9-13.2 13.1-8.7 6-8 3.4-10 2.5-10 0.6-8-1.1-8-3-6-4.4-4-4.9-4-7.1-5.2-12-4.2-11.9-3.3-12-5.6-23.9-3.7-12.3-5.9-13.8-4-6.8-3.9-5-6.1-6-8-5-8-3-16-3.6-6-1.9-8-3.7-8-5-4-1.4-2 0.2-4 2.7-8 9.2-5.9 8.1-12 19.7-6.8 15.6-2.2 4-21 29.8-8.2 16.1-5.3 7.9-6.1 6-10.6 8-9.8 8.2-4 2.1-4 0.9-7.9-0.5-16-4-10.3-4.7-7.9-6-2.4-4-0.4-9.9-4.3-12-1.2-8-0.8-2-2.7-2.6-6-2.7-2-0.1-3.1 1.4-2.9 4.9-3.1 13.1-0.9 15.9-1 4-2.6 4-4 4-4.4 3.3-6 3.4-5.9 2.1-4 0.7-4 0.1-4-0.6-6-2.6-14-9.5-12-3.2-4-1.7-2.7-2-2.6-4-3.4-13.9-1.3-2.2-3.6-3.8-18.4-12.8-8-4.3-11.9-5.4-4.3-3.4-1.6-4-0.2-4 1-6 4.2-12 1.4-6-0.1-5.9-1.1-4-1.3-2.4-3.1-3.6-5.6-4-7.3-3-8-1-6 0.8-6 2-5.7 3.2-5.3 4-6 6-2.7 4-1.6 3.9-0.3 4 1 4 4 8 4.2 6 3.8 4 6.6 4.8 16.1 7.1 3 2 1.6 2 1.2 4-0.6 6-2.4 6-2.9 4-4 3.3-4 1.7-6 0.7-6-0.9-28-9.1-8-4.4-9.9-8.8-2-0.8-4 0.6-2 1.3-4 4.1-4 6.4-2 4.6-1.5 7.3-0.8 15.9-1.8 6-2.3 4-3.8 4-7.8 5.1-12 5.9-8 2.3-6 0.7-8 0.1-6-0.7-6-1.6-5.9-2.5-6-3.4-5.4-3.9-3.9-4-3.4-6-1.3-6-0.3-6 0.8-21.9-0.9-8-1.4-6-2.2-4.7-4-4.5-4-2.2-6-1-6 1.3-2.3 1.2-3.7 2.9-3.6 5-7.2 14-3.4 4-5.8 4.5-6 2.9-4 0.9-4 0-11.9-2.2-4 0.3-4 1.5-30.1 20-3.8 4-7.1 10-4.4 4-6.6 3.3-6 1-8-0.8-25.9-6.9-6.5-2.6-9.5-6.2-4-1.5-2 0.7-2 2-8 9.7-4 3-4 1.7-6 1.2-6-0.2-8-1.5-9.6-2.9-10.6-4-3.3-2-1.9-2-1.6-4-1.3-8-1.2-4-3.1-5.9-3.4-4-7.9-6-8-4.5-8-3.5-4-0.5-4 1.2-2 1.4-2 1.9-2.7 4-3.3 8.5-2.8 17.4-1.7 6-3.5 5.7-4 3.8-6 3.1-6 1.4-19.9 0.7-12 1.8-6 0.1-6-1.5-6-3.5-8-7.2-13.4-14.4-4.6-3.4-4-1.7-4 0-2.2 1.1-2.1 2-7.7 10.5-6 4.8-3.9 1.7-6 1.2-4 0-4-1-4-3.2-2-3.1-6-14.6-7-14.2-3-3.1-2-0.8-2 0.3-2 1.6-0.5 2 1.9 8-0.7 3.9-1.5 2-2.8 2-8.4 4.4-4 4-2.3 3.6-4.9 12-4.8 6.4-5.3 9.5-1.7 2-5 3.3-6 0.7-3.9-0.8-2-0.9-4-3.2-11.1-19-3.8-10-5.1-20.1-4-12.9-6-14.3-2-3.3-2-0.5-2 1.3-6 6.6-10 5.5-12 11.2-6.2 10.5-8.5 10-6.8 12-8.4 8.7-4 5.9-4 9-1.1 8.3 1821.1 0zM821.2 1758.4l2.2-4 0.1-4-0.6-2-1.6-2.7-2-1.8-4-1-2 0.7-2 2.7-0.5 2.1 0.1 4 1.3 4 1.6 2 1.5 1.1 2 0.4 2-0.3 1.9-1.2zM555 1786.3l1.1-2 0.2-2-0.7-4-2-2.4-2-0.9-2 0.2-2 1.1-2.1 4 0.7 4 1.4 2 2 1.3 2 0.4 2-0.5 1.4-1.2zM392.5 1800.3l3.5-2 2-2 1-2 0-2-0.9-2-1.8-2-4.5-2.7-4-1.1-4 0.4-4 2.6-1.8 2.8-0.6 4 0.4 2 2 2.8 2 1.4 4 1 4-0.3 2.7-0.9zM433.1 1802.3l2.5-2 1.3-2 1.2-4-0.7-4-1.2-2-2.5-2.2-4-1.6-6 0.5-6.4 3.3-3.3 4-0.3 2 0.5 2 1.3 2 5.3 4 2.9 1.1 4 0.5 5.4-1.6z"/>
<path fill="#1c1c1c" fill-rule="evenodd" d="M1367.5 1181.9l4-2 3.1-4 1-3.9-0.4-4-2-4-2.5-2.8-4-2.3-4-0.1-4 2.2-2 2.8-1.2 4.2 0 4 1.2 4 3.1 3.9 2.9 1.7 4.8 0.3zM709.7 1379.4l1.4-4-0.1-2-1.6-3.5-2-0.7-2.4 2.2-0.6 2 0.2 4 0.8 2 2 1.2 2.3-1.2zM1437.1 1483.1l3.5-2.9 1.5-3.1 0.7-3.9-0.6-4-1.6-3.2-2.9-2.8-3.1-1.3-3.9 0.2-2 0.9-2 1.7-1.6 2.5-1 4 0.6 4.7 2 3.9 4 3.3 3.9 0.7 2.5-0.7zM940.1 1592.8l0.4-2-1.3-1.8-2-0.5-2 1.4-0.3 0.9 1 2 1.3 0.8 2-0.1 0.9-0.7zM1199 1612.8l1.7-2 0.6-2-0.6-4-1.8-2.1-2-1-2-0.1-2 0.6-2 2-0.8 2.6 1 4 1.8 1.9 2 0.8 2 0.1 2.1-0.8zM1028.5 1650.7l0.2-2-1.6-1.7-2.3-0.3-2.1 2 0.3 2 2.1 1.2 2-0.2 1.4-1zM1572.1 1656.7l1.4-2 0.3-2-1.3-3.7-2-1.5-2-0.3-2 0.8-1.6 2.7-0.1 2 0.6 2 1.1 1.5 2 1.2 2 0.1 1.6-0.8zM669.9 1666.6l1.6-0.5 2-2 0.8-3.4-0.3-2-0.8-2-1.7-1.9-2-0.8-2 0.2-2.6 2.5-1 4 0.4 2 1.2 2.3 2 1.4 2.4 0.2zM1947.4 1670.6l0.7-1.3 0-2.7-2-1.1-1.1 3.1 0.2 2 0.9 1.4 1.3-1.4zM434 1698.6l1.8-2 1.6-4 0.1-4-0.6-2-1.2-2.2-2-1.9-4-1.3-2 0.4-2 1-2.7 4-1.1 6 0.9 4 1.2 2 3.7 1.9 4-0.5 2.3-1.4zM1403.4 1718.5l3.4-4 1-4-0.2-2-0.9-2.4-2-2-2-0.9-4-0.1-4 2.4-2 2.9-0.6 2.1 0.5 4 2.1 3.1 2 1.4 4 0.7 2.7-1.2zM1981.5 1746.4l1.3-2 0.2-2-0.5-2-1.7-1.9-2.7-1.5-4-0.5-4.3 2-1.1 1.9 0 2 1.4 2.9 2 1.8 4 1.2 2-0.2 3.4-1.7zM819 1752.4l-0.2-2-1.5-1.6-2 0.8 0 3.4 2 1.3 1.7-1.9zM2032 1910l0-29.8-12 0.2-8 1.8-6 2.9-8.7 6.9-7.3 4.6-7.9 3.4-10 2.6-10 0.6-8-1.4-8-3.7-4.4-4.1-2.3-3.9-1-4 0.6-4 1.1-2.4 4-4.2 15.9-9.4 4.9-4 6.3-8 6.3-11.9 1.4-6-0.4-4-1-2-3.4-3.1-2-0.9-4-0.7-4 0.4-4 1.3-4 2.1-3.8 2.9-3.2 4-5.1 10-1.9 2.3-4 3.1-12 4.8-7.5 3.7-16.5 12.4-8 5-16.4 6.6-5.5 3.4-4 1.6-26 1.3-4 1.2-9.5 4.4-4.5 1.6-6 1-4-0.1-6-1.3-4-1.9-5.9-4.6-6-6.7-2-1.5-2-0.5-4 1.5-3.2 2.6-4 4-4.8 6.3-4 3.2-6 2-6 0.6-4-0.5-6-2.3-4.8-3.4-3.9-4-2.3-3.9-1.5-10-1.5-4.6-4-7.2-2-0.8-2 0.8-1.7 1.8-2.5 4-3.8 8.3-2 2.7-3.6 3-8.3 4.6-6 2.5-6 0.8-6-1.1-6.6-2.8-3.1-2-4.3-4-0.8-2 1.9-2 14.9-9.3 4.8-4.7 1.2-2.5 0-3.5-2.7-6-3.3-4.1-4.5-3.8-5.5-3.4-16-8.3-4-2.7-6-5.3-5.4-6.3-4.6-6.3-16-26.7-6-8.5-5.9-5.5-6-2.2-6 0.8-4 2.1-2.8 2.5-5.2 7.1-4.3 10.8-2.7 14-1.1 17.9 0.9 14 1.2 5.7 1.6 4.3 2.6 3.9 4.7 4 5.1 2.5 8 2.4 6 0.8 5.9 0.1 22-2 6 1.1 6 3.8 8.7 9.3 2.6 4-0.9 2-3.6 2-10.6 4-6.5 2-7.7 1.4-6 0.2-21.9-1.2-24 0.5-5.3-0.9-3.9-2-2.8-2.5-6.4-7.5-3.6-2.8-4-1.4-4-0.2-4 0.7-4 1.7-11.1 8-8.8 4.9-8 3.2-10 3-10 2.3-10 1-10-0.4-10-1.7-10-3.5-4-2.3-2.8-2.5-2.9-4-6.3-12.4-8.5-13.6-2.7-5.9-1.5-6-2-22-2.7-11.9-5.2-14-6.8-12-8.8-9.9-12.3-10-21.4-13.8-4-2.1-4-1.1-4 0.6-4 2.5-6 5.9-4 5.5-11.9 20-4.6 12.4-2.8 6-18.6 25.9-3.5 6-2.4 6-2.4 10 0.4 5.9 2.6 4 15.3 14 1.7 2 0 2-3.6 2-2.1 0.5-4 0.4-4-0.2-6-2-8.4-4.7-3.6-0.6-2 0.3-6 3.2-10 10-6 2.4-6 0.3-6-0.7-23.9-6.4-10-1.2-4 0.8-8 4.6-4 1.5-6 0.1-12-2.5-6-0.3-6 1.2-13.9 4-8 0.7-4-0.9-4-2-16-12.7-4-1.7-6-0.7-5.6 0.6-4.4 1.2-16 8.3-8 2.3-14 0.5-21.9 1.9-10-0.1-8-0.8-12-2.9-10-4.6-6-4.8-8.6-11-4.2-4-16.1-11.9-3-1.7-4-0.7-2 0.9-2.1 3.5-0.6 5.9 0.5 14-0.4 6-1.9 4-2.6 2-5.5 2-35.4 9.8-14 1.2-12-1.2-9.9-2.8-13-5-7.6-4-4-4-1.3-4-0.2-4 4.1-28.9 0.3-7-0.3-6.6-1.8-7.4-2.2-3.7-4-3.1-4-1-6 1.5-5 4.3-2.5 4-6 12-8.5 12-3.1 6-0.9 3.9 0 4 0.9 4 1.1 2.3 4 4.5 13.5 9.2 3.2 4 0.6 2-1 4-4 3.9-4.3 2.1-6 1.5-8 0.5-8-1-6-1.7-6.3-3.4-2.2-1.9-2.4-4-1.1-4-1.4-10-1.5-4-3-4.1-2.6-1.9-3.4-1-6 0.7-4.9 2.3-4.8 4-6.9 10-6.9 6-9.4 6-9.1 3-6 0.6-8-0.8-21.9-6.1-14-3-6-0.7-4 0.8-2 1.3-6 5.5-4 2.7-8 2.4-6 0.6-8-0.1-31.9-3.2-6-1.8-4-2.4-3.1-2.8-2.4-4-1.1-4-0.1-4 2-14-0.7-4-2-3.9-4-4-4.6-2.8-6-2.1-4-0.3-4 0.9-2 1.1-3 3.2-2.1 4-1.6 7.9-0.2 14-0.8 4-1.7 4-3 4-3.6 3.1-4.9 2.8-5.1 1.8-10 1-17.9-0.4-6 1.1-12 3.5-4 0.3-4-0.5-6-2.5-4-2.8-20-20.3-4-2.7-2-0.5-2 0.6-2 1.6-8 13.2-4 3.9-25.2 8.7-4.7 0.7-4-0.2-6.7-2.5-5.4-4-1.2-1.9 0.2-2 6.4-8 1.5-6-0.7-6-1.7-4-2.4-2.4-2-0.6-4 0.8-8 2.5-4 1.7-2 1.4-4 4.6-4.8 12-7.2 9.9-4.1 8-1.9 2-4 2.7-4 1.1-5.9 0-6-2.2-4-3.6-2.6-4-3.4-7.1-5.6-8.8-3.1-8-5.3-20.6-4-12.4-4-7.7-2-2.5-2-1.1-2 0.2-6 3.1-8 3.1-8 5.9-4 3.9-7.3 12.1-8.6 10-5.2 10-3.3 4-5.5 5.2-4 5.3-4 8.4-1.2 9 1819.2 0zM1027.6 1796.3l5.5-1.8 4.8-4.2 2.8-4 2-4 1.2-5.9-0.5-4-1-2-3.3-3.8-4.1-2.2-5.9-1.2-4 0.2-3.9 1-6.1 3.5-3.9 4.5-2.2 5.9 0.2 4 1.3 4 2.6 3.9 2 2 6 3.4 4 0.8 2.5-0.1zM387.9 1796.3l2.2-2 0.2-2-0.5-0.9-2-1.6-2-0.3-2 0.6-1.7 2.2 0.1 2 2 2 3.7 0zM429.9 1798.3l2.5-2 0.8-2-0.2-2-1.2-2-2.1-1.1-2-0.3-3.8 1.4-1.5 2-0.4 2 0.9 2 2.8 2.1 4.2-0.1zM1376.7 1890.1l-14 1.1-8-0.5-8-1.2-7.9-2.1-8.5-3.3-6.7-4-1.6-2 0.8-2 6-6.7 4-6 4.9-11.2 1.9-8 0.6-6-0.9-22 1.4-4.1 1.9-1.8 2.1-1.1 6-0.5 7.7 1.6 11.5 4 11.7 5.9 7.5 6 5.4 6 5.3 8 3.7 8 2 7.9 0.2 6-1.9 8-3.1 5.9-4 4.7-6 4.5-6.1 2.9-7.9 2zM1195.6 1852.2l3.2-2 0.6-2-3.6-18-1.2-2-3-2-2.7-0.7-2 0.1-2 1.2-2 3.5-2.1 9.9-0.3 4 0.5 4 1.9 3.4 2 1.3 4 0.3 6.7-1zM1071.1 1870.1l3.9-0.5 2-0.9 6-4.9 3.2-5.7 1.1-4 0.2-3.9-0.7-4-1.8-3-2-1.9-6-3.4-6-1.3-4 0.5-2 0.8-2.6 2.3-2.2 4-0.9 6 1.2 7.9 2.5 6.2 4 4.4 4.1 1.4zM271.9 1886.5l-2 0.7-2-0.7-0.5-0.4 0.2-2 2.3-0.5 1.2 0.5 1.1 2-0.3 0.4z"/></g>
</g></g>
<g clip-path="url(#hc)">
<path d="M503 1901v-16M810 1901v-16M1113.5 1901v-16M1421.5 1901v-16M1729 1901v-16M2023 1347.5h-17M2023 1534.5h-17M2023 1720.5h-17M2023 1165h-17" stroke="#000" stroke-opacity="0.3" stroke-width="4" fill="none"/>
<ellipse cx="1111.5" cy="1773" rx="893.5" ry="118" fill="none" stroke="#fff" stroke-opacity="0.92" stroke-width="4.3" stroke-dasharray="19.5 18" stroke-dashoffset="8" filter="url(#eb)"/>
</g>
<path d="M190.5 1162V1904M2025.3 1162V1904" stroke="#c8c8c8" stroke-width="3" fill="none" opacity="0.6"/>
<path d="M192 1162.3H2024" stroke="#e6b8b8" stroke-width="2.4" fill="none"/>
<path d="M192 1903H2027" stroke="#7a7ab8" stroke-width="3" fill="none"/>
<g font-family="'Liberation Sans',Arial,sans-serif" font-size="47.5" fill="#1c1c1c" filter="url(#tb)">
<text x="177.5" y="1199.8" text-anchor="end">500</text>
<text x="177.5" y="1345.2" text-anchor="end">400</text>
<text x="177.5" y="1490.2" text-anchor="end">300</text>
<text x="177.5" y="1634.0" text-anchor="end">200</text>
<text x="177.5" y="1779.5" text-anchor="end">100</text>
<text x="2036.5" y="1183.9">0.012</text>
<text x="2036.5" y="1368.8">0.016</text>
<text x="2036.5" y="1553.2">0.024</text>
<text x="2036.5" y="1739.0">0.049</text>
<text x="2036.5" y="1922.9">6.25</text>
<text x="199.7" y="1967.3" text-anchor="middle">0</text>
<text x="504.3" y="1967.3" text-anchor="middle">50</text>
<text x="812.4" y="1967.3" text-anchor="middle">100</text>
<text x="1115.5" y="1967.3" text-anchor="middle">150</text>
<text x="1419.1" y="1967.3" text-anchor="middle">200</text>
<text x="1727" y="1967.3" text-anchor="middle">250</text>
<text x="1109.3" y="2034.5" text-anchor="middle" font-size="52">Relative time [s]</text>
<text transform="translate(76,1534) rotate(-90)" text-anchor="middle" font-size="52">freq. scale[-]</text>
<text transform="translate(2217,1534.6) rotate(-90)" text-anchor="middle" font-size="52">pseudo freq. [Hz]</text>
<text x="483" y="1122" font-weight="bold" font-size="52">CWT: u</text>
<text x="663" y="1145" font-weight="bold" font-size="44">g-hi</text>
<text x="760" y="1122" font-weight="bold" font-size="52" textLength="975" lengthAdjust="spacingAndGlyphs">[m/s], color scale: 0 (blue) to 0.125 (red)</text>
</g>
</svg>
</body></html>
